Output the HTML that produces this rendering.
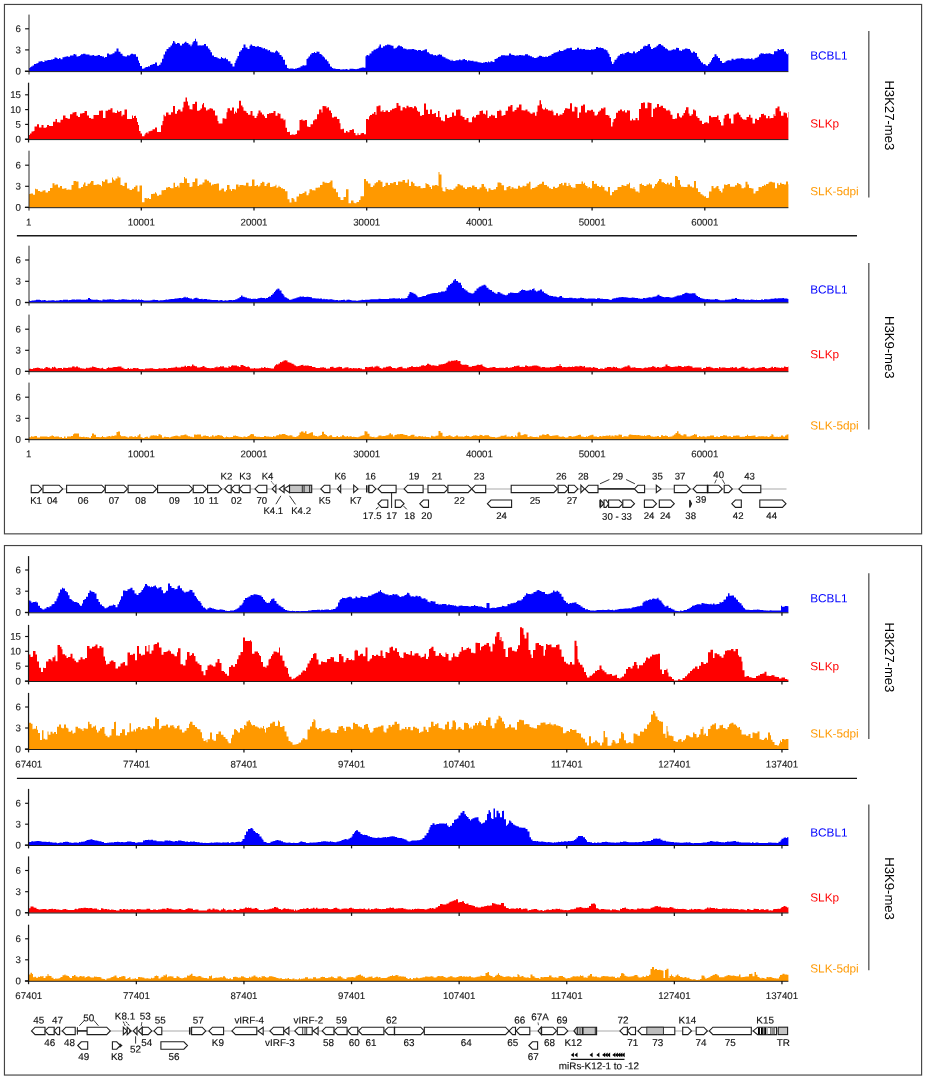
<!DOCTYPE html>
<html><head><meta charset="utf-8"><title>Figure</title>
<style>html,body{margin:0;padding:0;background:#fff}body{width:926px;height:1080px;overflow:hidden;font-family:"Liberation Sans",sans-serif}svg{display:block}</style>
</head><body>
<svg width="926" height="1080" viewBox="0 0 926 1080" style="will-change:transform">
<rect width="926" height="1080" fill="#fff"/>
<rect x="4.45" y="4.45" width="917.15" height="529.4" fill="none" stroke="#444" stroke-width="1.15"/>
<rect x="4.45" y="545.55" width="917.15" height="529.5" fill="none" stroke="#444" stroke-width="1.15"/>
<path d="M29.0,71.3V67.9H30.0V67.2H31.0V66.6H32.5V65.4H34.0V63.9H36.0V63.4H37.5V62.9H38.5V61.5H40.5V61.3H41.5V60.9H42.5V61.9H44.5V60.2H45.5V61.0H46.5V60.2H48.0V59.9H50.0V60.1H51.0V59.4H53.0V59.1H54.5V57.5H56.5V58.1H57.5V59.0H59.0V58.1H60.5V59.2H62.5V57.3H64.5V56.8H66.5V56.2H68.0V56.7H70.0V55.6H71.5V55.6H73.5V54.0H75.0V54.5H76.5V56.4H78.5V55.9H80.0V55.3H81.0V54.3H83.0V53.8H84.0V53.7H85.5V54.4H87.5V54.5H89.5V55.6H91.5V55.6H92.5V55.1H94.0V55.7H95.5V56.0H96.5V55.6H98.0V55.0H100.0V56.0H102.0V56.6H104.0V57.7H105.0V57.1H107.0V53.6H109.0V54.5H111.0V54.3H112.5V53.2H114.5V51.6H116.5V48.4H118.5V51.7H120.5V53.8H122.5V55.7H123.5V56.2H125.0V56.4H127.0V55.3H128.5V55.5H130.0V54.4H131.0V53.8H133.0V54.3H134.5V54.3H136.0V56.7H138.0V60.5H139.0V63.0H140.0V66.1H142.0V68.7H143.5V68.5H144.5V67.7H145.5V67.1H146.5V67.0H148.0V66.2H149.0V66.4H150.0V65.0H151.5V64.5H153.0V64.0H155.0V62.5H157.0V65.7H159.0V64.8H160.5V62.4H162.0V58.7H163.5V54.5H165.0V51.4H166.5V49.0H168.5V47.3H170.5V45.6H172.0V43.6H173.0V40.9H174.5V42.4H175.5V44.1H177.0V43.1H179.0V43.5H180.0V45.6H182.0V43.8H184.0V42.8H185.0V41.7H186.5V42.9H188.5V44.6H190.5V46.3H191.5V44.5H192.5V42.3H193.5V41.0H195.0V38.7H196.0V41.4H197.5V45.5H199.5V45.3H200.5V45.4H202.5V45.3H204.0V44.1H206.0V46.3H208.0V48.6H209.5V50.1H210.5V52.2H212.0V55.5H214.0V57.0H216.0V57.2H217.5V58.2H219.0V58.7H221.0V57.1H222.0V58.1H223.0V58.4H225.0V57.8H226.0V59.2H228.0V61.3H229.0V61.3H230.5V63.7H232.5V66.6H234.5V62.9H235.5V60.6H236.5V58.6H237.5V55.9H239.0V51.7H240.5V50.2H242.0V48.1H243.5V44.6H245.5V47.4H247.5V48.9H249.5V45.7H250.5V44.6H252.0V45.8H253.0V46.1H255.0V46.8H257.0V46.3H259.0V47.0H261.0V47.4H262.5V48.4H264.0V48.1H265.0V49.2H266.5V49.2H267.5V50.5H269.0V50.1H270.0V51.7H271.5V52.4H272.5V52.1H273.5V52.7H275.0V51.4H276.0V50.6H277.0V51.2H278.0V52.4H279.5V55.1H281.5V56.8H283.0V59.8H285.0V64.8H287.0V68.0H288.5V68.8H290.0V68.5H292.0V68.5H293.5V69.0H295.0V68.6H297.0V68.0H298.5V67.4H300.5V66.2H302.5V65.2H304.0V65.4H305.5V65.3H306.5V59.1H307.5V58.3H308.5V56.4H310.0V54.5H311.5V53.1H312.5V53.1H314.0V52.0H315.0V53.1H316.5V51.6H317.5V51.7H319.5V54.0H321.5V55.1H322.5V56.6H324.0V57.4H325.0V59.5H327.0V61.2H328.5V63.8H330.0V66.6H331.0V66.7H332.0V67.9H333.0V68.6H335.0V68.7H336.0V69.0H337.0V68.9H338.0V68.9H340.0V69.4H341.5V69.5H342.5V69.3H344.5V69.5H345.5V69.0H347.5V69.7H349.5V68.8H351.5V68.8H353.5V68.9H355.5V69.2H356.5V68.9H357.5V68.8H359.0V68.2H360.5V67.8H362.0V67.5H364.0V67.8H365.5V56.3H366.5V54.9H368.0V55.4H369.5V53.5H371.5V51.2H373.5V49.8H374.5V49.4H376.0V48.8H377.5V47.9H378.5V46.4H379.5V44.6H381.0V47.8H383.0V46.2H385.0V45.3H387.0V44.6H388.5V44.8H390.5V45.6H392.0V45.7H393.5V48.4H395.5V47.8H397.0V46.5H398.0V45.6H400.0V46.2H402.0V46.9H403.0V48.5H405.0V48.7H406.5V49.5H408.0V49.2H410.0V49.3H412.0V49.0H414.0V49.4H415.5V49.9H417.0V50.7H418.0V50.0H419.5V49.9H421.0V51.0H422.5V50.2H424.5V49.5H425.5V49.3H427.0V52.2H429.0V53.5H430.0V54.3H431.0V54.3H433.0V55.3H435.0V55.1H436.0V55.8H437.5V54.7H439.0V54.3H440.0V54.7H442.0V56.4H443.5V57.2H445.5V58.4H447.5V59.3H449.0V59.7H450.5V61.0H451.5V59.8H452.5V60.8H453.5V61.0H455.5V60.3H457.0V60.3H458.0V60.3H459.0V59.5H460.5V60.3H462.5V59.2H464.0V59.0H465.0V60.1H467.0V61.2H468.0V60.3H469.0V60.5H470.5V60.9H471.5V60.7H473.5V61.5H475.5V61.6H477.5V62.3H479.5V62.5H481.5V62.9H483.0V62.5H485.0V62.0H487.0V62.6H488.0V61.6H489.0V62.2H490.5V61.2H492.5V61.9H494.5V59.0H496.5V58.3H498.0V57.0H499.5V56.4H501.0V55.3H503.0V55.2H505.0V55.4H507.0V55.4H509.0V53.5H511.0V54.7H512.5V54.9H514.5V55.7H516.5V55.3H517.5V55.4H519.0V54.9H521.0V55.3H523.0V55.4H525.0V54.3H527.0V54.2H528.0V55.6H530.0V56.3H532.0V57.3H534.0V57.9H536.0V57.8H537.5V56.8H539.0V55.8H541.0V55.9H542.0V56.7H544.0V57.1H545.5V56.3H546.5V57.1H548.0V55.9H549.5V55.5H551.5V54.0H553.5V52.7H555.5V52.3H557.5V51.6H559.0V50.0H560.0V51.0H562.0V51.0H563.5V49.7H565.5V49.3H566.5V48.3H568.0V48.2H570.0V47.8H572.0V50.0H574.0V49.9H575.0V49.2H577.0V47.8H579.0V49.3H580.0V48.8H581.5V49.2H583.0V49.1H585.0V49.7H587.0V49.7H589.0V50.0H591.0V49.3H592.5V49.7H593.5V49.2H595.0V49.1H596.0V47.1H598.0V47.8H600.0V47.6H601.0V47.9H603.0V48.5H604.0V49.5H606.0V50.2H607.5V52.5H608.5V53.9H609.5V57.0H611.0V61.5H612.0V64.0H613.5V62.2H614.5V59.8H616.5V58.2H617.5V56.3H618.5V55.6H620.0V54.1H622.0V53.6H623.5V54.5H624.5V53.0H626.5V52.1H628.0V51.8H629.0V52.7H630.0V53.1H631.0V53.2H633.0V51.5H635.0V53.2H636.5V52.1H638.0V51.1H639.0V51.0H640.0V49.2H641.5V48.8H643.0V46.4H644.5V45.5H645.5V46.1H647.5V44.6H648.5V44.1H650.0V46.7H651.0V48.9H653.0V48.1H654.5V47.2H656.5V45.7H658.0V44.5H659.0V44.1H661.0V45.2H662.5V45.8H663.5V47.0H665.0V48.4H667.0V49.3H668.0V50.6H670.0V50.5H671.5V49.7H673.0V49.2H674.0V49.6H676.0V47.8H677.5V47.9H679.0V50.6H681.0V50.9H682.0V49.5H684.0V49.3H685.0V48.5H687.0V48.8H688.0V48.9H690.0V50.6H691.0V52.6H692.0V52.7H693.0V51.6H694.0V51.7H695.0V53.0H697.0V56.8H698.5V59.1H700.0V60.7H701.0V62.6H703.0V64.2H704.0V64.1H705.5V65.3H706.5V65.7H708.0V64.0H709.5V62.3H711.0V60.2H712.0V58.1H713.0V57.1H714.5V54.3H716.5V56.2H718.0V57.9H720.0V61.1H722.0V62.9H724.0V62.5H725.5V61.3H726.5V60.8H727.5V60.2H729.5V60.5H731.5V58.8H733.5V59.8H735.5V58.7H737.0V58.5H739.0V58.5H741.0V57.9H742.5V58.5H744.5V59.3H745.5V58.7H747.5V58.4H749.5V59.0H751.0V58.2H752.5V59.4H754.5V58.3H755.5V57.7H757.5V56.7H759.0V54.5H760.5V53.2H762.0V53.5H764.0V54.0H765.5V53.6H767.5V53.8H768.5V53.2H770.5V54.0H772.0V54.3H774.0V51.2H775.5V51.2H777.5V48.9H779.0V50.0H780.5V49.2H782.5V48.9H784.0V51.6H786.0V53.4H787.0V54.3H788.0V53.2H788.4V71.3Z" fill="#0000ff"/>
<line x1="29.0" y1="14.6" x2="29.0" y2="74.5" stroke="#2a2a2a" stroke-width="1.0"/>
<line x1="25.1" y1="28.8" x2="29.0" y2="28.8" stroke="#111" stroke-width="1.15"/>
<text transform="translate(21.0 32.10) rotate(0.03)" font-size="9.7" text-anchor="end" text-rendering="geometricPrecision" font-family="Liberation Sans, sans-serif" fill="#1a1a1a" stroke="#1a1a1a" stroke-width="0.12">6</text>
<line x1="25.1" y1="49.9" x2="29.0" y2="49.9" stroke="#111" stroke-width="1.15"/>
<text transform="translate(21.0 53.20) rotate(0.03)" font-size="9.7" text-anchor="end" text-rendering="geometricPrecision" font-family="Liberation Sans, sans-serif" fill="#1a1a1a" stroke="#1a1a1a" stroke-width="0.12">3</text>
<line x1="25.1" y1="71.3" x2="29.0" y2="71.3" stroke="#111" stroke-width="1.15"/>
<text transform="translate(21.0 74.60) rotate(0.03)" font-size="9.7" text-anchor="end" text-rendering="geometricPrecision" font-family="Liberation Sans, sans-serif" fill="#1a1a1a" stroke="#1a1a1a" stroke-width="0.12">0</text>
<line x1="24.9" y1="71.3" x2="28.5" y2="71.3" stroke="#111" stroke-width="1.25"/>
<line x1="28.5" y1="71.60" x2="788.4" y2="71.60" stroke="#111" stroke-width="0.95"/>
<line x1="141.3" y1="71.3" x2="141.3" y2="74.5" stroke="#111" stroke-width="1.25"/>
<line x1="254.0" y1="71.3" x2="254.0" y2="74.5" stroke="#111" stroke-width="1.25"/>
<line x1="366.70000000000005" y1="71.3" x2="366.70000000000005" y2="74.5" stroke="#111" stroke-width="1.25"/>
<line x1="479.40000000000003" y1="71.3" x2="479.40000000000003" y2="74.5" stroke="#111" stroke-width="1.25"/>
<line x1="592.1" y1="71.3" x2="592.1" y2="74.5" stroke="#111" stroke-width="1.25"/>
<line x1="704.8000000000001" y1="71.3" x2="704.8000000000001" y2="74.5" stroke="#111" stroke-width="1.25"/>
<path d="M29.0,139.3V135.1H30.0V133.6H31.5V131.5H33.5V131.1H34.5V126.5H37.0V124.3H39.0V127.4H41.5V124.9H43.5V127.7H46.0V127.2H47.0V125.1H49.0V125.9H51.0V126.0H53.0V121.8H55.5V119.1H57.0V122.3H59.0V122.5H60.5V119.8H63.0V115.4H65.5V118.0H67.5V118.7H70.0V114.3H72.5V112.5H74.5V111.9H76.5V115.8H78.0V116.9H80.0V113.6H82.5V112.9H84.5V110.9H87.0V115.5H89.0V118.0H91.0V118.7H93.5V115.0H95.5V114.9H97.5V115.0H99.0V110.8H101.0V110.4H103.0V118.0H105.5V110.8H108.0V109.7H110.5V108.3H112.5V112.6H115.0V113.0H117.0V110.4H118.0V111.8H120.0V111.0H121.5V116.3H122.5V114.8H124.5V109.4H127.0V119.1H128.0V119.1H130.5V119.1H132.0V115.6H133.0V117.9H134.0V115.9H135.0V115.8H136.0V118.1H137.0V121.9H138.0V125.0H139.0V130.9H140.5V133.5H142.0V136.3H144.5V134.6H145.5V133.1H146.5V132.3H147.5V133.6H148.5V131.3H150.5V130.7H152.5V129.2H155.0V127.6H157.0V131.9H159.0V132.0H161.0V125.3H162.5V121.0H163.5V114.8H164.5V116.2H166.0V112.6H168.5V114.8H171.0V112.3H173.0V106.1H175.0V113.7H177.0V110.9H178.0V109.4H180.5V111.5H182.5V107.5H183.5V101.7H185.5V97.5H187.0V101.4H188.0V105.6H189.5V109.2H191.5V109.4H192.5V104.1H195.0V101.8H197.0V110.8H199.5V110.1H200.5V108.6H202.0V104.5H203.0V102.9H204.0V107.2H205.0V107.6H206.0V110.4H207.5V109.6H209.5V108.3H211.5V108.7H213.0V110.5H215.0V115.5H217.5V121.1H218.5V123.4H221.0V123.4H222.5V118.3H224.5V118.8H226.5V112.3H227.5V108.3H230.0V110.4H232.0V107.6H234.0V113.7H235.0V111.5H236.0V112.8H237.0V108.6H239.0V100.7H241.0V105.5H242.5V107.2H243.5V110.7H245.5V111.2H246.5V112.9H248.0V114.8H250.5V111.1H252.5V115.8H254.5V118.0H256.5V116.0H257.5V113.4H258.5V110.4H260.5V112.4H262.0V114.6H264.0V116.3H265.0V118.0H267.0V114.1H269.0V113.3H271.0V113.1H273.5V111.1H275.5V115.8H277.5V113.3H279.0V113.7H280.5V118.5H282.5V118.5H283.5V120.2H284.5V119.4H285.5V127.8H287.0V132.0H289.0V131.7H290.0V135.1H291.5V134.4H293.5V134.8H295.5V133.9H297.0V130.4H299.5V120.1H301.5V119.2H302.5V120.6H305.0V120.1H307.0V126.6H308.5V127.0H310.5V124.3H313.0V120.5H314.5V119.3H317.0V114.3H319.0V109.4H321.5V112.6H322.5V106.1H324.5V106.2H326.5V108.3H327.5V107.2H329.0V110.4H331.0V112.9H332.0V117.6H334.0V116.7H335.5V116.7H337.0V119.0H339.5V123.3H340.5V129.2H342.5V128.8H344.0V132.7H346.0V131.1H347.5V132.3H349.5V130.0H352.0V129.2H354.0V132.9H355.5V135.3H357.5V133.2H358.5V134.9H360.5V133.4H361.5V133.1H364.0V134.2H366.0V119.1H368.0V119.6H369.0V116.2H370.0V114.9H372.0V113.7H374.0V112.1H375.5V114.8H376.5V106.2H378.5V105.6H380.5V111.5H382.5V110.1H383.5V112.1H385.5V110.4H388.0V111.9H390.0V110.2H392.0V108.7H394.5V107.9H396.5V102.9H398.5V105.7H400.5V110.4H402.5V107.2H405.0V108.3H406.5V105.8H408.5V107.2H410.0V106.9H412.5V108.3H414.0V106.3H416.0V107.6H417.0V110.7H418.0V111.7H420.0V115.8H422.0V115.0H424.0V103.5H426.0V109.7H428.0V113.9H430.0V109.6H432.0V114.0H433.5V113.7H434.5V113.0H436.0V116.9H438.0V111.1H439.5V117.3H441.0V120.4H443.0V121.2H445.0V114.8H447.0V118.1H449.5V116.9H452.0V112.6H454.0V115.8H456.0V109.7H458.0V109.4H460.5V115.7H462.5V116.9H464.5V119.7H466.5V118.0H468.5V122.2H470.0V122.3H472.0V117.3H473.0V116.3H474.0V117.5H476.0V114.9H477.0V114.8H479.5V111.1H481.5V110.4H483.0V113.7H485.0V114.6H486.0V110.4H487.5V118.0H489.0V116.2H491.0V114.8H492.5V115.6H494.0V115.4H495.0V118.0H497.0V111.0H499.5V109.8H500.5V110.7H501.5V115.8H503.5V114.9H505.5V110.8H508.0V106.4H510.5V105.0H512.5V111.5H514.5V109.9H516.5V107.6H519.0V104.6H521.5V110.3H523.5V110.5H525.5V109.4H527.5V111.5H529.5V112.7H530.5V113.7H532.5V112.6H535.0V115.8H536.5V111.7H537.5V105.5H539.5V100.3H541.0V104.2H542.0V108.6H543.0V109.6H545.0V107.8H546.0V109.2H548.0V110.4H550.5V111.1H551.5V109.8H552.5V111.5H553.5V115.3H556.0V113.3H558.0V115.8H559.5V114.5H561.5V114.8H562.5V112.9H564.0V110.3H565.0V108.3H567.5V108.8H570.0V103.3H572.0V111.5H574.5V106.8H576.0V107.2H577.5V118.0H579.0V112.4H581.0V105.8H583.0V104.6H585.0V112.6H587.0V110.2H589.0V110.5H591.0V109.8H593.0V111.8H594.5V115.4H597.0V114.6H598.0V111.7H599.5V110.5H601.0V108.3H602.5V108.7H603.5V107.4H605.5V114.9H608.0V115.6H609.5V117.9H611.0V126.6H612.5V122.3H613.5V118.9H615.0V118.2H616.0V112.7H618.0V110.8H620.0V109.6H622.0V111.3H624.0V110.3H625.0V112.6H627.0V110.2H628.0V110.4H630.0V120.4H632.0V118.7H633.0V120.2H635.5V117.9H637.5V120.2H639.0V109.1H641.0V103.0H643.0V102.4H645.0V108.3H647.5V102.4H649.5V102.9H651.5V116.9H653.0V108.8H655.0V107.4H657.0V104.0H659.0V106.9H660.5V105.8H663.0V108.0H664.5V108.4H666.0V110.4H668.5V109.8H669.5V111.2H670.5V114.8H672.5V119.1H675.0V118.5H677.0V113.2H679.0V116.6H680.0V117.6H682.0V115.4H683.5V113.0H685.0V110.3H686.0V107.2H688.5V113.6H689.5V115.8H691.5V114.3H693.0V109.5H694.5V110.4H696.0V116.2H697.5V118.1H699.5V120.7H702.0V124.0H704.0V122.8H705.5V122.2H707.5V123.3H709.0V115.8H711.0V117.3H713.0V116.9H715.0V117.1H717.0V115.4H718.5V120.0H720.0V121.9H721.0V125.6H723.5V118.6H724.5V115.1H726.5V113.7H729.0V118.6H731.0V123.4H733.5V114.6H735.5V113.5H737.0V112.6H739.0V114.8H740.5V117.2H742.0V118.8H743.0V119.6H745.5V120.0H746.5V117.0H749.0V114.8H750.5V117.8H752.5V123.4H755.0V118.7H757.0V120.1H759.0V117.3H761.0V114.1H763.0V113.8H764.0V115.2H766.0V118.2H768.0V115.9H769.5V118.5H770.5V117.9H771.5V118.0H773.5V114.3H774.5V116.1H775.5V108.3H777.5V106.4H779.5V111.3H781.0V115.8H783.5V112.6H785.5V113.3H787.0V117.6H788.0V111.9H788.4V139.3Z" fill="#ff0000"/>
<line x1="28.55" y1="82.7" x2="28.55" y2="142.5" stroke="#1a1a1a" stroke-width="1.25"/>
<line x1="25.1" y1="94.8" x2="28.55" y2="94.8" stroke="#111" stroke-width="1.15"/>
<text transform="translate(21.0 98.10) rotate(0.03)" font-size="9.7" text-anchor="end" text-rendering="geometricPrecision" font-family="Liberation Sans, sans-serif" fill="#1a1a1a" stroke="#1a1a1a" stroke-width="0.12">15</text>
<line x1="25.1" y1="109.6" x2="28.55" y2="109.6" stroke="#111" stroke-width="1.15"/>
<text transform="translate(21.0 112.90) rotate(0.03)" font-size="9.7" text-anchor="end" text-rendering="geometricPrecision" font-family="Liberation Sans, sans-serif" fill="#1a1a1a" stroke="#1a1a1a" stroke-width="0.12">10</text>
<line x1="25.1" y1="124.4" x2="28.55" y2="124.4" stroke="#111" stroke-width="1.15"/>
<text transform="translate(21.0 127.70) rotate(0.03)" font-size="9.7" text-anchor="end" text-rendering="geometricPrecision" font-family="Liberation Sans, sans-serif" fill="#1a1a1a" stroke="#1a1a1a" stroke-width="0.12">5</text>
<line x1="25.1" y1="139.3" x2="28.55" y2="139.3" stroke="#111" stroke-width="1.15"/>
<text transform="translate(21.0 142.60) rotate(0.03)" font-size="9.7" text-anchor="end" text-rendering="geometricPrecision" font-family="Liberation Sans, sans-serif" fill="#1a1a1a" stroke="#1a1a1a" stroke-width="0.12">0</text>
<line x1="24.9" y1="139.3" x2="28.5" y2="139.3" stroke="#111" stroke-width="1.25"/>
<line x1="28.5" y1="139.60" x2="788.4" y2="139.60" stroke="#111" stroke-width="0.95"/>
<line x1="141.3" y1="139.3" x2="141.3" y2="142.5" stroke="#111" stroke-width="1.25"/>
<line x1="254.0" y1="139.3" x2="254.0" y2="142.5" stroke="#111" stroke-width="1.25"/>
<line x1="366.70000000000005" y1="139.3" x2="366.70000000000005" y2="142.5" stroke="#111" stroke-width="1.25"/>
<line x1="479.40000000000003" y1="139.3" x2="479.40000000000003" y2="142.5" stroke="#111" stroke-width="1.25"/>
<line x1="592.1" y1="139.3" x2="592.1" y2="142.5" stroke="#111" stroke-width="1.25"/>
<line x1="704.8000000000001" y1="139.3" x2="704.8000000000001" y2="142.5" stroke="#111" stroke-width="1.25"/>
<path d="M29.0,207.4V193.9H30.5V193.6H33.0V194.7H35.0V188.8H36.0V189.3H38.0V191.1H40.0V191.7H42.5V190.4H44.0V190.3H45.5V192.5H48.0V191.1H50.0V188.1H51.0V187.9H52.5V183.3H54.5V185.2H55.5V184.5H58.0V187.6H60.0V186.1H62.0V188.8H64.5V188.2H66.5V190.1H67.5V189.6H69.5V189.7H71.5V185.1H73.5V181.1H76.0V181.4H78.5V188.2H81.0V186.9H83.0V184.5H84.0V182.4H85.5V186.0H87.5V183.7H90.0V182.5H91.0V181.1H93.5V184.9H95.5V184.7H97.5V183.9H98.5V184.7H100.0V184.9H101.0V186.2H102.0V181.1H103.0V181.7H105.0V179.5H107.5V183.2H109.5V182.8H112.0V177.4H113.0V179.5H114.0V180.6H115.5V178.4H117.5V176.3H118.5V177.6H120.5V185.0H122.5V186.0H124.5V182.8H127.0V188.6H129.5V189.9H132.0V188.8H134.0V187.0H135.5V185.4H137.5V191.4H139.5V185.4H142.0V202.2H144.5V197.9H146.5V198.4H148.0V198.0H149.0V199.0H151.0V194.0H153.0V193.8H155.0V192.3H156.0V193.6H157.0V195.7H159.0V194.8H161.5V190.3H164.0V190.1H166.0V187.5H168.0V187.1H170.0V188.1H171.0V188.2H173.5V182.8H175.0V187.1H177.0V185.7H178.5V187.5H179.5V183.0H180.5V182.7H182.0V182.9H184.0V177.0H185.0V178.5H187.0V183.1H189.5V187.1H191.5V186.5H192.5V181.9H195.0V178.5H197.5V186.0H199.0V184.8H200.0V184.6H202.5V182.6H204.5V179.5H207.0V180.7H209.0V182.6H211.0V185.5H212.0V184.5H214.0V183.9H216.5V183.4H219.0V190.5H220.5V189.8H221.5V188.5H224.0V191.4H226.0V189.9H227.0V184.9H229.5V189.3H231.0V191.1H232.0V189.1H234.5V189.5H236.0V184.5H238.5V186.7H239.5V185.0H241.0V184.9H243.5V185.5H246.0V182.8H248.5V186.2H251.0V186.0H252.0V179.5H254.5V186.0H256.5V185.0H258.0V186.6H259.5V185.6H260.5V183.0H262.0V181.7H263.5V182.3H264.5V186.0H266.5V184.1H267.5V182.8H270.0V187.1H272.5V186.4H274.5V186.0H275.5V184.7H276.5V187.9H277.5V187.3H278.5V185.7H279.5V187.0H281.0V188.2H283.0V188.9H285.0V191.2H287.5V199.2H289.5V202.5H291.5V197.9H293.5V199.2H294.5V201.8H296.5V196.4H299.0V193.8H300.0V193.9H302.5V192.9H304.5V191.5H306.5V195.3H308.5V193.3H309.5V189.3H312.0V190.2H313.0V190.3H314.5V190.5H315.5V187.8H318.0V187.4H320.0V185.1H322.5V181.7H324.5V182.8H327.0V183.0H329.5V182.0H330.5V180.6H332.5V187.4H333.5V188.7H336.0V192.3H338.0V196.9H339.5V197.3H340.5V199.9H341.5V200.1H343.5V197.0H346.0V189.3H348.5V203.3H351.0V200.5H353.5V202.8H354.5V203.3H356.5V202.0H359.0V200.0H360.5V196.2H362.0V196.2H364.0V178.9H366.0V181.3H368.0V183.4H370.5V187.1H373.0V185.5H374.5V183.3H376.0V182.2H378.0V180.3H380.5V181.7H382.5V187.1H384.0V186.1H385.5V182.8H388.0V184.9H390.0V183.0H391.5V183.3H393.5V182.1H396.0V184.9H398.0V181.5H400.5V181.7H402.5V180.1H405.0V182.8H407.5V179.5H409.0V186.0H411.0V181.7H413.0V183.3H414.5V186.1H416.5V186.4H418.5V186.0H420.5V188.2H423.0V188.1H425.5V183.0H426.5V183.9H428.5V185.0H429.5V187.1H431.0V188.9H432.0V185.5H433.5V185.4H435.0V185.1H437.5V186.0H438.5V172.0H439.5V174.6H441.5V187.5H442.5V190.9H443.5V191.4H445.5V187.1H446.5V189.1H448.5V189.9H449.5V189.3H451.5V190.1H453.5V188.5H455.5V186.4H457.5V183.9H459.5V184.7H460.5V185.6H463.0V187.5H465.0V189.1H467.0V187.3H469.0V187.1H471.0V187.8H472.0V185.6H474.5V187.0H477.0V189.3H479.5V187.5H481.5V183.9H484.0V186.7H485.5V188.7H487.0V191.4H488.5V188.2H490.5V189.7H491.5V189.9H493.5V189.3H496.0V187.0H497.5V182.5H499.5V182.4H500.5V183.1H501.5V185.2H504.0V190.3H506.5V187.0H508.5V186.0H510.5V188.9H511.5V187.3H513.5V188.5H516.0V188.8H518.0V185.8H520.0V187.2H522.5V185.7H524.5V186.4H525.5V186.1H526.5V183.6H529.0V181.7H530.5V189.3H532.0V188.1H534.0V187.7H535.5V186.7H537.5V185.0H539.0V184.3H540.5V183.8H542.0V181.7H544.0V185.0H545.0V185.1H547.0V186.4H549.0V188.2H551.0V189.0H553.0V186.7H555.0V188.0H557.0V187.5H558.0V186.8H559.0V183.9H561.0V183.1H562.5V185.2H564.0V182.8H566.5V186.1H568.5V182.9H569.5V185.3H571.0V187.0H572.5V188.2H573.5V187.2H574.5V188.1H575.5V184.1H577.5V184.0H579.5V184.1H581.5V181.4H583.0V183.8H584.0V182.7H585.0V185.3H586.0V185.9H587.5V188.3H588.5V186.9H590.0V188.2H592.0V181.1H594.0V184.0H595.0V183.7H597.0V186.1H599.0V187.1H601.0V185.4H602.5V187.0H604.5V190.6H606.5V191.4H608.0V187.1H610.0V195.3H612.0V192.1H614.0V190.3H616.0V190.0H617.5V186.9H619.5V187.0H621.5V184.9H623.0V185.6H624.5V186.0H626.5V184.3H629.0V182.8H630.0V188.2H632.5V188.8H633.5V187.1H634.5V189.2H635.5V191.4H636.5V191.4H638.5V192.7H639.5V183.9H641.0V183.5H642.0V184.9H644.0V185.9H646.5V184.6H649.0V183.3H650.0V184.5H652.0V188.2H654.0V186.4H655.0V184.1H657.0V182.5H658.0V181.0H659.0V179.1H661.5V182.3H664.0V183.1H665.0V184.0H666.0V184.3H667.0V182.8H668.5V184.5H670.0V182.8H672.0V186.2H674.0V187.1H675.0V175.9H677.0V176.8H678.0V180.1H680.0V184.7H681.0V186.7H683.5V186.9H685.5V187.0H687.5V184.5H690.0V186.6H692.0V187.5H694.0V181.0H696.0V188.2H698.0V192.0H700.5V194.2H702.5V195.5H704.0V196.5H705.0V196.3H706.0V197.9H708.0V197.8H709.0V191.4H711.5V186.0H713.5V188.2H715.5V187.2H716.5V186.0H718.5V188.9H719.5V190.9H721.0V192.5H722.5V188.4H724.0V184.4H725.5V185.0H727.5V183.9H730.0V186.7H732.5V186.8H735.0V185.3H737.0V182.9H738.5V183.9H740.5V185.2H741.5V188.3H744.0V187.5H745.5V181.7H747.5V184.6H749.0V187.9H751.5V188.6H753.5V193.6H755.5V191.2H756.5V191.1H758.5V187.1H760.5V187.2H762.0V186.1H764.0V184.8H765.0V185.6H766.0V184.0H768.5V182.5H769.5V181.8H772.0V182.3H773.0V182.4H775.0V188.2H777.0V183.2H778.5V185.0H780.0V182.8H781.5V183.9H784.0V184.4H786.0V181.5H788.0V184.2H788.4V207.4Z" fill="#ff9900"/>
<line x1="29.0" y1="150.7" x2="29.0" y2="210.6" stroke="#2a2a2a" stroke-width="1.0"/>
<line x1="25.1" y1="165.2" x2="29.0" y2="165.2" stroke="#111" stroke-width="1.15"/>
<text transform="translate(21.0 168.50) rotate(0.03)" font-size="9.7" text-anchor="end" text-rendering="geometricPrecision" font-family="Liberation Sans, sans-serif" fill="#1a1a1a" stroke="#1a1a1a" stroke-width="0.12">6</text>
<line x1="25.1" y1="186.3" x2="29.0" y2="186.3" stroke="#111" stroke-width="1.15"/>
<text transform="translate(21.0 189.60) rotate(0.03)" font-size="9.7" text-anchor="end" text-rendering="geometricPrecision" font-family="Liberation Sans, sans-serif" fill="#1a1a1a" stroke="#1a1a1a" stroke-width="0.12">3</text>
<line x1="25.1" y1="207.4" x2="29.0" y2="207.4" stroke="#111" stroke-width="1.15"/>
<text transform="translate(21.0 210.70) rotate(0.03)" font-size="9.7" text-anchor="end" text-rendering="geometricPrecision" font-family="Liberation Sans, sans-serif" fill="#1a1a1a" stroke="#1a1a1a" stroke-width="0.12">0</text>
<line x1="24.9" y1="207.4" x2="28.5" y2="207.4" stroke="#111" stroke-width="1.25"/>
<line x1="28.5" y1="207.70" x2="788.4" y2="207.70" stroke="#111" stroke-width="0.95"/>
<line x1="141.3" y1="207.4" x2="141.3" y2="210.6" stroke="#111" stroke-width="1.25"/>
<line x1="254.0" y1="207.4" x2="254.0" y2="210.6" stroke="#111" stroke-width="1.25"/>
<line x1="366.70000000000005" y1="207.4" x2="366.70000000000005" y2="210.6" stroke="#111" stroke-width="1.25"/>
<line x1="479.40000000000003" y1="207.4" x2="479.40000000000003" y2="210.6" stroke="#111" stroke-width="1.25"/>
<line x1="592.1" y1="207.4" x2="592.1" y2="210.6" stroke="#111" stroke-width="1.25"/>
<line x1="704.8000000000001" y1="207.4" x2="704.8000000000001" y2="210.6" stroke="#111" stroke-width="1.25"/>
<path d="M29.0,302.5V300.6H30.0V300.9H31.5V300.5H32.5V300.4H34.5V300.3H36.0V299.8H37.0V299.8H39.0V299.8H40.0V299.9H41.0V300.4H42.0V300.2H44.0V299.9H45.0V300.2H46.0V300.7H48.0V300.5H49.5V300.6H51.5V300.2H53.0V300.3H54.5V300.7H56.0V300.5H58.0V300.4H59.5V300.1H61.5V300.2H63.0V299.8H64.5V299.8H66.0V299.8H67.0V299.8H68.0V300.2H69.0V300.1H70.0V299.9H71.5V299.5H73.5V299.6H75.0V299.8H76.0V299.6H77.5V299.5H78.5V299.5H79.5V299.4H81.0V299.7H83.0V299.7H85.0V299.8H86.0V299.6H88.0V298.1H90.0V298.9H91.0V299.4H92.5V299.8H94.0V299.8H95.0V299.8H96.5V299.6H97.5V300.0H99.0V300.3H101.0V300.4H102.5V299.6H104.5V299.7H105.5V299.8H107.0V299.6H108.5V299.6H109.5V299.3H111.0V299.4H112.5V299.2H113.5V299.8H115.0V300.0H117.0V299.9H118.5V299.6H119.5V299.7H121.5V299.2H122.5V299.3H124.5V299.4H125.5V299.6H127.0V299.8H128.0V299.8H129.5V299.9H131.5V299.6H132.5V299.6H134.0V299.7H135.5V299.6H137.0V300.1H138.0V299.6H139.5V299.9H141.0V299.6H142.0V300.1H143.5V300.4H145.0V300.5H146.5V300.5H148.5V300.4H150.5V300.2H152.5V299.7H153.5V299.8H155.0V300.1H157.0V299.9H158.0V300.4H160.0V300.3H161.5V300.3H163.5V299.9H165.5V299.4H167.0V299.7H168.5V299.2H170.5V298.9H172.5V298.9H174.5V298.6H175.5V298.4H176.5V298.4H177.5V298.2H179.0V298.1H181.0V298.3H182.0V297.9H183.0V297.4H184.5V296.8H185.5V297.4H187.0V297.3H188.0V298.0H189.0V298.3H190.0V298.6H192.0V299.2H193.5V298.5H194.5V298.1H195.5V297.7H197.5V298.5H199.0V298.9H200.5V299.1H201.5V298.8H202.5V299.3H204.0V298.9H205.0V299.1H207.0V299.4H208.5V299.4H210.0V299.7H211.5V300.0H212.5V299.9H214.0V300.0H216.0V299.9H218.0V300.4H219.5V300.3H220.5V300.1H222.5V300.7H224.0V300.4H225.0V300.3H226.0V300.4H227.0V300.5H228.5V299.9H230.0V300.1H232.0V300.3H233.0V300.0H235.0V299.6H236.0V299.3H237.5V298.3H239.5V296.9H241.0V295.5H242.5V296.7H244.5V297.2H245.5V297.4H247.0V298.3H249.0V298.4H251.0V298.9H252.5V298.7H254.0V298.7H256.0V299.0H257.5V298.2H259.5V298.1H260.5V297.7H262.0V297.9H264.0V297.9H265.0V298.5H266.0V298.1H268.0V296.9H269.0V296.4H270.0V296.6H271.0V295.1H272.5V293.6H274.0V292.1H275.0V290.8H276.0V289.5H277.5V288.6H278.5V288.8H279.5V290.5H281.5V293.2H282.5V294.1H283.5V295.6H284.5V297.3H286.5V298.1H287.5V298.8H289.0V299.8H291.0V299.4H292.5V298.7H294.5V298.3H296.5V297.4H298.0V297.2H299.5V296.5H301.0V296.8H302.5V296.6H304.0V296.9H305.5V297.0H306.5V296.7H308.5V297.0H310.5V297.2H312.0V298.2H314.0V298.3H315.5V298.6H317.5V298.4H319.0V298.7H320.0V298.6H322.0V299.3H323.5V298.8H324.5V299.2H325.5V299.2H326.5V299.0H327.5V299.4H329.5V299.3H331.5V299.3H332.5V299.7H334.5V300.2H335.5V300.0H336.5V300.0H338.0V300.4H339.0V300.3H341.0V300.1H343.0V299.7H345.0V300.4H346.5V299.8H348.5V299.6H349.5V300.0H351.5V300.4H353.5V300.6H354.5V300.5H356.0V300.7H357.0V300.8H358.0V300.4H359.5V300.2H361.5V299.8H363.0V299.9H364.0V300.1H365.0V299.8H366.5V299.7H367.5V299.8H368.5V299.8H369.5V299.4H370.5V299.3H372.5V299.2H374.5V299.3H376.5V299.2H378.5V298.8H380.5V298.9H382.0V299.1H384.0V299.0H386.0V299.0H387.5V299.1H389.0V298.5H390.5V298.5H392.5V298.2H393.5V298.2H395.0V298.4H397.0V298.6H398.5V298.3H400.0V298.9H401.0V298.3H402.0V298.6H404.0V298.5H405.5V298.1H407.5V296.1H408.5V294.3H409.5V292.1H411.5V292.8H413.5V293.8H415.5V294.7H416.5V295.8H417.5V297.3H419.5V297.1H421.5V296.6H422.5V296.1H424.0V295.9H426.0V294.9H427.0V294.6H428.0V294.3H429.5V294.1H430.5V293.4H432.0V293.3H433.5V293.1H434.5V293.1H436.0V292.9H438.0V292.3H440.0V292.3H441.0V291.6H443.0V291.5H444.0V291.4H445.0V290.8H446.5V287.5H448.0V285.3H450.0V283.9H451.5V282.8H453.0V280.6H454.5V279.1H456.0V280.9H458.0V282.6H459.0V282.8H461.0V285.2H462.0V288.1H464.0V289.2H465.5V290.5H467.5V292.0H468.5V292.7H470.5V293.2H471.5V293.4H472.5V293.4H473.5V292.7H474.5V290.7H476.5V288.6H478.5V287.2H479.5V286.5H481.5V285.5H483.5V284.7H485.5V285.7H486.5V287.7H488.5V289.4H490.0V289.9H492.0V291.7H494.0V292.8H495.5V293.8H496.5V293.8H497.5V292.1H499.5V292.4H500.5V293.4H502.5V294.6H504.5V295.1H505.5V295.5H506.5V294.7H508.0V293.2H510.0V292.5H511.5V292.7H512.5V292.7H513.5V292.9H515.0V292.9H517.0V292.9H518.0V292.4H519.5V291.0H521.0V289.9H522.0V289.5H523.0V289.9H525.0V290.4H526.0V290.8H527.5V290.5H529.5V289.8H531.0V290.3H532.0V289.0H533.5V288.2H534.5V290.5H536.0V291.6H537.5V290.8H538.5V290.4H540.0V289.5H542.0V291.5H544.0V292.9H545.5V293.7H547.5V295.0H549.0V295.7H550.0V295.7H551.0V296.1H553.0V296.6H554.0V296.6H556.0V296.8H557.0V297.3H559.0V296.6H560.0V296.0H562.0V297.4H563.5V298.1H565.5V297.9H567.0V298.0H569.0V297.7H571.0V297.8H572.5V298.2H574.5V298.1H575.5V298.3H576.5V298.5H578.0V298.2H580.0V297.7H582.0V298.0H584.0V298.4H586.0V298.7H588.0V298.6H589.5V298.5H590.5V298.6H592.5V298.6H594.5V298.4H595.5V298.9H597.0V298.3H598.0V298.3H600.0V298.7H602.0V298.7H603.0V298.9H604.5V299.0H606.0V298.9H608.0V299.3H609.5V299.9H610.5V299.8H612.0V298.7H613.0V298.6H614.0V298.2H615.0V298.3H616.0V297.8H617.0V297.7H618.5V297.2H620.5V297.3H621.5V297.1H623.5V297.2H625.5V297.3H626.5V297.6H628.5V297.9H629.5V297.8H630.5V297.9H631.5V297.6H633.5V297.8H635.0V298.0H637.0V298.0H638.0V298.5H640.0V298.7H641.0V298.7H643.0V298.1H645.0V298.2H646.5V297.8H647.5V297.8H648.5V297.2H650.5V297.6H652.5V296.8H654.5V296.4H656.5V295.7H657.5V294.7H659.5V295.9H661.5V296.7H663.0V296.9H664.0V297.2H665.5V297.1H667.0V297.0H669.0V297.2H670.5V297.7H671.5V297.4H673.0V297.3H674.5V296.6H676.5V295.7H677.5V295.5H679.0V295.5H680.0V295.3H682.0V294.3H683.0V293.9H684.5V292.9H685.5V292.7H687.5V293.2H689.0V293.5H691.0V293.4H692.0V293.3H693.0V293.3H694.0V293.3H695.5V294.8H696.5V296.0H698.0V297.1H700.0V297.9H701.0V298.3H702.5V298.7H704.5V299.2H706.5V299.1H708.0V299.3H709.0V299.2H710.0V299.5H711.0V299.4H712.0V299.5H713.5V299.4H715.0V299.1H716.5V299.3H718.0V299.7H719.5V300.2H721.5V300.3H723.0V300.3H725.0V299.8H726.5V299.7H728.5V299.6H730.5V299.4H731.5V298.8H733.0V298.8H735.0V298.1H737.0V299.0H739.0V299.2H740.5V299.6H741.5V299.4H743.0V299.3H744.5V299.9H745.5V299.8H747.0V299.8H749.0V299.9H750.5V299.6H752.5V299.8H754.5V300.0H756.0V299.8H757.0V300.1H759.0V299.9H761.0V299.5H763.0V299.9H764.0V299.3H766.0V299.2H767.5V299.4H768.5V299.2H770.5V298.8H772.5V298.7H774.5V298.3H776.5V298.7H777.5V298.3H779.5V298.3H781.5V298.3H782.5V298.1H784.0V298.6H785.5V298.4H787.5V298.9H788.4V302.5Z" fill="#0000ff"/>
<line x1="29.0" y1="245.7" x2="29.0" y2="305.7" stroke="#2a2a2a" stroke-width="1.0"/>
<line x1="25.1" y1="260" x2="29.0" y2="260" stroke="#111" stroke-width="1.15"/>
<text transform="translate(21.0 263.30) rotate(0.03)" font-size="9.7" text-anchor="end" text-rendering="geometricPrecision" font-family="Liberation Sans, sans-serif" fill="#1a1a1a" stroke="#1a1a1a" stroke-width="0.12">6</text>
<line x1="25.1" y1="281.3" x2="29.0" y2="281.3" stroke="#111" stroke-width="1.15"/>
<text transform="translate(21.0 284.60) rotate(0.03)" font-size="9.7" text-anchor="end" text-rendering="geometricPrecision" font-family="Liberation Sans, sans-serif" fill="#1a1a1a" stroke="#1a1a1a" stroke-width="0.12">3</text>
<line x1="25.1" y1="302.5" x2="29.0" y2="302.5" stroke="#111" stroke-width="1.15"/>
<text transform="translate(21.0 305.80) rotate(0.03)" font-size="9.7" text-anchor="end" text-rendering="geometricPrecision" font-family="Liberation Sans, sans-serif" fill="#1a1a1a" stroke="#1a1a1a" stroke-width="0.12">0</text>
<line x1="24.9" y1="302.5" x2="28.5" y2="302.5" stroke="#111" stroke-width="1.25"/>
<line x1="28.5" y1="302.80" x2="788.4" y2="302.80" stroke="#111" stroke-width="0.95"/>
<line x1="141.3" y1="302.5" x2="141.3" y2="305.7" stroke="#111" stroke-width="1.25"/>
<line x1="254.0" y1="302.5" x2="254.0" y2="305.7" stroke="#111" stroke-width="1.25"/>
<line x1="366.70000000000005" y1="302.5" x2="366.70000000000005" y2="305.7" stroke="#111" stroke-width="1.25"/>
<line x1="479.40000000000003" y1="302.5" x2="479.40000000000003" y2="305.7" stroke="#111" stroke-width="1.25"/>
<line x1="592.1" y1="302.5" x2="592.1" y2="305.7" stroke="#111" stroke-width="1.25"/>
<line x1="704.8000000000001" y1="302.5" x2="704.8000000000001" y2="305.7" stroke="#111" stroke-width="1.25"/>
<path d="M29.0,371.4V368.8H31.0V369.0H33.0V368.2H35.0V367.9H36.5V367.7H37.5V367.4H38.5V368.0H40.0V368.4H42.0V368.5H43.0V368.9H44.0V368.2H45.5V367.1H47.0V367.3H48.0V367.8H50.0V368.4H52.0V367.1H53.0V367.5H54.0V366.8H55.0V367.6H56.0V368.4H58.0V368.1H60.0V368.0H62.0V368.9H63.0V367.8H64.5V367.7H65.5V368.0H66.5V368.0H68.0V367.6H70.0V367.6H72.0V366.5H73.5V366.2H74.5V367.3H76.0V366.5H78.0V367.4H80.0V368.3H81.0V368.2H82.0V368.6H84.0V368.7H86.0V367.7H87.5V368.2H88.5V367.8H90.0V367.5H91.0V367.4H92.0V366.4H93.5V367.1H95.0V367.2H96.5V368.0H98.0V368.0H99.5V368.6H101.0V368.2H102.0V367.8H103.0V368.8H104.0V368.9H105.5V369.2H106.5V367.9H108.0V367.3H109.0V367.8H111.0V367.8H112.5V367.2H113.5V367.0H115.5V367.0H117.5V366.6H119.5V366.5H121.5V367.8H123.5V368.7H125.0V369.0H127.0V368.4H128.0V368.0H129.0V368.9H130.0V368.4H131.0V368.7H133.0V368.0H134.0V368.1H135.5V368.2H137.0V368.0H138.5V369.1H140.5V369.2H141.5V369.0H143.0V369.3H145.0V368.4H146.5V368.4H148.0V368.5H149.5V368.2H151.5V368.2H153.0V368.7H154.5V369.0H156.5V368.9H158.5V368.3H160.0V368.4H162.0V368.4H163.5V367.9H165.0V368.3H166.5V368.7H168.0V368.0H169.5V368.1H171.0V367.8H172.0V367.7H173.5V367.6H175.5V366.8H177.0V367.6H179.0V367.4H181.0V366.8H183.0V366.7H184.5V365.7H186.0V367.0H187.0V366.1H188.5V366.1H190.0V366.6H191.0V366.3H192.0V364.5H193.5V365.8H195.0V366.3H197.0V367.5H198.5V367.6H200.5V366.9H202.5V366.0H204.5V367.2H206.5V368.0H208.5V368.0H209.5V368.3H211.5V368.0H213.5V368.2H214.5V367.3H216.5V366.6H217.5V367.5H218.5V367.1H220.0V366.3H221.0V366.6H222.5V366.3H224.0V367.4H225.0V367.6H227.0V367.7H228.5V366.1H229.5V367.1H231.0V365.7H232.0V365.3H233.0V365.5H235.0V365.4H237.0V366.2H239.0V367.1H240.5V365.1H241.5V365.0H243.5V366.0H245.5V367.1H247.5V366.5H249.0V367.2H250.0V368.6H252.0V368.6H254.0V368.0H255.0V368.4H257.0V368.5H259.0V368.3H261.0V367.6H262.5V368.1H264.0V367.1H265.5V367.9H267.0V367.7H268.0V367.9H269.5V368.2H271.0V368.4H272.5V368.4H274.0V366.6H275.0V365.2H276.0V364.2H277.0V364.5H278.5V363.4H280.0V362.1H281.0V362.2H282.0V361.6H283.5V360.6H285.0V360.2H286.0V360.5H287.5V362.2H289.5V362.7H291.5V363.8H293.5V364.6H294.5V365.4H296.0V366.3H298.0V365.9H299.5V365.6H301.0V365.1H302.5V364.7H303.5V365.9H304.5V365.4H306.5V365.8H307.5V365.3H308.5V366.1H310.0V366.1H312.0V367.0H314.0V367.1H315.5V368.0H317.0V367.9H319.0V368.1H320.0V367.4H321.0V367.6H322.5V367.2H324.0V367.8H326.0V368.8H327.5V368.6H328.5V368.4H330.0V367.0H331.5V366.7H333.5V367.8H334.5V368.0H335.5V367.7H336.5V367.2H338.5V366.7H340.0V366.9H342.0V368.4H343.5V368.2H344.5V367.4H346.5V367.2H348.5V368.6H349.5V368.0H351.0V368.2H352.0V368.4H353.0V368.1H354.0V368.2H355.0V368.3H357.0V368.6H358.0V368.1H360.0V368.6H362.0V369.2H363.0V369.3H365.0V367.1H367.0V367.2H369.0V367.1H370.5V366.7H372.0V366.6H373.0V367.6H374.5V366.6H376.5V365.8H377.5V366.6H379.5V368.0H381.0V368.6H383.0V367.6H384.5V367.5H386.0V366.8H388.0V366.6H389.0V366.3H391.0V367.1H392.0V368.0H394.0V367.9H395.5V368.5H397.0V367.8H398.5V367.1H400.5V366.8H402.5V368.3H404.0V368.3H406.0V368.4H407.0V367.5H409.0V367.0H411.0V366.3H413.0V367.0H414.5V367.1H416.0V366.7H417.5V366.9H419.0V366.5H421.0V365.4H422.5V365.2H424.0V365.8H426.0V365.0H427.0V363.7H429.0V364.4H430.0V364.7H431.0V365.4H432.5V365.3H434.0V365.4H435.5V365.8H437.0V366.1H438.5V364.6H440.0V364.5H441.0V364.3H443.0V364.1H444.5V363.4H446.0V362.7H447.5V361.8H448.5V360.8H449.5V361.5H451.0V360.7H452.5V360.7H454.0V360.6H456.0V360.0H457.5V361.2H458.5V361.0H460.5V364.0H461.5V364.7H463.5V364.8H465.5V364.4H466.5V365.0H468.5V366.7H470.0V366.7H472.0V366.1H473.5V365.9H474.5V365.8H476.5V365.1H477.5V364.6H478.5V365.0H480.5V364.4H482.5V365.9H483.5V366.7H485.0V367.2H486.5V368.0H487.5V368.0H489.5V367.4H491.5V367.4H492.5V367.1H493.5V367.1H495.0V367.4H496.0V368.0H497.5V367.9H499.0V367.7H500.5V367.7H502.0V367.8H503.0V367.8H504.0V367.9H505.5V367.2H506.5V367.3H508.0V368.1H509.0V367.8H510.0V367.6H512.0V366.9H514.0V366.0H515.0V366.3H516.5V365.8H518.5V365.6H519.5V367.1H521.5V366.7H523.5V366.9H525.0V365.4H527.0V366.0H528.0V366.4H529.5V366.3H531.0V366.2H532.0V365.8H533.5V365.4H535.0V365.5H537.0V365.8H538.5V366.5H540.5V367.4H542.0V367.1H543.5V367.1H545.0V367.4H546.5V367.6H548.0V367.5H550.0V367.0H551.0V367.3H552.5V367.2H553.5V367.0H555.5V366.6H556.5V366.1H558.0V366.1H559.5V364.1H560.5V366.0H562.0V367.2H563.5V367.0H565.5V367.2H567.5V367.1H568.5V366.7H570.0V366.9H572.0V366.6H573.0V366.9H574.5V366.2H575.5V366.3H577.5V366.6H579.5V365.7H580.5V366.0H582.0V366.5H584.0V366.0H585.0V367.4H586.5V367.2H587.5V367.6H588.5V367.3H590.0V367.2H591.0V367.7H593.0V367.1H594.5V367.8H596.5V368.0H598.0V369.0H600.0V368.6H601.0V368.4H603.0V368.9H604.5V367.7H606.0V367.8H607.0V367.1H608.5V367.1H609.5V366.9H611.0V367.4H613.0V366.8H614.0V366.9H615.0V367.5H616.0V367.1H617.0V367.9H618.0V368.3H620.0V368.4H621.5V367.8H623.0V367.3H624.5V366.4H626.5V366.4H627.5V365.4H628.5V365.2H629.5V366.4H630.5V367.8H632.0V367.5H634.0V367.2H635.5V368.0H637.5V368.0H639.5V367.9H641.5V368.4H643.5V367.9H644.5V367.4H646.0V367.8H648.0V367.2H650.0V367.3H651.0V367.0H652.0V366.3H654.0V366.7H655.5V367.8H657.0V367.1H659.0V367.4H660.0V367.6H662.0V366.9H663.5V366.6H665.5V364.5H667.5V365.9H669.5V366.6H670.5V367.0H671.5V367.1H673.5V366.8H675.0V366.5H676.5V366.4H678.0V365.8H679.0V366.0H681.0V366.5H682.0V367.1H684.0V366.3H685.5V366.6H686.5V365.9H688.0V365.8H689.5V366.2H690.5V366.2H691.5V366.4H692.5V367.7H694.5V367.6H696.5V367.5H698.5V367.5H700.0V367.5H701.5V368.9H703.0V368.0H704.5V367.9H706.0V366.7H707.0V367.0H708.5V366.8H710.5V367.4H712.0V367.8H713.0V368.2H715.0V368.0H716.5V367.9H718.0V368.5H719.0V367.1H720.5V368.3H721.5V367.5H722.5V367.5H724.5V367.5H725.5V368.1H726.5V368.1H727.5V368.0H729.0V368.0H730.0V367.4H732.0V367.1H733.0V367.7H735.0V367.3H737.0V368.4H739.0V368.0H740.5V367.5H741.5V366.8H743.0V366.7H744.5V367.9H746.5V367.5H747.5V368.5H749.0V368.8H750.5V368.0H752.0V367.8H753.0V367.6H754.5V368.6H756.5V368.1H758.5V367.5H760.5V367.5H762.0V367.1H763.5V367.1H765.0V368.1H766.5V368.4H768.5V368.0H770.5V367.6H771.5V366.8H773.0V368.0H774.0V367.1H776.0V367.4H777.0V367.5H778.5V367.7H780.0V368.0H781.0V367.6H782.0V367.8H784.0V366.5H785.0V366.8H786.0V366.9H787.0V366.9H788.0V366.5H788.4V371.4Z" fill="#ff0000"/>
<line x1="29.0" y1="314.6" x2="29.0" y2="374.59999999999997" stroke="#2a2a2a" stroke-width="1.0"/>
<line x1="25.1" y1="329.2" x2="29.0" y2="329.2" stroke="#111" stroke-width="1.15"/>
<text transform="translate(21.0 332.50) rotate(0.03)" font-size="9.7" text-anchor="end" text-rendering="geometricPrecision" font-family="Liberation Sans, sans-serif" fill="#1a1a1a" stroke="#1a1a1a" stroke-width="0.12">6</text>
<line x1="25.1" y1="350.3" x2="29.0" y2="350.3" stroke="#111" stroke-width="1.15"/>
<text transform="translate(21.0 353.60) rotate(0.03)" font-size="9.7" text-anchor="end" text-rendering="geometricPrecision" font-family="Liberation Sans, sans-serif" fill="#1a1a1a" stroke="#1a1a1a" stroke-width="0.12">3</text>
<line x1="25.1" y1="371.4" x2="29.0" y2="371.4" stroke="#111" stroke-width="1.15"/>
<text transform="translate(21.0 374.70) rotate(0.03)" font-size="9.7" text-anchor="end" text-rendering="geometricPrecision" font-family="Liberation Sans, sans-serif" fill="#1a1a1a" stroke="#1a1a1a" stroke-width="0.12">0</text>
<line x1="24.9" y1="371.4" x2="28.5" y2="371.4" stroke="#111" stroke-width="1.25"/>
<line x1="28.5" y1="371.70" x2="788.4" y2="371.70" stroke="#111" stroke-width="0.95"/>
<line x1="141.3" y1="371.4" x2="141.3" y2="374.59999999999997" stroke="#111" stroke-width="1.25"/>
<line x1="254.0" y1="371.4" x2="254.0" y2="374.59999999999997" stroke="#111" stroke-width="1.25"/>
<line x1="366.70000000000005" y1="371.4" x2="366.70000000000005" y2="374.59999999999997" stroke="#111" stroke-width="1.25"/>
<line x1="479.40000000000003" y1="371.4" x2="479.40000000000003" y2="374.59999999999997" stroke="#111" stroke-width="1.25"/>
<line x1="592.1" y1="371.4" x2="592.1" y2="374.59999999999997" stroke="#111" stroke-width="1.25"/>
<line x1="704.8000000000001" y1="371.4" x2="704.8000000000001" y2="374.59999999999997" stroke="#111" stroke-width="1.25"/>
<path d="M29.0,439.4V437.2H31.0V436.2H32.5V437.1H33.5V436.2H35.0V436.0H37.0V437.6H38.5V437.6H40.0V436.4H41.5V436.5H43.5V436.5H45.5V436.5H47.5V436.9H49.5V436.2H51.5V435.4H53.0V436.0H54.0V436.8H55.5V436.6H57.0V436.6H59.0V437.3H61.0V437.0H62.0V437.9H64.0V436.6H65.5V438.0H67.0V436.6H69.0V436.5H71.0V436.1H73.0V434.3H74.0V433.5H75.5V433.5H77.0V433.5H79.0V436.8H81.0V437.0H83.0V436.8H84.5V437.2H86.0V437.1H87.0V437.2H89.0V437.7H91.0V435.9H92.0V433.4H94.0V434.8H96.0V436.9H98.0V437.0H99.5V437.3H101.0V437.1H102.0V436.0H103.0V436.9H104.5V437.3H105.5V437.3H106.5V436.6H108.5V435.9H110.0V436.6H111.5V435.7H113.0V435.9H114.5V435.3H115.5V435.6H116.5V432.0H118.0V431.4H120.0V435.3H121.0V436.2H123.0V436.3H124.5V436.0H125.5V436.7H127.5V437.4H129.0V436.4H130.5V436.2H132.5V437.0H134.5V436.2H136.0V436.9H137.5V435.6H139.0V434.3H140.5V437.3H142.5V438.1H144.5V437.0H146.0V436.7H148.0V437.7H149.5V436.6H150.5V435.6H152.0V435.5H153.0V435.2H154.0V435.5H155.0V435.6H157.0V436.0H158.5V434.3H160.5V435.3H162.0V437.4H164.0V436.7H166.0V437.0H167.5V436.9H169.0V437.5H170.5V436.9H171.5V436.5H173.5V436.0H175.5V435.6H176.5V435.8H178.0V436.2H179.5V436.5H180.5V435.3H182.5V435.2H183.5V435.0H184.5V434.6H186.5V435.6H188.0V436.2H190.0V436.8H191.0V436.8H192.5V437.3H194.0V434.4H195.5V434.8H197.0V434.5H198.5V434.4H200.0V434.5H201.0V436.5H203.0V435.7H204.5V435.6H206.0V436.0H208.0V436.2H209.0V437.0H210.0V436.5H212.0V435.2H213.5V436.6H215.0V435.7H217.0V435.2H218.0V434.9H219.0V435.2H220.0V435.6H222.0V436.1H223.0V437.0H224.0V437.4H225.0V437.2H226.0V436.6H227.0V436.9H228.5V437.3H230.5V437.0H232.0V437.0H233.0V435.7H235.0V435.6H236.0V436.0H237.5V436.2H238.5V436.7H240.5V437.1H242.0V437.3H243.5V436.5H245.5V437.1H247.5V436.1H249.5V435.0H250.5V434.0H252.5V434.3H254.0V436.3H256.0V436.8H258.0V436.8H260.0V437.0H261.0V436.9H262.0V436.9H264.0V436.0H266.0V436.4H268.0V436.5H269.0V436.7H270.5V436.8H271.5V436.9H273.0V435.9H274.0V436.5H275.0V436.4H276.0V435.4H277.0V435.2H279.0V434.2H280.0V434.4H282.0V433.9H284.0V433.9H285.5V435.0H287.5V435.7H289.5V435.3H291.5V435.6H292.5V436.7H294.5V436.9H296.5V436.3H298.5V434.9H299.5V432.4H301.0V431.6H302.5V431.4H303.5V432.7H305.0V431.2H306.5V433.9H308.5V433.4H309.5V433.1H310.5V432.4H311.5V432.2H313.0V435.5H315.0V436.0H317.0V436.5H318.5V435.8H320.5V434.9H322.0V431.7H324.0V433.9H325.5V435.1H327.0V436.2H328.0V436.5H329.0V435.8H330.0V435.2H332.0V436.7H333.0V437.0H335.0V437.1H336.5V436.0H338.0V437.0H340.0V436.4H342.0V435.2H344.0V436.3H345.5V436.9H346.5V435.9H348.0V436.8H349.5V436.3H351.0V436.6H352.0V437.1H353.0V436.8H354.5V437.0H356.5V437.3H358.5V436.7H359.5V436.5H360.5V435.7H362.5V435.3H364.5V431.3H366.0V431.6H367.5V433.7H369.5V436.4H371.5V437.0H373.5V436.7H374.5V437.4H375.5V437.3H377.5V436.6H378.5V435.4H380.5V435.6H381.5V436.3H382.5V436.0H383.5V435.9H385.5V435.5H386.5V435.2H388.5V434.5H389.5V433.3H391.0V434.4H393.0V436.5H394.5V435.1H395.5V434.8H397.0V434.3H399.0V434.3H400.0V434.1H401.0V433.9H403.0V434.4H404.5V435.1H406.5V435.0H407.5V436.3H408.5V436.0H410.5V434.9H411.5V434.7H413.0V434.7H414.5V436.8H415.5V436.0H416.5V436.9H417.5V436.4H418.5V436.1H420.5V436.4H422.0V436.3H423.0V436.8H425.0V436.4H426.0V437.0H428.0V436.9H429.5V437.5H431.0V435.7H432.5V436.2H433.5V436.5H435.5V435.8H437.5V435.6H438.5V431.1H440.5V432.7H442.5V436.3H444.0V436.4H445.0V436.5H446.0V436.0H447.0V435.9H448.5V435.2H450.5V436.3H452.5V436.9H454.5V436.2H456.0V435.6H458.0V436.4H460.0V436.5H461.0V436.5H463.0V436.7H464.5V436.0H466.0V435.6H467.0V436.0H469.0V436.5H470.5V437.0H471.5V435.9H473.0V435.6H475.0V435.3H476.5V435.7H478.0V435.9H479.5V434.8H480.5V435.0H482.5V436.0H484.0V435.4H485.0V435.2H487.0V435.2H489.0V436.2H490.0V436.7H491.5V437.1H493.5V437.0H495.0V437.4H497.0V437.3H498.5V436.8H500.5V435.8H502.5V435.7H504.0V435.5H505.5V434.7H506.5V436.8H507.5V436.5H509.5V436.7H511.0V436.0H513.0V436.9H515.0V435.6H516.0V436.5H517.5V432.8H518.5V431.7H519.5V432.5H520.5V435.2H522.5V435.1H523.5V434.5H524.5V433.9H525.5V434.6H527.5V436.9H529.5V436.2H531.0V436.4H532.5V436.9H534.5V437.0H536.5V436.8H537.5V437.3H539.0V435.6H540.0V435.4H542.0V434.6H543.5V434.4H544.5V435.0H546.5V433.9H548.0V434.2H549.0V435.6H550.0V436.0H552.0V435.8H553.5V435.4H555.5V435.2H557.0V435.2H558.5V436.5H560.0V436.7H562.0V436.4H564.0V436.9H565.0V437.4H566.5V437.5H567.5V437.3H568.5V435.9H570.0V436.1H571.5V436.8H573.0V436.4H574.5V436.3H575.5V435.9H576.5V435.4H578.0V435.1H579.0V434.7H581.0V436.4H582.5V436.8H584.0V436.9H586.0V436.2H587.0V436.7H588.0V436.1H589.5V435.2H591.5V434.7H593.5V436.4H595.5V436.5H597.0V436.9H599.0V436.2H600.0V436.1H601.0V436.5H602.5V435.7H603.5V436.0H605.5V435.8H606.5V435.6H607.5V435.7H609.0V435.2H610.5V436.5H611.5V435.4H612.5V435.8H613.5V436.5H614.5V435.2H616.0V435.5H617.5V435.7H618.5V434.6H620.0V434.7H622.0V436.9H623.5V436.2H625.5V436.3H626.5V436.5H628.5V435.0H629.5V434.3H630.5V434.8H632.5V435.1H634.5V435.1H636.5V435.2H637.5V435.1H639.5V435.4H641.0V435.7H643.0V435.9H644.0V435.3H645.0V436.0H646.5V435.2H647.5V435.2H648.5V435.1H650.0V435.8H651.0V436.5H653.0V436.7H655.0V436.4H657.0V436.0H659.0V436.9H661.0V435.2H663.0V435.9H665.0V435.6H666.5V436.1H668.0V436.9H669.0V436.7H670.5V436.5H672.5V435.4H674.0V434.5H675.5V433.0H677.0V431.3H678.5V433.8H680.5V435.1H681.5V435.6H683.5V434.3H685.5V434.5H686.5V436.5H688.5V436.4H690.5V435.8H692.5V435.0H694.0V433.9H695.0V434.5H697.0V436.9H699.0V436.1H700.0V436.5H701.5V436.9H702.5V436.0H703.5V436.4H705.5V437.3H706.5V436.3H708.0V436.3H710.0V435.5H712.0V435.6H714.0V436.9H716.0V436.6H718.0V437.0H719.0V436.9H720.0V436.1H722.0V436.1H723.0V435.2H725.0V435.6H727.0V436.6H729.0V436.3H731.0V436.9H733.0V435.7H735.0V435.8H736.0V435.6H738.0V435.6H739.5V436.7H740.5V437.0H741.5V436.7H743.5V436.7H745.0V436.0H747.0V434.7H748.0V435.9H749.5V436.1H751.5V435.7H753.5V435.5H755.5V436.9H757.0V436.7H758.5V435.9H759.5V436.6H760.5V436.3H762.0V436.3H764.0V436.5H766.0V436.2H767.5V437.0H769.5V436.2H770.5V435.7H771.5V434.0H772.5V434.7H773.5V436.8H775.5V436.9H776.5V436.5H777.5V436.9H779.0V436.7H781.0V435.5H783.0V436.6H784.0V436.7H785.0V435.6H786.5V434.6H788.0V434.3H788.4V439.4Z" fill="#ff9900"/>
<line x1="29.0" y1="382.6" x2="29.0" y2="442.59999999999997" stroke="#2a2a2a" stroke-width="1.0"/>
<line x1="25.1" y1="397.2" x2="29.0" y2="397.2" stroke="#111" stroke-width="1.15"/>
<text transform="translate(21.0 400.50) rotate(0.03)" font-size="9.7" text-anchor="end" text-rendering="geometricPrecision" font-family="Liberation Sans, sans-serif" fill="#1a1a1a" stroke="#1a1a1a" stroke-width="0.12">6</text>
<line x1="25.1" y1="418.3" x2="29.0" y2="418.3" stroke="#111" stroke-width="1.15"/>
<text transform="translate(21.0 421.60) rotate(0.03)" font-size="9.7" text-anchor="end" text-rendering="geometricPrecision" font-family="Liberation Sans, sans-serif" fill="#1a1a1a" stroke="#1a1a1a" stroke-width="0.12">3</text>
<line x1="25.1" y1="439.4" x2="29.0" y2="439.4" stroke="#111" stroke-width="1.15"/>
<text transform="translate(21.0 442.70) rotate(0.03)" font-size="9.7" text-anchor="end" text-rendering="geometricPrecision" font-family="Liberation Sans, sans-serif" fill="#1a1a1a" stroke="#1a1a1a" stroke-width="0.12">0</text>
<line x1="24.9" y1="439.4" x2="28.5" y2="439.4" stroke="#111" stroke-width="1.25"/>
<line x1="28.5" y1="439.70" x2="788.4" y2="439.70" stroke="#111" stroke-width="0.95"/>
<line x1="141.3" y1="439.4" x2="141.3" y2="442.59999999999997" stroke="#111" stroke-width="1.25"/>
<line x1="254.0" y1="439.4" x2="254.0" y2="442.59999999999997" stroke="#111" stroke-width="1.25"/>
<line x1="366.70000000000005" y1="439.4" x2="366.70000000000005" y2="442.59999999999997" stroke="#111" stroke-width="1.25"/>
<line x1="479.40000000000003" y1="439.4" x2="479.40000000000003" y2="442.59999999999997" stroke="#111" stroke-width="1.25"/>
<line x1="592.1" y1="439.4" x2="592.1" y2="442.59999999999997" stroke="#111" stroke-width="1.25"/>
<line x1="704.8000000000001" y1="439.4" x2="704.8000000000001" y2="442.59999999999997" stroke="#111" stroke-width="1.25"/>
<text transform="translate(28.60 225.4) rotate(0.03)" font-size="9.7" text-anchor="middle" text-rendering="geometricPrecision" font-family="Liberation Sans, sans-serif" fill="#1a1a1a" stroke="#1a1a1a" stroke-width="0.12">1</text>
<text transform="translate(141.30 225.4) rotate(0.03)" font-size="9.7" text-anchor="middle" text-rendering="geometricPrecision" font-family="Liberation Sans, sans-serif" fill="#1a1a1a" stroke="#1a1a1a" stroke-width="0.12">10001</text>
<text transform="translate(254.00 225.4) rotate(0.03)" font-size="9.7" text-anchor="middle" text-rendering="geometricPrecision" font-family="Liberation Sans, sans-serif" fill="#1a1a1a" stroke="#1a1a1a" stroke-width="0.12">20001</text>
<text transform="translate(366.70 225.4) rotate(0.03)" font-size="9.7" text-anchor="middle" text-rendering="geometricPrecision" font-family="Liberation Sans, sans-serif" fill="#1a1a1a" stroke="#1a1a1a" stroke-width="0.12">30001</text>
<text transform="translate(479.40 225.4) rotate(0.03)" font-size="9.7" text-anchor="middle" text-rendering="geometricPrecision" font-family="Liberation Sans, sans-serif" fill="#1a1a1a" stroke="#1a1a1a" stroke-width="0.12">40001</text>
<text transform="translate(592.10 225.4) rotate(0.03)" font-size="9.7" text-anchor="middle" text-rendering="geometricPrecision" font-family="Liberation Sans, sans-serif" fill="#1a1a1a" stroke="#1a1a1a" stroke-width="0.12">50001</text>
<text transform="translate(704.80 225.4) rotate(0.03)" font-size="9.7" text-anchor="middle" text-rendering="geometricPrecision" font-family="Liberation Sans, sans-serif" fill="#1a1a1a" stroke="#1a1a1a" stroke-width="0.12">60001</text>
<text transform="translate(28.60 457.3) rotate(0.03)" font-size="9.7" text-anchor="middle" text-rendering="geometricPrecision" font-family="Liberation Sans, sans-serif" fill="#1a1a1a" stroke="#1a1a1a" stroke-width="0.12">1</text>
<text transform="translate(141.30 457.3) rotate(0.03)" font-size="9.7" text-anchor="middle" text-rendering="geometricPrecision" font-family="Liberation Sans, sans-serif" fill="#1a1a1a" stroke="#1a1a1a" stroke-width="0.12">10001</text>
<text transform="translate(254.00 457.3) rotate(0.03)" font-size="9.7" text-anchor="middle" text-rendering="geometricPrecision" font-family="Liberation Sans, sans-serif" fill="#1a1a1a" stroke="#1a1a1a" stroke-width="0.12">20001</text>
<text transform="translate(366.70 457.3) rotate(0.03)" font-size="9.7" text-anchor="middle" text-rendering="geometricPrecision" font-family="Liberation Sans, sans-serif" fill="#1a1a1a" stroke="#1a1a1a" stroke-width="0.12">30001</text>
<text transform="translate(479.40 457.3) rotate(0.03)" font-size="9.7" text-anchor="middle" text-rendering="geometricPrecision" font-family="Liberation Sans, sans-serif" fill="#1a1a1a" stroke="#1a1a1a" stroke-width="0.12">40001</text>
<text transform="translate(592.10 457.3) rotate(0.03)" font-size="9.7" text-anchor="middle" text-rendering="geometricPrecision" font-family="Liberation Sans, sans-serif" fill="#1a1a1a" stroke="#1a1a1a" stroke-width="0.12">50001</text>
<text transform="translate(704.80 457.3) rotate(0.03)" font-size="9.7" text-anchor="middle" text-rendering="geometricPrecision" font-family="Liberation Sans, sans-serif" fill="#1a1a1a" stroke="#1a1a1a" stroke-width="0.12">60001</text>
<line x1="16.9" y1="235.8" x2="857" y2="235.8" stroke="#1a1a1a" stroke-width="1.4"/>
<path d="M29.0,612.5V600.6H30.5V601.6H31.5V602.9H32.5V602.1H34.5V602.1H35.5V601.4H36.5V602.6H38.0V605.7H40.0V607.9H41.5V608.8H42.5V609.4H44.5V608.4H46.5V607.1H48.5V607.5H49.5V606.2H51.5V604.6H52.5V604.0H54.5V601.3H56.5V598.6H57.5V596.2H58.5V592.8H60.0V589.6H62.0V587.8H63.0V588.6H65.0V590.9H66.5V592.3H68.0V595.2H69.5V598.9H71.5V600.0H72.5V601.2H74.0V602.0H75.5V601.9H76.5V602.3H77.5V602.9H79.0V604.4H80.0V605.7H82.0V603.6H83.0V600.0H84.5V599.0H86.0V596.7H88.0V592.9H89.5V590.6H91.0V591.4H92.5V592.0H94.5V593.6H96.5V598.9H98.5V602.1H100.0V604.4H102.0V606.1H103.5V606.7H104.5V608.3H106.5V607.6H108.0V606.8H109.0V605.7H110.5V605.8H111.5V605.4H113.0V604.6H114.0V605.0H115.5V607.2H117.5V604.3H119.0V601.7H120.0V599.7H121.0V596.3H123.0V590.6H125.0V590.8H126.0V591.0H127.5V589.2H129.5V588.8H130.5V587.8H132.5V590.2H134.5V593.5H136.5V594.9H138.5V593.0H140.5V592.0H141.5V589.9H143.0V588.2H144.0V586.6H145.0V584.1H147.0V585.4H148.0V586.3H150.0V587.2H151.0V586.6H152.0V587.1H153.0V586.3H154.5V585.6H156.0V587.2H157.0V588.4H158.5V587.6H160.0V587.1H161.5V590.2H163.0V593.2H165.0V592.6H166.0V590.7H168.0V583.5H170.0V585.9H171.5V587.9H172.5V588.0H174.5V589.4H175.5V588.9H177.5V586.3H178.5V585.6H180.0V588.2H182.0V590.6H183.5V591.7H184.5V592.8H185.5V591.7H186.5V591.7H187.5V591.7H188.5V591.2H189.5V589.8H190.5V590.0H192.5V592.5H194.5V596.0H196.0V597.4H197.0V599.2H198.0V600.8H199.0V601.3H200.5V603.1H201.5V605.8H203.0V607.4H205.0V608.6H206.0V609.4H207.5V608.3H209.5V607.2H210.5V607.9H212.0V608.5H214.0V609.0H215.5V609.5H216.5V609.8H218.5V609.9H219.5V609.2H220.5V609.6H222.5V609.8H223.5V610.1H225.0V610.8H227.0V610.9H229.0V611.0H230.0V610.5H232.0V610.4H234.0V610.0H235.0V609.4H236.5V608.7H237.5V608.3H238.5V607.6H239.5V605.4H241.5V604.4H242.5V602.7H243.5V599.9H245.0V597.9H247.0V597.4H248.5V596.6H250.5V595.1H252.5V595.3H253.5V594.3H255.5V594.5H256.5V594.4H257.5V594.9H259.0V595.3H260.0V595.5H261.5V597.0H263.0V599.2H264.0V600.1H265.0V601.7H266.5V602.9H268.0V602.8H270.0V600.9H271.0V599.3H272.5V598.6H274.5V601.1H276.5V603.8H278.5V605.6H280.5V606.4H281.5V607.3H283.5V609.1H285.0V610.0H287.0V610.4H288.5V610.7H289.5V611.0H291.0V610.9H292.0V610.8H293.0V611.0H295.0V611.2H296.0V611.0H298.0V610.9H299.5V611.2H300.5V611.0H301.5V611.1H303.0V610.9H305.0V611.0H306.0V610.9H308.0V610.5H309.5V610.5H311.0V610.3H312.0V610.1H314.0V610.0H315.5V610.0H317.0V609.7H319.0V609.7H320.0V610.3H321.0V609.8H322.0V609.8H323.0V609.9H324.0V609.8H325.5V609.4H327.5V609.6H329.0V610.0H331.0V609.4H333.0V609.1H334.5V608.9H335.5V607.5H336.5V606.5H338.0V602.4H339.5V600.1H340.5V599.1H342.0V597.8H343.0V598.1H345.0V598.3H346.5V597.8H347.5V597.2H348.5V597.0H349.5V596.4H350.5V597.3H352.0V598.6H354.0V598.3H355.5V596.4H357.0V597.4H358.5V597.9H359.5V597.7H360.5V596.3H362.5V597.0H364.5V596.9H366.0V597.2H368.0V595.8H370.0V595.7H371.5V594.4H373.5V594.0H374.5V593.2H376.0V592.8H378.0V591.6H380.0V590.0H381.0V592.1H382.0V592.8H383.5V593.6H385.0V594.3H386.5V594.6H388.5V595.4H389.5V594.9H391.5V595.2H392.5V594.0H394.0V594.4H395.5V594.2H397.5V595.6H399.0V596.6H400.0V597.1H401.5V596.1H402.5V596.6H403.5V595.9H404.5V595.0H406.0V594.5H407.0V592.8H408.5V593.3H409.5V595.3H410.5V596.4H412.5V596.0H413.5V596.8H415.5V595.8H417.5V596.5H419.0V596.0H420.5V597.2H421.5V598.5H422.5V598.7H423.5V598.3H425.5V599.5H427.5V601.8H429.5V602.5H430.5V601.1H432.5V601.4H433.5V601.4H435.5V603.9H437.5V603.8H438.5V604.7H439.5V604.3H440.5V604.6H442.0V603.9H444.0V604.0H445.0V604.0H446.5V605.2H448.0V604.4H450.0V604.9H452.0V605.2H454.0V605.7H455.0V605.6H456.0V606.2H457.5V606.7H458.5V605.7H460.5V605.5H462.0V605.7H463.0V605.9H464.0V605.9H466.0V606.1H468.0V606.3H469.0V606.6H471.0V606.1H472.5V605.9H474.0V605.1H475.0V605.7H476.0V606.0H478.0V606.6H480.0V606.4H482.0V607.1H483.0V607.5H485.0V607.9H486.5V602.9H487.5V603.1H489.5V608.2H491.0V607.9H492.0V607.7H493.0V607.8H495.0V607.9H496.5V607.3H498.5V607.0H500.5V606.8H502.0V605.7H503.0V606.1H504.5V606.4H505.5V606.2H507.5V603.9H509.0V604.2H510.5V603.2H512.0V603.3H513.5V602.8H514.5V602.8H516.0V601.9H517.0V600.8H518.0V600.4H520.0V600.6H521.5V599.3H523.0V596.9H524.5V595.4H526.0V593.2H527.5V594.1H528.5V594.1H530.5V594.3H531.5V593.5H533.5V592.1H535.0V591.7H536.5V590.6H537.5V590.1H539.5V591.0H541.5V591.9H543.5V592.1H545.0V593.9H547.0V594.3H548.5V593.7H550.5V593.1H551.5V592.5H553.0V590.6H554.5V591.7H556.5V590.8H558.0V591.7H559.5V593.8H561.5V596.7H563.5V600.0H564.5V601.1H566.0V602.7H568.0V604.0H569.5V603.1H571.0V603.2H572.0V602.7H573.0V602.8H574.0V602.4H575.5V602.3H576.5V603.9H578.5V604.9H580.5V606.6H582.5V607.7H583.5V608.1H585.0V609.4H586.0V609.3H588.0V610.1H589.0V610.1H590.0V610.4H591.5V610.5H593.5V610.6H594.5V610.7H595.5V610.3H597.0V610.0H599.0V610.0H601.0V610.1H602.5V609.8H603.5V609.9H604.5V609.9H606.5V610.0H607.5V609.5H609.5V610.0H611.0V609.9H612.0V609.8H613.0V610.3H615.0V609.8H617.0V609.6H618.5V609.0H620.5V608.7H621.5V609.1H622.5V608.8H624.5V608.4H625.5V608.6H627.5V608.6H628.5V608.3H630.0V608.4H631.5V607.7H632.5V607.2H634.0V607.3H635.0V607.1H636.5V606.6H637.5V606.2H638.5V606.3H640.0V605.7H641.0V605.7H642.5V602.7H643.5V601.4H645.5V600.5H647.0V600.8H648.0V599.9H649.5V599.0H650.5V599.7H652.0V598.8H653.0V598.4H654.0V598.8H655.5V599.2H656.5V598.4H657.5V597.8H658.5V599.4H659.5V600.4H661.5V602.6H662.5V603.8H663.5V604.9H664.5V606.6H666.5V605.7H668.5V607.9H670.0V607.8H671.0V608.7H672.5V609.4H674.5V610.7H676.5V610.9H678.5V611.2H680.0V610.5H681.5V611.0H682.5V610.9H683.5V610.0H685.0V610.0H687.0V608.9H688.0V608.7H689.5V607.8H691.0V606.9H692.0V605.8H693.5V605.5H695.0V605.1H696.5V604.2H698.5V604.2H700.0V604.5H701.5V603.1H702.5V603.1H703.5V603.4H705.0V603.8H707.0V604.0H708.5V604.2H710.5V603.7H711.5V604.4H713.0V603.6H714.5V604.5H716.5V604.1H718.5V604.0H719.5V602.0H720.5V602.4H722.0V602.0H723.5V599.8H724.5V599.5H726.0V596.5H728.0V593.2H729.5V595.8H731.5V595.4H732.5V595.4H734.0V597.6H736.0V599.5H737.0V599.7H738.0V602.0H739.5V603.3H741.5V605.6H743.0V607.4H744.0V608.2H745.0V609.6H746.0V609.7H748.0V609.8H749.5V610.0H751.0V610.0H753.0V609.8H755.0V609.8H757.0V609.6H758.5V609.7H760.0V610.0H761.5V610.0H763.5V610.4H764.5V610.3H765.5V610.6H767.5V610.4H768.5V610.7H769.5V610.2H771.5V610.4H772.5V610.4H774.5V610.5H775.5V610.6H777.0V610.4H778.5V610.6H780.0V610.5H781.0V605.7H782.0V606.7H784.0V606.5H785.0V606.1H786.0V605.9H787.5V606.2H788.4V612.5Z" fill="#0000ff"/>
<line x1="28.55" y1="556.1" x2="28.55" y2="615.7" stroke="#1a1a1a" stroke-width="1.25"/>
<line x1="25.1" y1="570" x2="28.55" y2="570" stroke="#111" stroke-width="1.15"/>
<text transform="translate(21.0 573.30) rotate(0.03)" font-size="9.7" text-anchor="end" text-rendering="geometricPrecision" font-family="Liberation Sans, sans-serif" fill="#1a1a1a" stroke="#1a1a1a" stroke-width="0.12">6</text>
<line x1="25.1" y1="591.2" x2="28.55" y2="591.2" stroke="#111" stroke-width="1.15"/>
<text transform="translate(21.0 594.50) rotate(0.03)" font-size="9.7" text-anchor="end" text-rendering="geometricPrecision" font-family="Liberation Sans, sans-serif" fill="#1a1a1a" stroke="#1a1a1a" stroke-width="0.12">3</text>
<line x1="25.1" y1="612.5" x2="28.55" y2="612.5" stroke="#111" stroke-width="1.15"/>
<text transform="translate(21.0 615.80) rotate(0.03)" font-size="9.7" text-anchor="end" text-rendering="geometricPrecision" font-family="Liberation Sans, sans-serif" fill="#1a1a1a" stroke="#1a1a1a" stroke-width="0.12">0</text>
<line x1="24.9" y1="612.5" x2="28.5" y2="612.5" stroke="#111" stroke-width="1.25"/>
<line x1="28.5" y1="612.80" x2="788.4" y2="612.80" stroke="#111" stroke-width="0.95"/>
<line x1="136.35" y1="612.5" x2="136.35" y2="615.7" stroke="#111" stroke-width="1.25"/>
<line x1="243.95" y1="612.5" x2="243.95" y2="615.7" stroke="#111" stroke-width="1.25"/>
<line x1="351.54999999999995" y1="612.5" x2="351.54999999999995" y2="615.7" stroke="#111" stroke-width="1.25"/>
<line x1="459.15" y1="612.5" x2="459.15" y2="615.7" stroke="#111" stroke-width="1.25"/>
<line x1="566.75" y1="612.5" x2="566.75" y2="615.7" stroke="#111" stroke-width="1.25"/>
<line x1="674.3499999999999" y1="612.5" x2="674.3499999999999" y2="615.7" stroke="#111" stroke-width="1.25"/>
<line x1="781.9499999999999" y1="612.5" x2="781.9499999999999" y2="615.7" stroke="#111" stroke-width="1.25"/>
<path d="M29.0,681.2V654.6H30.5V656.9H32.0V656.7H33.0V651.1H35.5V654.4H37.0V661.4H39.0V667.8H41.0V672.0H43.0V667.8H44.0V668.0H46.0V661.6H48.5V659.1H50.5V659.7H51.5V661.2H52.5V657.3H54.5V655.4H55.5V661.2H57.5V645.0H60.0V646.8H61.5V649.2H62.5V654.3H65.0V655.4H66.5V658.1H68.0V656.9H70.5V653.7H72.5V658.4H74.5V660.7H76.0V662.3H78.5V659.8H80.5V657.3H82.5V659.3H85.0V658.1H87.0V646.1H89.5V648.4H92.0V646.8H94.5V646.0H95.5V644.6H97.5V648.3H99.5V646.1H101.5V647.6H103.5V656.6H105.0V660.8H106.0V664.5H107.5V663.8H108.5V664.0H109.5V661.5H111.0V660.6H113.5V662.1H115.5V668.4H118.0V666.5H120.5V663.4H121.5V663.4H122.5V662.4H123.5V661.9H125.0V665.6H127.5V652.6H130.0V655.1H131.0V654.8H133.0V653.7H135.0V660.2H137.0V646.1H139.0V653.8H141.0V655.6H142.5V654.8H145.0V646.1H146.5V651.5H148.5V645.0H149.5V653.7H151.5V650.6H153.5V644.7H154.5V643.9H157.0V642.4H159.0V647.6H161.5V654.8H163.5V651.9H166.0V651.7H167.5V650.9H168.5V649.8H169.5V651.2H171.0V653.7H173.5V654.6H174.5V656.3H177.0V652.3H178.0V648.3H180.5V664.3H183.0V665.6H185.5V659.7H187.0V651.9H189.5V655.8H191.0V654.9H192.0V653.2H194.0V656.0H195.5V661.6H197.5V663.6H199.5V664.9H201.5V671.3H203.5V675.3H205.5V670.0H207.5V665.4H209.5V664.5H211.5V665.5H213.0V666.6H215.5V662.5H217.5V659.1H219.5V663.0H221.5V671.1H224.0V671.9H225.0V673.8H227.0V675.7H229.0V667.0H231.0V665.3H233.0V666.7H235.0V664.1H237.0V659.3H238.5V655.2H240.5V652.1H243.0V637.5H245.0V640.9H247.5V640.9H250.0V640.3H251.0V641.5H252.0V653.7H254.5V651.5H256.5V651.6H258.0V653.0H259.0V655.2H260.0V655.9H261.0V662.1H263.0V666.8H265.5V667.7H266.5V665.4H268.5V659.5H269.5V658.8H271.0V656.0H272.0V654.3H273.5V651.5H275.5V651.8H277.0V652.6H279.0V647.6H280.0V655.6H282.5V660.7H284.5V666.4H286.5V668.0H288.0V673.8H289.0V676.8H291.5V679.2H293.0V678.5H295.0V677.8H296.0V676.8H297.0V676.3H298.5V674.7H301.0V672.4H302.5V670.5H305.0V670.9H306.0V667.5H307.5V663.6H309.5V660.6H311.0V657.9H313.0V653.9H314.0V653.2H316.5V659.5H318.5V664.5H321.0V661.6H323.0V661.9H325.0V662.3H327.0V658.9H328.5V658.9H330.5V656.9H332.0V657.3H334.0V661.6H336.5V661.9H339.0V654.1H341.5V656.2H343.5V662.3H345.5V660.2H346.5V658.0H348.5V660.0H351.0V659.2H352.0V660.2H354.5V650.8H355.5V649.8H356.5V650.4H358.0V655.8H360.0V654.2H361.0V653.7H363.0V656.3H365.5V647.6H367.5V661.2H369.5V659.5H370.5V658.6H372.0V655.1H374.0V656.1H376.0V654.8H378.0V655.8H379.0V656.0H380.5V650.4H382.5V655.9H383.5V658.0H385.5V652.1H387.5V653.1H389.5V647.6H391.0V646.8H393.0V650.4H395.0V648.3H397.0V652.0H399.0V655.7H400.0V657.6H402.0V658.0H403.5V652.6H406.0V654.0H408.5V654.8H410.5V651.1H412.0V655.4H414.5V653.6H416.0V653.2H418.5V655.8H420.5V657.4H422.0V656.9H423.5V656.4H424.5V653.7H426.0V659.1H428.0V656.7H429.0V648.9H430.5V647.9H431.5V646.8H432.5V646.8H433.5V650.9H435.5V656.1H436.5V655.8H439.0V653.2H441.0V654.9H442.0V656.3H443.5V656.9H445.5V652.6H446.5V654.1H448.5V660.4H449.5V660.6H451.5V657.3H453.0V653.2H454.5V656.5H456.5V656.9H458.5V654.2H459.5V651.7H461.5V646.9H463.0V650.3H464.5V649.8H466.5V648.0H468.0V647.4H469.0V648.7H471.0V652.8H473.5V653.2H475.5V642.7H477.5V642.9H480.0V650.3H481.0V646.8H482.5V645.9H484.0V644.8H486.5V642.9H489.0V646.5H490.5V651.5H492.5V643.6H493.5V644.2H495.0V636.5H496.5V632.6H497.5V632.1H499.5V640.0H500.5V637.0H501.5V641.3H503.5V648.9H505.5V656.9H508.0V647.7H509.5V647.2H512.0V650.7H514.5V651.5H517.0V648.9H518.0V645.2H520.0V627.3H522.0V628.2H523.5V634.7H524.5V638.6H526.5V632.6H528.5V650.0H530.5V654.5H531.5V658.0H533.0V650.0H535.5V643.2H536.5V642.9H539.0V644.9H541.0V646.1H543.5V655.8H545.0V649.8H546.0V644.0H547.5V644.9H549.5V644.5H551.5V647.2H554.0V647.2H556.0V645.0H557.5V644.4H559.5V649.5H561.5V656.7H564.0V661.8H566.0V663.4H568.0V664.5H570.0V661.9H572.0V664.5H574.5V640.7H576.5V646.0H577.5V659.2H578.5V662.6H580.0V664.7H582.5V667.6H584.0V671.9H586.0V675.3H587.0V677.4H589.5V675.7H592.0V674.6H593.0V673.3H595.0V670.8H596.0V671.0H597.0V670.1H599.5V665.6H601.5V668.9H602.5V670.4H604.5V672.3H606.5V674.3H609.0V674.3H610.0V673.9H612.0V675.7H614.0V675.4H615.5V674.8H617.0V677.9H619.0V678.6H620.5V677.6H622.0V676.5H624.0V673.7H626.0V669.0H628.0V667.1H630.5V668.4H632.5V665.8H634.0V661.9H636.5V665.1H637.5V668.4H639.0V665.2H640.5V665.3H643.0V662.8H645.0V660.7H646.0V657.5H648.0V658.5H650.0V656.5H652.0V654.6H653.0V654.7H655.5V654.3H658.0V653.7H660.0V669.5H662.0V674.0H664.0V669.9H666.5V668.8H667.5V672.5H668.5V676.6H671.0V677.0H672.0V679.1H674.0V680.5H676.0V680.5H678.0V679.3H680.0V679.7H681.0V680.1H682.5V678.0H685.0V676.3H687.0V674.6H688.0V673.2H690.0V670.9H692.0V669.4H693.0V668.5H695.0V666.6H697.5V669.0H699.0V665.7H701.0V661.9H702.5V662.3H703.5V664.1H706.0V662.8H708.0V652.2H710.5V649.8H713.0V658.1H714.5V653.2H717.0V654.2H719.5V656.3H721.5V657.8H723.5V654.6H725.0V650.8H727.0V650.2H728.5V650.3H731.0V649.0H733.5V651.2H735.5V649.0H738.0V655.3H739.0V656.8H741.5V661.6H742.5V670.3H744.5V676.8H746.5V675.9H749.0V677.2H751.5V677.7H752.5V678.0H754.0V677.9H756.0V676.1H758.0V675.5H760.0V674.0H762.5V673.5H764.5V671.8H766.5V675.7H769.0V675.9H771.5V675.1H772.5V675.2H774.5V676.8H776.5V677.0H779.0V678.5H781.5V677.4H783.0V677.5H785.0V679.0H787.0V679.5H788.4V681.2Z" fill="#ff0000"/>
<line x1="28.55" y1="624.9" x2="28.55" y2="684.4000000000001" stroke="#1a1a1a" stroke-width="1.25"/>
<line x1="25.1" y1="636.5" x2="28.55" y2="636.5" stroke="#111" stroke-width="1.15"/>
<text transform="translate(21.0 639.80) rotate(0.03)" font-size="9.7" text-anchor="end" text-rendering="geometricPrecision" font-family="Liberation Sans, sans-serif" fill="#1a1a1a" stroke="#1a1a1a" stroke-width="0.12">15</text>
<line x1="25.1" y1="651.3" x2="28.55" y2="651.3" stroke="#111" stroke-width="1.15"/>
<text transform="translate(21.0 654.60) rotate(0.03)" font-size="9.7" text-anchor="end" text-rendering="geometricPrecision" font-family="Liberation Sans, sans-serif" fill="#1a1a1a" stroke="#1a1a1a" stroke-width="0.12">10</text>
<line x1="25.1" y1="666.2" x2="28.55" y2="666.2" stroke="#111" stroke-width="1.15"/>
<text transform="translate(21.0 669.50) rotate(0.03)" font-size="9.7" text-anchor="end" text-rendering="geometricPrecision" font-family="Liberation Sans, sans-serif" fill="#1a1a1a" stroke="#1a1a1a" stroke-width="0.12">5</text>
<line x1="25.1" y1="681.2" x2="28.55" y2="681.2" stroke="#111" stroke-width="1.15"/>
<text transform="translate(21.0 684.50) rotate(0.03)" font-size="9.7" text-anchor="end" text-rendering="geometricPrecision" font-family="Liberation Sans, sans-serif" fill="#1a1a1a" stroke="#1a1a1a" stroke-width="0.12">0</text>
<line x1="24.9" y1="681.2" x2="28.5" y2="681.2" stroke="#111" stroke-width="1.25"/>
<line x1="28.5" y1="681.50" x2="788.4" y2="681.50" stroke="#111" stroke-width="0.95"/>
<line x1="136.35" y1="681.2" x2="136.35" y2="684.4000000000001" stroke="#111" stroke-width="1.25"/>
<line x1="243.95" y1="681.2" x2="243.95" y2="684.4000000000001" stroke="#111" stroke-width="1.25"/>
<line x1="351.54999999999995" y1="681.2" x2="351.54999999999995" y2="684.4000000000001" stroke="#111" stroke-width="1.25"/>
<line x1="459.15" y1="681.2" x2="459.15" y2="684.4000000000001" stroke="#111" stroke-width="1.25"/>
<line x1="566.75" y1="681.2" x2="566.75" y2="684.4000000000001" stroke="#111" stroke-width="1.25"/>
<line x1="674.3499999999999" y1="681.2" x2="674.3499999999999" y2="684.4000000000001" stroke="#111" stroke-width="1.25"/>
<line x1="781.9499999999999" y1="681.2" x2="781.9499999999999" y2="684.4000000000001" stroke="#111" stroke-width="1.25"/>
<path d="M29.0,749.2V722.8H31.0V723.8H32.5V729.3H33.5V728.8H36.0V726.0H37.0V729.8H38.0V733.1H40.0V740.1H42.0V730.3H43.5V738.7H45.0V739.6H47.5V731.4H48.5V734.7H50.5V731.8H52.5V733.6H54.0V732.1H56.0V734.0H57.0V726.8H59.0V724.5H61.0V727.7H62.0V728.2H64.0V724.5H66.0V727.8H67.5V728.6H68.5V731.7H71.0V730.4H72.5V733.6H74.0V732.8H75.5V726.7H78.0V728.2H80.5V729.2H82.5V731.0H83.5V728.2H85.5V728.8H88.0V721.7H89.5V724.3H90.5V724.0H91.5V727.7H93.0V726.4H95.0V725.5H96.0V729.8H97.0V732.5H98.5V730.8H100.0V728.4H102.0V727.1H104.5V733.8H105.5V735.7H107.5V737.2H109.5V735.5H111.5V729.1H114.0V722.1H115.0V721.7H116.0V735.4H118.0V735.7H120.0V732.9H122.0V729.2H124.0V729.3H125.0V735.3H127.0V732.2H129.5V723.2H131.0V731.4H133.5V729.5H135.0V731.5H136.0V728.4H138.0V727.1H140.5V729.7H142.0V728.2H144.0V729.2H145.5V729.3H147.5V726.0H150.0V727.5H151.5V728.8H153.0V726.3H155.0V717.4H157.0V718.9H159.0V729.3H160.5V727.9H161.5V726.1H162.5V725.8H163.5V725.8H166.0V724.5H168.0V727.5H170.0V725.4H172.5V725.1H173.5V726.8H174.5V728.4H175.5V728.2H177.0V725.9H178.0V725.4H179.5V729.5H182.0V732.5H184.5V730.7H186.5V728.0H189.0V723.8H190.0V721.7H192.5V725.1H195.0V727.1H197.0V728.8H198.0V729.3H200.5V732.3H202.0V738.2H203.5V740.9H205.5V740.0H206.5V742.2H207.5V739.3H210.0V732.5H212.0V739.6H213.5V740.7H216.0V734.0H218.5V731.4H221.0V734.7H223.5V737.0H225.5V739.1H227.5V741.5H228.5V743.3H231.0V738.3H232.0V734.7H234.0V729.3H236.0V730.0H237.0V731.2H238.0V732.5H240.0V727.9H242.5V729.3H244.0V725.1H245.5V725.9H246.5V721.6H248.5V720.2H250.0V722.3H251.0V724.6H252.0V725.5H253.0V725.1H255.0V726.6H257.5V727.5H259.0V728.6H260.5V727.2H261.5V728.3H263.0V726.0H264.0V729.0H265.0V732.5H266.0V727.8H268.0V726.9H270.0V723.4H271.5V723.2H272.5V721.8H273.5V721.7H275.0V726.0H277.0V725.8H278.0V720.6H279.0V721.7H280.0V727.1H282.5V726.0H284.5V731.5H286.5V736.6H288.5V741.0H290.5V742.2H292.5V744.8H294.5V744.5H296.5V744.0H298.5V742.8H299.5V742.5H301.0V740.3H302.5V738.3H304.0V738.6H305.0V739.5H307.5V729.4H310.0V726.4H312.0V721.9H313.5V719.1H314.5V720.2H315.5V727.7H317.0V729.3H319.0V727.9H321.5V731.4H322.5V730.7H325.0V729.8H326.5V728.9H328.5V728.2H329.5V730.0H330.5V732.6H333.0V732.5H335.0V733.0H337.0V729.9H338.5V726.6H341.0V726.0H343.0V728.3H344.5V731.0H346.0V726.7H348.5V726.7H350.0V727.6H351.0V729.3H353.0V722.8H355.0V723.9H357.0V724.3H358.0V726.4H360.0V727.2H362.0V728.8H364.0V725.0H365.5V723.9H368.0V727.5H369.0V730.3H370.0V732.5H372.5V731.2H373.5V728.0H375.5V727.6H378.0V726.7H379.5V726.5H381.0V725.4H383.5V731.4H384.5V732.5H386.5V728.6H388.5V725.1H390.5V726.8H392.0V724.8H394.5V721.7H397.0V723.9H398.0V723.7H399.5V730.3H401.5V728.8H404.0V728.9H405.0V726.9H406.5V729.2H408.0V727.1H410.5V730.3H413.0V726.7H415.0V727.8H417.0V728.7H419.0V733.0H420.0V732.2H421.5V731.4H423.5V726.7H425.5V729.8H427.0V731.9H428.5V727.3H431.0V721.7H433.5V726.0H435.0V724.2H437.0V723.2H438.5V727.9H440.0V728.2H442.5V729.5H445.0V724.6H447.0V721.7H449.0V729.3H451.5V727.0H452.5V720.6H455.0V722.2H456.0V729.7H457.5V728.5H458.5V727.1H460.5V728.8H462.0V729.7H464.0V722.8H466.0V722.9H468.0V724.5H469.0V728.2H470.5V726.7H471.5V728.7H473.0V725.4H475.0V722.9H477.0V725.3H478.0V722.9H479.0V721.3H480.5V722.8H481.5V725.2H484.0V726.0H486.0V720.1H488.0V717.4H490.5V725.8H492.0V728.2H494.5V723.3H496.5V719.5H498.5V715.8H499.5V716.3H500.5V717.7H502.0V721.4H504.0V723.9H505.0V728.2H507.0V727.4H508.0V726.9H509.0V724.5H511.0V727.5H513.0V727.5H515.0V729.7H517.0V721.9H519.0V719.8H520.5V719.8H521.5V720.2H524.0V724.5H525.5V723.9H527.5V724.2H529.5V727.1H531.0V727.4H533.5V728.2H535.5V728.5H537.0V725.1H538.5V725.2H540.5V722.8H543.0V722.6H545.5V724.5H547.5V724.0H549.5V722.4H550.5V724.6H552.5V725.4H553.5V724.3H556.0V725.5H558.5V725.9H560.5V727.2H563.0V733.2H565.5V732.5H566.5V731.0H569.0V732.1H570.0V729.1H572.0V729.9H574.5V729.8H576.5V733.0H579.0V733.4H581.0V737.5H583.0V738.7H585.0V742.6H587.0V745.5H589.0V736.2H591.0V743.3H593.0V742.3H595.0V740.6H597.0V741.7H598.0V742.8H600.0V745.5H602.0V742.4H603.5V731.0H605.0V737.2H607.5V745.7H608.5V745.7H610.5V745.5H611.5V742.7H612.5V740.1H614.5V741.6H615.5V743.6H617.5V743.1H619.0V738.5H621.0V731.9H622.5V733.4H624.0V740.2H626.0V743.3H628.0V742.8H629.0V742.2H631.0V743.3H632.5V743.3H633.5V733.6H635.5V734.2H637.5V735.7H640.0V731.5H642.0V731.8H644.0V728.6H645.5V729.0H647.0V724.5H649.0V722.6H650.0V722.1H651.0V714.5H653.0V710.9H654.5V713.2H655.5V716.6H657.5V720.1H659.0V721.2H661.0V721.8H663.0V733.8H665.5V737.9H666.5V726.0H667.5V731.6H668.5V735.5H670.0V735.8H672.0V736.2H673.5V741.0H675.5V741.8H678.0V739.8H679.5V739.0H681.5V741.8H683.0V740.2H685.0V738.7H686.0V735.3H688.5V735.7H689.5V736.8H690.5V737.3H693.0V732.4H694.5V734.0H696.5V737.5H698.0V737.1H699.0V734.5H700.5V729.1H702.5V726.7H703.5V734.7H704.5V733.6H706.0V735.9H708.0V729.1H710.5V725.7H712.0V724.5H714.5V723.2H716.0V729.3H718.0V728.5H719.5V725.2H722.0V724.7H723.0V728.0H725.5V729.3H727.5V727.0H729.0V724.2H730.0V723.6H731.5V722.8H733.5V724.6H736.0V725.8H737.0V727.5H739.0V727.0H740.0V729.7H741.5V734.6H744.0V734.5H746.0V735.7H748.5V734.0H750.5V737.9H752.5V732.5H754.5V733.3H756.0V733.2H757.5V731.4H759.5V739.3H761.5V740.1H764.0V738.8H765.0V737.8H767.0V739.7H768.0V732.5H770.0V735.2H771.0V739.8H772.5V742.0H774.5V744.9H777.0V745.5H779.0V743.4H780.0V740.6H781.0V742.1H782.0V739.0H784.0V739.4H786.0V739.0H788.4V749.2Z" fill="#ff9900"/>
<line x1="28.55" y1="692.9" x2="28.55" y2="752.4000000000001" stroke="#1a1a1a" stroke-width="1.25"/>
<line x1="25.1" y1="707" x2="28.55" y2="707" stroke="#111" stroke-width="1.15"/>
<text transform="translate(21.0 710.30) rotate(0.03)" font-size="9.7" text-anchor="end" text-rendering="geometricPrecision" font-family="Liberation Sans, sans-serif" fill="#1a1a1a" stroke="#1a1a1a" stroke-width="0.12">6</text>
<line x1="25.1" y1="728" x2="28.55" y2="728" stroke="#111" stroke-width="1.15"/>
<text transform="translate(21.0 731.30) rotate(0.03)" font-size="9.7" text-anchor="end" text-rendering="geometricPrecision" font-family="Liberation Sans, sans-serif" fill="#1a1a1a" stroke="#1a1a1a" stroke-width="0.12">3</text>
<line x1="25.1" y1="749.2" x2="28.55" y2="749.2" stroke="#111" stroke-width="1.15"/>
<text transform="translate(21.0 752.50) rotate(0.03)" font-size="9.7" text-anchor="end" text-rendering="geometricPrecision" font-family="Liberation Sans, sans-serif" fill="#1a1a1a" stroke="#1a1a1a" stroke-width="0.12">0</text>
<line x1="24.9" y1="749.2" x2="28.5" y2="749.2" stroke="#111" stroke-width="1.25"/>
<line x1="28.5" y1="749.50" x2="788.4" y2="749.50" stroke="#111" stroke-width="0.95"/>
<line x1="136.35" y1="749.2" x2="136.35" y2="752.4000000000001" stroke="#111" stroke-width="1.25"/>
<line x1="243.95" y1="749.2" x2="243.95" y2="752.4000000000001" stroke="#111" stroke-width="1.25"/>
<line x1="351.54999999999995" y1="749.2" x2="351.54999999999995" y2="752.4000000000001" stroke="#111" stroke-width="1.25"/>
<line x1="459.15" y1="749.2" x2="459.15" y2="752.4000000000001" stroke="#111" stroke-width="1.25"/>
<line x1="566.75" y1="749.2" x2="566.75" y2="752.4000000000001" stroke="#111" stroke-width="1.25"/>
<line x1="674.3499999999999" y1="749.2" x2="674.3499999999999" y2="752.4000000000001" stroke="#111" stroke-width="1.25"/>
<line x1="781.9499999999999" y1="749.2" x2="781.9499999999999" y2="752.4000000000001" stroke="#111" stroke-width="1.25"/>
<path d="M29.0,845.2V841.9H31.0V841.6H32.0V841.2H33.0V841.4H34.5V841.2H36.5V841.1H38.0V841.0H39.5V841.3H41.5V841.7H43.0V841.7H45.0V841.7H46.5V842.0H48.5V841.7H50.0V842.2H52.0V842.5H53.5V842.7H54.5V842.6H56.0V842.8H57.0V843.3H58.0V843.1H59.5V842.5H61.5V842.8H63.0V841.9H65.0V841.8H66.0V841.7H68.0V842.0H69.0V842.5H70.0V842.5H71.0V842.7H72.5V842.9H73.5V842.6H75.5V842.4H77.0V842.7H79.0V841.9H80.0V842.3H81.0V841.7H82.5V841.8H83.5V841.4H85.0V841.1H86.5V839.9H88.5V839.7H90.0V839.5H91.0V839.2H92.5V839.9H94.5V840.4H95.5V840.4H97.0V840.8H98.5V841.2H100.5V841.3H101.5V841.9H102.5V842.0H104.0V843.1H105.5V843.0H107.0V842.8H109.0V842.5H110.5V842.6H111.5V842.3H112.5V842.4H114.0V841.9H115.0V842.1H117.0V841.8H118.5V842.0H120.0V842.2H121.0V842.1H122.0V842.1H123.0V842.3H124.5V842.2H125.5V842.1H127.0V841.5H128.0V841.6H130.0V841.4H131.5V842.0H133.5V841.9H135.0V842.7H137.0V842.5H138.0V842.2H139.0V842.3H141.0V842.2H143.0V840.4H145.0V840.1H146.5V840.1H148.0V839.7H149.5V840.2H150.5V839.8H151.5V839.7H153.0V840.5H154.5V840.5H156.5V841.2H158.0V841.2H159.0V841.2H160.0V841.2H161.0V841.2H162.5V841.4H164.5V840.6H166.5V840.4H168.0V840.7H169.0V840.5H170.5V841.0H172.5V841.4H173.5V841.5H175.0V841.1H177.0V841.2H178.0V840.6H179.0V840.5H180.5V840.6H181.5V840.9H183.5V841.2H185.0V841.7H186.5V841.6H188.0V841.9H190.0V841.6H191.5V841.8H193.0V841.6H195.0V842.1H197.0V842.2H198.5V842.0H199.5V842.7H201.5V842.6H202.5V843.0H204.5V842.7H205.5V843.1H207.5V843.1H209.5V842.7H211.0V842.6H212.0V842.7H213.0V842.8H214.0V842.6H215.0V842.6H216.5V842.3H217.5V842.4H219.5V842.5H220.5V842.8H222.5V842.3H223.5V842.6H225.0V842.5H226.0V842.5H227.0V842.3H229.0V842.9H230.5V842.2H232.5V842.1H233.5V842.4H235.5V842.1H236.5V842.1H237.5V841.8H239.0V841.8H240.0V842.0H241.5V841.1H242.5V839.1H244.5V835.0H246.0V831.6H248.0V828.9H249.0V828.9H250.5V828.0H252.5V829.2H253.5V830.9H255.0V832.2H256.0V832.9H258.0V834.0H259.5V836.5H261.5V838.6H262.5V839.8H263.5V841.8H264.5V842.1H266.5V842.9H268.0V843.1H269.0V842.9H270.5V841.8H272.5V841.2H273.5V841.0H275.0V840.6H276.5V840.1H278.0V840.2H279.0V840.4H281.0V841.2H283.0V842.2H285.0V842.4H286.0V842.7H287.0V842.7H288.5V842.6H290.5V843.0H291.5V843.0H293.0V842.7H294.5V843.1H296.5V842.9H298.5V842.5H299.5V841.9H300.5V841.3H301.5V841.4H302.5V842.1H304.5V842.3H306.0V843.1H307.5V842.9H309.5V842.6H311.5V842.7H312.5V842.6H313.5V842.5H314.5V842.6H316.5V842.3H318.0V842.1H319.0V841.9H320.0V842.0H321.0V841.6H323.0V841.2H325.0V841.2H326.0V841.4H327.0V841.5H328.0V841.7H330.0V841.3H331.0V841.8H333.0V842.0H334.5V842.3H336.5V841.8H337.5V841.5H339.5V841.0H341.5V840.0H343.0V839.7H344.5V839.1H346.5V839.4H348.5V838.6H350.0V837.8H351.5V836.5H352.5V834.1H354.0V832.5H355.0V831.1H356.0V830.2H358.0V831.7H359.5V832.2H360.5V833.9H362.5V835.0H364.0V834.8H365.0V835.0H367.0V835.4H368.0V836.2H370.0V837.1H372.0V837.4H373.5V837.7H375.5V837.9H377.5V837.6H379.0V837.8H380.5V837.9H381.5V837.4H383.0V837.3H385.0V837.1H386.0V837.5H387.0V836.9H388.0V837.0H389.5V836.6H391.5V836.2H393.5V836.4H395.0V837.0H397.0V837.8H398.5V838.0H400.0V838.0H402.0V838.6H403.5V839.0H404.5V839.5H406.5V840.4H407.5V841.3H408.5V841.4H410.5V840.9H411.5V840.5H413.0V840.6H415.0V840.4H417.0V840.2H418.0V840.3H419.5V839.9H420.5V839.6H422.5V838.1H424.5V835.4H426.5V832.9H428.5V829.7H429.5V827.3H430.5V825.1H432.5V823.2H434.5V824.8H436.0V824.3H437.0V824.0H439.0V823.6H441.0V823.6H443.0V823.6H444.5V823.8H446.0V823.2H447.0V825.5H448.5V826.9H450.0V825.8H452.0V823.1H454.0V819.8H455.5V819.2H457.0V818.6H458.5V815.6H460.5V812.7H462.5V811.1H464.5V814.2H466.0V815.9H467.0V816.9H468.5V819.1H470.0V820.4H471.0V819.3H472.5V818.3H474.5V817.6H476.5V817.2H478.5V820.8H479.5V822.2H481.0V823.7H482.5V823.1H483.5V822.5H485.0V820.2H487.0V814.1H488.5V810.2H490.0V812.3H491.0V818.2H492.0V818.9H493.5V808.4H495.0V817.2H496.5V810.7H498.5V813.2H500.0V817.2H502.0V811.1H503.0V810.7H504.0V819.3H506.0V825.8H507.0V824.8H508.0V823.5H509.0V820.4H510.5V821.5H511.5V823.0H513.0V824.5H514.5V825.2H515.5V825.8H516.5V826.3H518.0V826.6H519.0V827.4H520.5V827.6H521.5V827.8H523.5V827.8H525.5V829.1H527.5V831.5H529.5V837.3H531.0V839.4H532.5V840.9H534.5V841.0H536.0V841.2H537.0V841.1H538.0V841.6H539.5V841.8H541.0V841.6H542.0V841.6H543.0V841.7H544.5V842.0H546.0V842.3H548.0V842.1H549.5V842.2H551.5V842.6H552.5V842.7H554.0V842.3H555.0V842.6H556.0V842.3H558.0V841.8H559.0V841.9H561.0V841.6H562.0V841.8H564.0V841.3H566.0V841.4H567.0V841.6H568.0V841.0H569.5V841.3H570.5V840.9H572.5V840.7H574.0V839.9H575.0V839.3H576.5V837.4H578.0V836.1H579.0V836.0H581.0V835.9H583.0V837.2H585.0V839.0H586.0V840.3H587.0V842.0H589.0V842.0H590.0V842.2H592.0V842.9H594.0V842.4H595.5V843.0H597.0V842.4H599.0V842.7H601.0V842.6H602.0V841.9H603.5V842.1H605.0V841.8H607.0V842.1H608.0V842.2H609.0V842.3H610.5V842.6H612.5V842.4H614.5V842.8H616.0V842.5H618.0V842.6H620.0V841.8H621.0V841.9H623.0V841.6H624.5V841.4H626.5V841.9H628.5V842.3H630.5V842.3H632.0V842.2H633.0V842.3H634.0V842.2H635.5V842.1H636.5V842.3H638.5V841.9H640.5V841.9H642.5V841.1H644.5V841.7H645.5V841.3H647.5V840.9H649.0V840.9H651.0V839.9H653.0V838.8H654.0V838.7H655.5V838.4H657.0V838.7H659.0V838.4H660.5V839.8H662.5V840.7H664.0V840.8H666.0V841.4H667.5V841.4H668.5V841.7H670.5V841.9H672.5V842.1H674.0V842.4H675.5V842.3H676.5V842.4H678.5V842.5H679.5V842.7H681.5V842.8H683.5V842.6H684.5V842.4H686.0V842.3H687.5V842.8H688.5V842.3H689.5V842.3H690.5V843.1H692.5V843.2H694.0V843.0H696.0V842.9H697.5V843.1H699.5V843.0H701.5V842.7H703.0V842.4H705.0V842.5H707.0V842.0H708.5V841.7H710.0V841.1H711.0V841.0H712.5V841.5H714.5V841.8H716.0V841.5H717.0V841.6H718.5V842.0H719.5V842.1H721.0V842.2H722.5V842.3H724.0V842.5H725.0V842.0H726.0V842.1H727.0V841.6H728.5V841.7H730.5V841.6H732.5V841.2H733.5V841.0H735.0V841.1H736.0V841.7H738.0V841.8H739.0V842.2H741.0V842.4H743.0V842.4H745.0V842.4H747.0V842.6H748.5V842.4H750.0V842.8H751.0V842.9H752.0V842.3H753.5V842.9H755.5V842.5H757.5V842.5H758.5V842.9H760.5V843.1H762.0V843.1H763.5V843.1H765.5V842.9H767.0V843.1H768.0V842.6H769.5V842.6H771.5V842.7H772.5V842.7H773.5V842.7H775.0V842.8H776.5V842.9H778.5V841.7H780.5V840.3H781.5V838.7H783.5V837.8H784.5V837.6H786.0V837.9H787.0V837.3H788.4V845.2Z" fill="#0000ff"/>
<line x1="28.55" y1="788.9" x2="28.55" y2="848.4000000000001" stroke="#1a1a1a" stroke-width="1.25"/>
<line x1="25.1" y1="803.3" x2="28.55" y2="803.3" stroke="#111" stroke-width="1.15"/>
<text transform="translate(21.0 806.60) rotate(0.03)" font-size="9.7" text-anchor="end" text-rendering="geometricPrecision" font-family="Liberation Sans, sans-serif" fill="#1a1a1a" stroke="#1a1a1a" stroke-width="0.12">6</text>
<line x1="25.1" y1="824.2" x2="28.55" y2="824.2" stroke="#111" stroke-width="1.15"/>
<text transform="translate(21.0 827.50) rotate(0.03)" font-size="9.7" text-anchor="end" text-rendering="geometricPrecision" font-family="Liberation Sans, sans-serif" fill="#1a1a1a" stroke="#1a1a1a" stroke-width="0.12">3</text>
<line x1="25.1" y1="845.2" x2="28.55" y2="845.2" stroke="#111" stroke-width="1.15"/>
<text transform="translate(21.0 848.50) rotate(0.03)" font-size="9.7" text-anchor="end" text-rendering="geometricPrecision" font-family="Liberation Sans, sans-serif" fill="#1a1a1a" stroke="#1a1a1a" stroke-width="0.12">0</text>
<line x1="24.9" y1="845.2" x2="28.5" y2="845.2" stroke="#111" stroke-width="1.25"/>
<line x1="28.5" y1="845.50" x2="788.4" y2="845.50" stroke="#111" stroke-width="0.95"/>
<line x1="136.35" y1="845.2" x2="136.35" y2="848.4000000000001" stroke="#111" stroke-width="1.25"/>
<line x1="243.95" y1="845.2" x2="243.95" y2="848.4000000000001" stroke="#111" stroke-width="1.25"/>
<line x1="351.54999999999995" y1="845.2" x2="351.54999999999995" y2="848.4000000000001" stroke="#111" stroke-width="1.25"/>
<line x1="459.15" y1="845.2" x2="459.15" y2="848.4000000000001" stroke="#111" stroke-width="1.25"/>
<line x1="566.75" y1="845.2" x2="566.75" y2="848.4000000000001" stroke="#111" stroke-width="1.25"/>
<line x1="674.3499999999999" y1="845.2" x2="674.3499999999999" y2="848.4000000000001" stroke="#111" stroke-width="1.25"/>
<line x1="781.9499999999999" y1="845.2" x2="781.9499999999999" y2="848.4000000000001" stroke="#111" stroke-width="1.25"/>
<path d="M29.0,912.7V908.2H30.5V906.5H32.0V906.4H33.5V907.6H34.5V907.8H36.5V908.9H37.5V908.9H38.5V909.6H40.5V909.2H42.5V909.1H44.0V909.1H45.5V908.9H46.5V909.7H48.5V909.1H49.5V909.0H50.5V909.1H51.5V908.7H53.0V909.3H54.0V909.1H56.0V909.6H57.0V909.5H59.0V909.8H60.5V910.1H62.5V909.2H64.5V909.1H66.0V909.6H67.5V910.1H68.5V909.9H70.0V910.0H71.0V910.0H72.0V910.0H74.0V909.4H75.0V908.7H76.5V909.3H78.0V908.4H79.0V908.3H81.0V908.0H82.5V908.3H83.5V907.8H85.0V907.7H86.0V908.1H88.0V908.2H89.5V908.0H90.5V908.0H92.5V909.1H93.5V908.5H95.0V908.5H97.0V909.5H98.0V909.5H99.0V909.9H101.0V908.2H102.5V908.4H103.5V909.2H105.0V909.0H107.0V909.4H108.0V909.3H109.5V909.9H111.0V909.5H112.5V909.8H114.0V910.0H116.0V910.4H118.0V910.6H119.5V908.9H121.5V909.7H123.0V909.1H125.0V909.6H127.0V909.3H128.0V909.7H130.0V909.5H131.0V909.2H133.0V909.6H135.0V910.0H136.5V909.1H138.5V909.3H139.5V909.0H140.5V909.4H142.5V909.5H144.5V909.4H146.5V908.8H148.0V908.7H150.0V909.8H151.0V910.0H153.0V909.6H155.0V909.5H156.0V909.9H158.0V909.5H159.5V909.5H160.5V909.2H162.0V908.7H164.0V908.7H165.5V909.6H166.5V908.1H168.5V908.8H170.5V908.6H171.5V909.3H173.5V909.4H175.0V909.5H177.0V909.4H179.0V909.1H181.0V909.6H182.5V909.9H184.0V910.0H185.5V908.9H187.5V908.2H189.5V908.6H191.5V908.7H193.0V909.9H194.5V909.8H195.5V909.6H197.0V909.6H198.5V910.6H200.5V910.4H202.0V910.6H204.0V910.4H205.0V910.5H207.0V909.5H208.5V908.7H210.5V909.7H212.5V908.6H214.5V909.5H216.5V909.2H217.5V909.8H219.0V910.4H221.0V909.4H223.0V908.2H224.0V909.3H225.5V910.4H227.0V910.1H228.0V909.8H230.0V909.7H231.5V910.2H233.5V909.1H234.5V909.1H236.0V909.9H238.0V910.0H239.5V908.8H240.5V908.7H241.5V909.1H243.0V908.7H244.0V908.4H245.0V907.4H247.0V908.0H248.0V907.4H249.0V908.0H250.0V907.8H251.5V908.7H253.5V908.4H255.0V908.0H257.0V908.8H258.5V910.1H260.0V910.0H262.0V910.0H264.0V909.3H265.5V910.1H266.5V909.5H268.5V909.3H269.5V908.7H271.0V908.7H272.0V908.2H274.0V906.9H276.0V907.6H278.0V908.4H279.0V909.1H281.0V909.7H282.5V909.1H283.5V908.3H285.5V909.1H287.5V908.7H289.0V909.2H291.0V909.5H293.0V909.5H294.0V910.7H295.0V909.6H296.0V910.4H297.5V909.8H298.5V910.0H299.5V909.1H301.0V909.1H303.0V908.5H304.5V909.1H305.5V908.8H306.5V908.1H308.5V908.9H310.5V908.5H312.0V908.5H313.0V907.8H314.5V908.7H316.0V907.8H317.5V908.8H319.5V908.7H321.5V908.6H323.0V908.0H324.0V908.4H325.0V908.2H326.0V908.2H327.0V908.3H328.0V908.9H329.5V909.3H331.5V909.1H333.5V907.9H335.0V907.8H337.0V908.4H338.0V908.8H339.5V909.5H341.5V908.8H343.5V908.5H345.5V908.5H347.0V908.7H349.0V908.1H350.0V907.8H352.0V908.4H354.0V909.1H355.5V909.0H357.5V908.9H359.0V908.7H360.0V908.7H361.5V909.0H363.5V908.6H365.0V909.2H366.0V909.5H368.0V908.5H369.5V909.7H371.0V909.0H372.5V909.3H374.0V908.7H375.5V908.3H377.0V908.8H379.0V909.1H381.0V909.2H382.0V908.9H383.0V909.0H384.0V909.0H386.0V908.3H387.5V908.3H389.5V907.4H391.0V908.1H392.0V907.7H394.0V908.7H396.0V908.6H398.0V908.3H400.0V908.2H401.5V908.1H403.5V909.1H404.5V908.5H405.5V909.2H407.5V909.6H409.5V909.2H410.5V909.8H412.0V909.0H413.0V909.4H414.0V909.1H415.0V908.7H416.0V909.0H417.0V908.7H418.0V908.7H419.5V909.1H421.0V909.1H423.0V909.0H424.5V909.5H426.5V909.3H427.5V908.8H429.5V908.1H431.0V908.6H432.0V908.0H433.5V908.8H435.5V907.5H436.5V907.2H438.0V906.1H440.0V903.9H442.0V904.3H443.0V904.5H444.0V904.6H445.0V904.4H446.5V903.6H447.5V903.7H448.5V902.7H449.5V901.8H451.0V901.6H452.5V900.8H454.0V900.3H456.0V899.2H458.0V902.6H459.5V901.9H461.0V902.0H462.0V901.3H464.0V903.0H465.0V904.0H466.5V903.5H468.5V905.0H470.5V904.9H471.5V905.4H473.5V906.1H475.0V907.3H476.5V906.8H477.5V907.4H479.0V907.4H481.0V906.7H483.0V906.8H484.0V906.2H485.5V905.9H487.0V905.6H488.5V905.7H490.0V905.4H492.0V903.1H493.5V903.4H495.5V904.2H497.0V904.5H499.0V904.8H501.0V903.1H502.5V902.9H504.0V906.3H506.0V908.1H508.0V908.3H509.0V909.0H510.0V908.7H511.0V908.5H512.5V908.4H514.0V908.7H516.0V908.2H518.0V908.7H519.0V908.1H521.0V909.2H523.0V908.7H525.0V908.6H526.5V908.8H527.5V910.5H529.0V910.0H531.0V909.5H532.5V909.3H534.0V909.1H535.5V909.0H537.0V909.7H538.5V910.4H540.5V910.1H542.5V910.9H544.0V910.2H546.0V909.7H547.0V909.6H549.0V910.1H550.5V909.8H552.0V909.0H553.0V909.2H554.5V909.4H555.5V908.8H557.5V908.9H559.0V908.7H560.0V909.5H562.0V909.7H563.5V910.2H564.5V910.0H566.5V910.2H568.5V910.0H570.0V909.4H571.0V909.3H573.0V909.2H574.0V908.8H576.0V907.6H577.5V907.5H579.5V906.9H581.5V907.7H583.5V908.3H584.5V907.8H585.5V908.1H587.0V907.7H589.0V905.9H591.0V903.8H593.0V903.5H595.0V904.5H596.0V908.3H598.0V908.8H599.0V909.6H601.0V908.9H603.0V909.1H604.0V909.2H605.5V909.4H607.0V909.4H608.0V909.4H610.0V910.3H612.0V909.2H613.0V909.6H614.5V909.6H616.0V910.1H617.5V910.3H619.0V910.4H620.0V908.8H621.0V909.1H622.0V907.9H623.5V908.0H624.5V907.4H626.0V908.7H628.0V908.9H629.5V909.8H630.5V909.0H632.0V908.9H633.5V909.6H635.0V909.5H637.0V908.4H639.0V908.7H640.5V908.7H641.5V908.2H643.5V908.7H645.5V908.7H647.5V908.7H649.5V909.0H650.5V907.8H652.0V907.4H653.0V907.2H654.5V906.2H656.5V906.1H658.0V906.7H659.5V906.6H661.0V907.5H663.0V907.5H665.0V907.8H666.5V907.5H667.5V907.9H669.0V907.5H670.0V907.1H671.5V907.4H673.5V908.4H674.5V908.6H675.5V908.9H677.0V908.8H678.0V909.0H679.0V908.9H681.0V909.1H682.5V908.8H683.5V909.0H685.5V909.2H686.5V909.7H687.5V910.0H689.0V909.5H690.0V909.4H691.0V908.8H692.0V909.4H694.0V909.1H696.0V909.2H697.5V908.9H699.0V909.1H700.5V909.5H702.5V909.8H704.5V909.1H705.5V908.6H707.0V907.4H708.5V908.5H709.5V907.5H711.0V907.9H713.0V908.0H715.0V908.7H716.0V908.3H717.5V908.9H718.5V909.1H720.5V908.9H722.0V908.6H723.5V908.5H725.0V908.7H726.0V908.6H727.5V908.9H729.5V908.7H730.5V908.4H731.5V909.1H733.0V908.8H734.0V909.0H735.5V909.1H736.5V909.1H738.5V909.8H740.5V909.3H742.5V909.6H744.0V909.8H745.5V910.2H747.0V909.0H749.0V909.6H750.5V910.0H752.0V909.9H753.5V908.8H755.5V909.1H757.0V909.0H758.0V909.1H759.0V909.9H760.5V909.2H762.0V909.2H763.0V909.2H764.0V909.9H765.5V909.4H766.5V909.2H768.5V910.5H770.0V910.3H771.0V910.4H773.0V909.2H774.0V908.9H775.5V909.1H777.5V908.8H778.5V908.8H779.5V909.1H780.5V908.0H781.5V907.1H783.5V906.1H785.5V906.7H787.0V907.6H788.0V907.2H788.4V912.7Z" fill="#ff0000"/>
<line x1="28.55" y1="856.4" x2="28.55" y2="915.9000000000001" stroke="#1a1a1a" stroke-width="1.25"/>
<line x1="25.1" y1="870.5" x2="28.55" y2="870.5" stroke="#111" stroke-width="1.15"/>
<text transform="translate(21.0 873.80) rotate(0.03)" font-size="9.7" text-anchor="end" text-rendering="geometricPrecision" font-family="Liberation Sans, sans-serif" fill="#1a1a1a" stroke="#1a1a1a" stroke-width="0.12">6</text>
<line x1="25.1" y1="891.7" x2="28.55" y2="891.7" stroke="#111" stroke-width="1.15"/>
<text transform="translate(21.0 895.00) rotate(0.03)" font-size="9.7" text-anchor="end" text-rendering="geometricPrecision" font-family="Liberation Sans, sans-serif" fill="#1a1a1a" stroke="#1a1a1a" stroke-width="0.12">3</text>
<line x1="25.1" y1="912.7" x2="28.55" y2="912.7" stroke="#111" stroke-width="1.15"/>
<text transform="translate(21.0 916.00) rotate(0.03)" font-size="9.7" text-anchor="end" text-rendering="geometricPrecision" font-family="Liberation Sans, sans-serif" fill="#1a1a1a" stroke="#1a1a1a" stroke-width="0.12">0</text>
<line x1="24.9" y1="912.7" x2="28.5" y2="912.7" stroke="#111" stroke-width="1.25"/>
<line x1="28.5" y1="913.00" x2="788.4" y2="913.00" stroke="#111" stroke-width="0.95"/>
<line x1="136.35" y1="912.7" x2="136.35" y2="915.9000000000001" stroke="#111" stroke-width="1.25"/>
<line x1="243.95" y1="912.7" x2="243.95" y2="915.9000000000001" stroke="#111" stroke-width="1.25"/>
<line x1="351.54999999999995" y1="912.7" x2="351.54999999999995" y2="915.9000000000001" stroke="#111" stroke-width="1.25"/>
<line x1="459.15" y1="912.7" x2="459.15" y2="915.9000000000001" stroke="#111" stroke-width="1.25"/>
<line x1="566.75" y1="912.7" x2="566.75" y2="915.9000000000001" stroke="#111" stroke-width="1.25"/>
<line x1="674.3499999999999" y1="912.7" x2="674.3499999999999" y2="915.9000000000001" stroke="#111" stroke-width="1.25"/>
<line x1="781.9499999999999" y1="912.7" x2="781.9499999999999" y2="915.9000000000001" stroke="#111" stroke-width="1.25"/>
<path d="M29.0,981.0V974.4H30.5V972.8H32.0V973.9H33.0V977.2H34.5V976.8H36.0V977.8H38.0V976.7H39.0V976.9H40.0V976.3H41.5V976.5H42.5V975.9H43.5V978.0H45.5V976.3H47.5V974.1H48.5V975.8H49.5V976.0H51.5V977.7H53.5V979.1H55.0V978.6H56.5V978.7H57.5V978.5H59.5V978.0H60.5V977.1H62.5V975.2H64.5V974.6H65.5V975.6H67.5V976.0H69.0V977.2H70.0V978.0H72.0V975.9H74.0V975.0H75.5V976.4H77.5V977.2H79.0V976.4H80.0V975.9H81.5V976.5H83.5V975.9H84.5V977.6H86.0V976.9H87.0V976.5H88.5V975.9H89.5V976.9H90.5V977.6H92.5V977.5H94.0V976.5H95.0V976.7H97.0V977.1H99.0V977.0H100.5V977.6H101.5V978.8H103.5V978.9H105.0V979.7H106.5V978.4H108.5V978.3H110.5V977.5H111.5V976.9H113.0V976.5H114.5V975.4H116.5V977.4H117.5V978.0H119.0V977.1H121.0V976.6H122.5V975.9H124.5V976.5H125.5V978.9H127.5V978.0H129.0V977.2H130.5V979.3H132.5V978.5H133.5V979.1H134.5V978.2H136.0V979.0H138.0V976.9H140.0V977.2H142.0V977.4H143.5V977.8H144.5V978.6H146.5V978.3H148.0V978.6H149.5V978.7H151.0V977.8H152.0V978.2H153.5V977.8H154.5V975.9H156.0V975.6H157.0V976.0H158.5V978.5H160.5V977.4H161.5V976.8H163.5V975.0H164.5V975.7H165.5V974.6H167.0V977.2H168.0V976.6H169.5V976.3H171.5V976.5H173.5V978.0H174.5V978.1H176.5V976.3H178.0V976.8H179.5V978.0H181.0V978.2H183.0V977.9H184.0V977.6H185.0V977.4H187.0V975.6H188.5V975.9H189.5V974.7H191.0V973.7H192.5V975.9H194.0V976.1H195.5V976.8H196.5V976.7H197.5V976.4H198.5V975.9H200.5V976.4H201.5V977.6H203.5V977.9H205.5V977.9H207.0V978.5H209.0V975.9H210.0V976.2H211.0V975.6H212.0V978.5H213.5V978.0H215.5V977.6H216.5V977.7H218.5V977.6H220.5V977.0H221.5V977.4H223.0V976.3H225.0V977.5H226.0V978.6H228.0V978.9H229.5V978.2H231.0V979.3H233.0V976.9H234.5V976.7H236.5V977.3H238.0V977.7H239.0V977.6H241.0V976.3H242.5V976.5H244.0V977.3H245.5V978.0H247.0V977.9H248.0V978.0H249.0V976.8H250.0V977.5H251.5V976.6H253.5V975.4H255.5V976.7H257.5V977.8H259.0V977.0H260.5V978.0H261.5V976.2H263.5V976.3H265.0V977.1H266.0V977.6H267.0V977.6H268.0V977.3H269.0V976.3H270.0V976.3H272.0V976.4H273.5V977.1H275.5V977.6H276.5V978.0H278.5V978.4H280.0V978.2H282.0V979.0H283.5V978.9H285.0V978.6H286.5V978.9H287.5V978.0H289.0V979.0H291.0V979.2H292.5V978.4H294.5V979.4H295.5V978.9H296.5V979.5H298.0V979.3H299.0V978.2H300.0V979.3H301.0V978.8H303.0V978.6H305.0V977.3H306.0V977.2H308.0V978.8H309.5V978.5H311.5V978.7H313.0V977.2H315.0V977.3H316.0V978.5H317.5V978.5H318.5V978.3H320.5V977.0H322.0V976.7H323.0V976.9H325.0V978.1H326.5V978.0H328.0V977.5H329.5V977.2H331.0V976.6H332.5V977.2H334.0V978.0H335.5V978.2H337.5V976.5H339.5V976.3H341.0V977.2H342.5V978.5H344.5V978.9H346.5V977.6H348.0V977.3H349.5V977.2H351.5V977.1H353.5V977.6H355.5V976.2H356.5V975.5H358.0V974.9H359.5V974.6H361.0V975.7H363.0V976.7H365.0V978.1H366.5V977.6H368.5V976.7H370.0V976.7H371.0V976.4H372.5V978.0H374.5V977.3H376.0V976.7H378.0V977.4H379.0V976.9H380.5V978.3H381.5V978.0H383.5V978.1H385.0V978.1H386.5V977.8H387.5V977.1H388.5V976.6H390.0V976.1H392.0V975.3H393.0V976.0H394.5V975.8H395.5V975.0H397.0V975.2H398.5V976.8H399.5V976.0H400.5V976.4H402.0V976.6H404.0V976.8H406.0V977.9H407.5V978.9H408.5V978.9H409.5V978.1H411.0V979.3H413.0V977.9H414.0V978.3H416.0V977.6H417.5V978.0H418.5V978.5H419.5V978.1H420.5V977.7H422.0V977.5H423.0V977.3H425.0V976.4H426.5V976.6H427.5V976.8H428.5V976.7H430.5V976.3H432.0V976.6H433.5V977.6H434.5V977.6H436.5V976.7H437.5V975.9H439.5V976.2H441.5V976.1H443.5V976.9H445.5V977.8H447.5V977.2H448.5V976.8H450.0V976.2H451.5V976.3H452.5V977.3H454.5V977.6H456.5V977.1H458.5V976.3H460.5V976.1H462.0V976.7H463.5V976.0H464.5V976.7H466.0V976.4H467.0V976.8H469.0V976.3H471.0V977.3H473.0V977.6H475.0V977.2H476.5V976.7H478.5V976.4H479.5V976.5H480.5V975.4H481.5V976.1H483.5V975.9H485.5V973.1H487.5V972.0H489.0V975.2H490.0V975.8H491.0V976.1H492.5V977.2H494.0V977.1H495.0V975.7H496.5V974.7H498.0V973.3H499.0V975.1H500.0V975.8H501.5V975.9H502.5V976.7H504.0V977.0H505.5V976.5H507.5V976.3H509.5V976.7H511.0V977.2H513.0V976.6H514.0V976.7H515.5V976.9H517.5V974.1H518.5V975.1H519.5V976.7H521.5V975.9H523.5V977.3H525.0V977.6H526.5V977.8H527.5V977.0H528.5V977.9H530.5V974.6H532.5V976.2H534.5V977.4H535.5V977.9H537.5V978.0H539.0V978.8H540.5V977.1H542.5V977.4H543.5V977.0H545.0V977.0H547.0V977.0H549.0V975.6H550.0V975.4H551.5V977.3H553.5V977.7H554.5V977.3H556.5V977.7H558.5V976.2H559.5V975.9H561.5V975.9H563.0V976.9H564.5V977.8H565.5V978.4H567.5V978.0H569.5V978.3H570.5V977.2H572.5V976.3H574.5V976.5H576.5V976.2H578.0V976.6H580.0V975.3H581.0V975.9H582.0V975.8H583.5V977.4H585.5V977.2H586.5V978.0H587.5V976.3H588.5V975.5H590.0V974.1H592.0V976.4H594.0V976.8H595.0V976.6H597.0V977.2H599.0V977.5H601.0V976.5H602.5V975.9H604.5V976.2H606.0V976.2H608.0V976.4H609.0V976.7H610.0V976.8H611.5V976.4H613.0V976.7H615.0V978.0H617.0V977.3H618.0V977.4H620.0V976.1H621.0V973.3H622.5V972.9H623.5V974.1H624.5V975.7H626.0V976.2H627.5V976.7H629.5V976.5H631.5V976.3H633.5V975.8H634.5V974.9H636.0V975.0H637.5V976.5H638.5V977.6H639.5V977.6H641.0V977.2H642.5V976.3H644.0V977.0H645.0V976.7H646.0V975.6H647.0V976.0H649.0V974.8H650.5V969.1H652.0V967.0H654.0V969.8H655.0V969.1H657.0V970.1H659.0V969.7H660.5V970.2H662.5V970.7H663.5V978.0H665.0V969.9H666.5V968.8H668.5V978.0H669.5V975.9H671.0V974.6H672.0V975.9H673.5V977.2H674.5V976.9H675.5V975.5H677.0V974.6H678.5V976.0H680.0V977.1H681.5V977.1H682.5V977.8H684.5V977.1H685.5V977.0H686.5V978.3H687.5V977.8H689.5V978.9H691.5V979.6H693.5V979.1H694.5V979.5H696.0V980.0H698.0V979.8H700.0V979.1H701.5V975.4H703.5V975.8H704.5V977.4H705.5V978.9H706.5V977.9H707.5V978.1H708.5V977.3H710.5V975.9H712.5V975.1H713.5V974.7H715.0V974.1H716.5V974.5H717.5V975.6H719.0V977.2H721.0V977.3H722.5V977.2H724.5V976.3H726.5V975.5H728.0V975.0H729.5V975.5H731.5V976.0H732.5V975.6H734.5V976.0H736.0V976.3H737.5V976.2H739.0V974.6H740.5V977.2H741.5V977.2H742.5V976.9H744.5V976.7H745.5V976.5H747.5V976.4H749.0V973.9H751.0V973.7H752.5V976.3H754.5V972.0H756.0V974.7H757.5V977.1H759.5V978.1H760.5V978.6H761.5V977.8H762.5V978.0H764.5V978.7H766.5V976.9H768.0V977.2H769.5V977.1H771.0V977.2H772.0V977.7H773.0V977.9H774.0V978.3H776.0V978.5H777.0V978.5H779.0V976.8H780.0V975.1H781.5V974.8H782.5V973.7H784.5V974.4H786.0V974.4H787.0V974.7H788.4V981.0Z" fill="#ff9900"/>
<line x1="28.55" y1="924.7" x2="28.55" y2="984.2" stroke="#1a1a1a" stroke-width="1.25"/>
<line x1="25.1" y1="938.8" x2="28.55" y2="938.8" stroke="#111" stroke-width="1.15"/>
<text transform="translate(21.0 942.10) rotate(0.03)" font-size="9.7" text-anchor="end" text-rendering="geometricPrecision" font-family="Liberation Sans, sans-serif" fill="#1a1a1a" stroke="#1a1a1a" stroke-width="0.12">6</text>
<line x1="25.1" y1="959.8" x2="28.55" y2="959.8" stroke="#111" stroke-width="1.15"/>
<text transform="translate(21.0 963.10) rotate(0.03)" font-size="9.7" text-anchor="end" text-rendering="geometricPrecision" font-family="Liberation Sans, sans-serif" fill="#1a1a1a" stroke="#1a1a1a" stroke-width="0.12">3</text>
<line x1="25.1" y1="981" x2="28.55" y2="981" stroke="#111" stroke-width="1.15"/>
<text transform="translate(21.0 984.30) rotate(0.03)" font-size="9.7" text-anchor="end" text-rendering="geometricPrecision" font-family="Liberation Sans, sans-serif" fill="#1a1a1a" stroke="#1a1a1a" stroke-width="0.12">0</text>
<line x1="24.9" y1="981" x2="28.5" y2="981" stroke="#111" stroke-width="1.25"/>
<line x1="28.5" y1="981.30" x2="788.4" y2="981.30" stroke="#111" stroke-width="0.95"/>
<line x1="136.35" y1="981" x2="136.35" y2="984.2" stroke="#111" stroke-width="1.25"/>
<line x1="243.95" y1="981" x2="243.95" y2="984.2" stroke="#111" stroke-width="1.25"/>
<line x1="351.54999999999995" y1="981" x2="351.54999999999995" y2="984.2" stroke="#111" stroke-width="1.25"/>
<line x1="459.15" y1="981" x2="459.15" y2="984.2" stroke="#111" stroke-width="1.25"/>
<line x1="566.75" y1="981" x2="566.75" y2="984.2" stroke="#111" stroke-width="1.25"/>
<line x1="674.3499999999999" y1="981" x2="674.3499999999999" y2="984.2" stroke="#111" stroke-width="1.25"/>
<line x1="781.9499999999999" y1="981" x2="781.9499999999999" y2="984.2" stroke="#111" stroke-width="1.25"/>
<text transform="translate(28.75 767.4) rotate(0.03)" font-size="9.7" text-anchor="middle" text-rendering="geometricPrecision" font-family="Liberation Sans, sans-serif" fill="#1a1a1a" stroke="#1a1a1a" stroke-width="0.12">67401</text>
<text transform="translate(136.35 767.4) rotate(0.03)" font-size="9.7" text-anchor="middle" text-rendering="geometricPrecision" font-family="Liberation Sans, sans-serif" fill="#1a1a1a" stroke="#1a1a1a" stroke-width="0.12">77401</text>
<text transform="translate(243.95 767.4) rotate(0.03)" font-size="9.7" text-anchor="middle" text-rendering="geometricPrecision" font-family="Liberation Sans, sans-serif" fill="#1a1a1a" stroke="#1a1a1a" stroke-width="0.12">87401</text>
<text transform="translate(351.55 767.4) rotate(0.03)" font-size="9.7" text-anchor="middle" text-rendering="geometricPrecision" font-family="Liberation Sans, sans-serif" fill="#1a1a1a" stroke="#1a1a1a" stroke-width="0.12">97401</text>
<text transform="translate(459.15 767.4) rotate(0.03)" font-size="9.7" text-anchor="middle" text-rendering="geometricPrecision" font-family="Liberation Sans, sans-serif" fill="#1a1a1a" stroke="#1a1a1a" stroke-width="0.12">107401</text>
<text transform="translate(566.75 767.4) rotate(0.03)" font-size="9.7" text-anchor="middle" text-rendering="geometricPrecision" font-family="Liberation Sans, sans-serif" fill="#1a1a1a" stroke="#1a1a1a" stroke-width="0.12">117401</text>
<text transform="translate(674.35 767.4) rotate(0.03)" font-size="9.7" text-anchor="middle" text-rendering="geometricPrecision" font-family="Liberation Sans, sans-serif" fill="#1a1a1a" stroke="#1a1a1a" stroke-width="0.12">127401</text>
<text transform="translate(781.95 767.4) rotate(0.03)" font-size="9.7" text-anchor="middle" text-rendering="geometricPrecision" font-family="Liberation Sans, sans-serif" fill="#1a1a1a" stroke="#1a1a1a" stroke-width="0.12">137401</text>
<text transform="translate(28.75 999) rotate(0.03)" font-size="9.7" text-anchor="middle" text-rendering="geometricPrecision" font-family="Liberation Sans, sans-serif" fill="#1a1a1a" stroke="#1a1a1a" stroke-width="0.12">67401</text>
<text transform="translate(136.35 999) rotate(0.03)" font-size="9.7" text-anchor="middle" text-rendering="geometricPrecision" font-family="Liberation Sans, sans-serif" fill="#1a1a1a" stroke="#1a1a1a" stroke-width="0.12">77401</text>
<text transform="translate(243.95 999) rotate(0.03)" font-size="9.7" text-anchor="middle" text-rendering="geometricPrecision" font-family="Liberation Sans, sans-serif" fill="#1a1a1a" stroke="#1a1a1a" stroke-width="0.12">87401</text>
<text transform="translate(351.55 999) rotate(0.03)" font-size="9.7" text-anchor="middle" text-rendering="geometricPrecision" font-family="Liberation Sans, sans-serif" fill="#1a1a1a" stroke="#1a1a1a" stroke-width="0.12">97401</text>
<text transform="translate(459.15 999) rotate(0.03)" font-size="9.7" text-anchor="middle" text-rendering="geometricPrecision" font-family="Liberation Sans, sans-serif" fill="#1a1a1a" stroke="#1a1a1a" stroke-width="0.12">107401</text>
<text transform="translate(566.75 999) rotate(0.03)" font-size="9.7" text-anchor="middle" text-rendering="geometricPrecision" font-family="Liberation Sans, sans-serif" fill="#1a1a1a" stroke="#1a1a1a" stroke-width="0.12">117401</text>
<text transform="translate(674.35 999) rotate(0.03)" font-size="9.7" text-anchor="middle" text-rendering="geometricPrecision" font-family="Liberation Sans, sans-serif" fill="#1a1a1a" stroke="#1a1a1a" stroke-width="0.12">127401</text>
<text transform="translate(781.95 999) rotate(0.03)" font-size="9.7" text-anchor="middle" text-rendering="geometricPrecision" font-family="Liberation Sans, sans-serif" fill="#1a1a1a" stroke="#1a1a1a" stroke-width="0.12">137401</text>
<line x1="16.9" y1="778.45" x2="857" y2="778.45" stroke="#111" stroke-width="1.3"/>
<text transform="translate(810.2 59.6) rotate(0.03)" font-size="11.8" text-rendering="geometricPrecision" font-family="Liberation Sans, sans-serif" fill="#0000ff">BCBL1</text>
<text transform="translate(810.2 127.4) rotate(0.03)" font-size="11.8" text-rendering="geometricPrecision" font-family="Liberation Sans, sans-serif" fill="#ff0000">SLKp</text>
<text transform="translate(810.2 195.3) rotate(0.03)" font-size="11.8" text-rendering="geometricPrecision" font-family="Liberation Sans, sans-serif" fill="#ff9900">SLK-5dpi</text>
<text transform="translate(810.2 293.4) rotate(0.03)" font-size="11.8" text-rendering="geometricPrecision" font-family="Liberation Sans, sans-serif" fill="#0000ff">BCBL1</text>
<text transform="translate(810.2 358.3) rotate(0.03)" font-size="11.8" text-rendering="geometricPrecision" font-family="Liberation Sans, sans-serif" fill="#ff0000">SLKp</text>
<text transform="translate(810.2 429.6) rotate(0.03)" font-size="11.8" text-rendering="geometricPrecision" font-family="Liberation Sans, sans-serif" fill="#ff9900">SLK-5dpi</text>
<text transform="translate(810.2 602.2) rotate(0.03)" font-size="11.8" text-rendering="geometricPrecision" font-family="Liberation Sans, sans-serif" fill="#0000ff">BCBL1</text>
<text transform="translate(810.2 670.3) rotate(0.03)" font-size="11.8" text-rendering="geometricPrecision" font-family="Liberation Sans, sans-serif" fill="#ff0000">SLKp</text>
<text transform="translate(810.2 737.5) rotate(0.03)" font-size="11.8" text-rendering="geometricPrecision" font-family="Liberation Sans, sans-serif" fill="#ff9900">SLK-5dpi</text>
<text transform="translate(810.2 836.6) rotate(0.03)" font-size="11.8" text-rendering="geometricPrecision" font-family="Liberation Sans, sans-serif" fill="#0000ff">BCBL1</text>
<text transform="translate(810.2 901.5) rotate(0.03)" font-size="11.8" text-rendering="geometricPrecision" font-family="Liberation Sans, sans-serif" fill="#ff0000">SLKp</text>
<text transform="translate(810.2 972.4) rotate(0.03)" font-size="11.8" text-rendering="geometricPrecision" font-family="Liberation Sans, sans-serif" fill="#ff9900">SLK-5dpi</text>
<line x1="868.85" y1="31" x2="868.85" y2="197.6" stroke="#2a2a2a" stroke-width="1.05"/>
<line x1="868.85" y1="263" x2="868.85" y2="429.4" stroke="#2a2a2a" stroke-width="1.05"/>
<line x1="868.85" y1="573.3" x2="868.85" y2="739" stroke="#2a2a2a" stroke-width="1.05"/>
<line x1="868.85" y1="804.4" x2="868.85" y2="970.3" stroke="#2a2a2a" stroke-width="1.05"/>
<text transform="translate(885.2,80.4) rotate(90)" font-size="13.1" text-rendering="geometricPrecision" font-family="Liberation Sans, sans-serif" fill="#000">H3K27-me3</text>
<text transform="translate(885.2,316.0) rotate(90)" font-size="13.1" text-rendering="geometricPrecision" font-family="Liberation Sans, sans-serif" fill="#000">H3K9-me3</text>
<text transform="translate(885.2,622.5) rotate(90)" font-size="13.1" text-rendering="geometricPrecision" font-family="Liberation Sans, sans-serif" fill="#000">H3K27-me3</text>
<text transform="translate(885.2,857.3) rotate(90)" font-size="13.1" text-rendering="geometricPrecision" font-family="Liberation Sans, sans-serif" fill="#000">H3K9-me3</text>
<line x1="31.0" y1="488.9" x2="786.5" y2="488.9" stroke="#d4d4d4" stroke-width="2.0"/>
<polygon points="31.2,485.2 38.3,485.2 41.9,488.9 38.3,492.6 31.2,492.6" fill="#fff" stroke="#1e1e1e" stroke-width="1.1" stroke-linejoin="miter"/>
<polygon points="43.0,485.2 59.1,485.2 62.7,488.9 59.1,492.6 43.0,492.6" fill="#fff" stroke="#1e1e1e" stroke-width="1.1" stroke-linejoin="miter"/>
<polygon points="66.6,485.2 101.7,485.2 105.3,488.9 101.7,492.6 66.6,492.6" fill="#fff" stroke="#1e1e1e" stroke-width="1.1" stroke-linejoin="miter"/>
<polygon points="105.3,485.2 123.9,485.2 127.5,488.9 123.9,492.6 105.3,492.6" fill="#fff" stroke="#1e1e1e" stroke-width="1.1" stroke-linejoin="miter"/>
<polygon points="128.1,485.2 153.1,485.2 156.7,488.9 153.1,492.6 128.1,492.6" fill="#fff" stroke="#1e1e1e" stroke-width="1.1" stroke-linejoin="miter"/>
<polygon points="157.6,485.2 189.1,485.2 192.7,488.9 189.1,492.6 157.6,492.6" fill="#fff" stroke="#1e1e1e" stroke-width="1.1" stroke-linejoin="miter"/>
<polygon points="193.2,485.2 203.1,485.2 206.7,488.9 203.1,492.6 193.2,492.6" fill="#fff" stroke="#1e1e1e" stroke-width="1.1" stroke-linejoin="miter"/>
<polygon points="207.6,485.2 218.0,485.2 221.6,488.9 218.0,492.6 207.6,492.6" fill="#fff" stroke="#1e1e1e" stroke-width="1.1" stroke-linejoin="miter"/>
<polygon points="231.2,485.2 228.3,485.2 224.7,488.9 228.3,492.6 231.2,492.6" fill="#fff" stroke="#1e1e1e" stroke-width="1.1" stroke-linejoin="miter"/>
<polygon points="239.3,485.2 234.8,485.2 231.2,488.9 234.8,492.6 239.3,492.6" fill="#fff" stroke="#1e1e1e" stroke-width="1.1" stroke-linejoin="miter"/>
<polygon points="250.1,485.2 242.9,485.2 239.3,488.9 242.9,492.6 250.1,492.6" fill="#fff" stroke="#1e1e1e" stroke-width="1.1" stroke-linejoin="miter"/>
<polygon points="266.8,485.2 258.6,485.2 255.0,488.9 258.6,492.6 266.8,492.6" fill="#fff" stroke="#1e1e1e" stroke-width="1.1" stroke-linejoin="miter"/>
<polygon points="275.9,485.2 272.2,488.9 275.9,492.6" fill="#fff" stroke="#1e1e1e" stroke-width="1.1"/>
<polygon points="284.1,485.2 279.3,488.9 284.1,492.6" fill="#fff" stroke="#1e1e1e" stroke-width="1.1"/>
<rect x="289.5" y="485.2" width="22.2" height="7.4" fill="#c4c4c4" stroke="#1e1e1e" stroke-width="1.1"/>
<polygon points="289.5,485.2 284.1,488.9 289.5,492.6" fill="#fff" stroke="#1e1e1e" stroke-width="1.1"/>
<line x1="302.3" y1="485.2" x2="302.3" y2="492.6" stroke="#1e1e1e" stroke-width="0.9"/>
<line x1="304.1" y1="485.2" x2="304.1" y2="492.6" stroke="#1e1e1e" stroke-width="0.9"/>
<line x1="309.6" y1="485.2" x2="309.6" y2="492.6" stroke="#1e1e1e" stroke-width="0.9"/>
<polygon points="329.9,485.2 324.4,485.2 320.8,488.9 324.4,492.6 329.9,492.6" fill="#fff" stroke="#1e1e1e" stroke-width="1.1" stroke-linejoin="miter"/>
<polygon points="340.7,485.2 337.5,488.9 340.7,492.6" fill="#fff" stroke="#1e1e1e" stroke-width="1.1"/>
<polygon points="353.7,485.2 358.0,488.9 353.7,492.6" fill="#fff" stroke="#1e1e1e" stroke-width="1.1"/>
<line x1="366.6" y1="485.2" x2="366.6" y2="492.6" stroke="#1e1e1e" stroke-width="1.2"/>
<line x1="368.3" y1="485.2" x2="368.3" y2="492.6" stroke="#1e1e1e" stroke-width="1.2"/>
<polygon points="369.0,485.2 372.3,485.2 375.9,488.9 372.3,492.6 369.0,492.6" fill="#fff" stroke="#1e1e1e" stroke-width="1.1" stroke-linejoin="miter"/>
<polygon points="396.1,485.2 381.6,485.2 378.0,488.9 381.6,492.6 396.1,492.6" fill="#fff" stroke="#1e1e1e" stroke-width="1.1" stroke-linejoin="miter"/>
<polygon points="423.1,485.2 407.7,485.2 404.1,488.9 407.7,492.6 423.1,492.6" fill="#fff" stroke="#1e1e1e" stroke-width="1.1" stroke-linejoin="miter"/>
<polygon points="428.0,485.2 444.3,485.2 447.9,488.9 444.3,492.6 428.0,492.6" fill="#fff" stroke="#1e1e1e" stroke-width="1.1" stroke-linejoin="miter"/>
<polygon points="447.9,485.2 468.1,485.2 471.7,488.9 468.1,492.6 447.9,492.6" fill="#fff" stroke="#1e1e1e" stroke-width="1.1" stroke-linejoin="miter"/>
<polygon points="485.7,485.2 475.3,485.2 471.7,488.9 475.3,492.6 485.7,492.6" fill="#fff" stroke="#1e1e1e" stroke-width="1.1" stroke-linejoin="miter"/>
<polygon points="511.2,485.2 553.8,485.2 557.4,488.9 553.8,492.6 511.2,492.6" fill="#fff" stroke="#1e1e1e" stroke-width="1.1" stroke-linejoin="miter"/>
<polygon points="558.1,485.2 564.8,485.2 568.4,488.9 564.8,492.6 558.1,492.6" fill="#fff" stroke="#1e1e1e" stroke-width="1.1" stroke-linejoin="miter"/>
<polygon points="568.4,485.2 574.3,485.2 577.9,488.9 574.3,492.6 568.4,492.6" fill="#fff" stroke="#1e1e1e" stroke-width="1.1" stroke-linejoin="miter"/>
<polygon points="580.9,485.2 584.5,488.9 580.9,492.6" fill="#fff" stroke="#1e1e1e" stroke-width="1.1"/>
<polygon points="598.0,485.2 588.6,485.2 585.0,488.9 588.6,492.6 598.0,492.6" fill="#fff" stroke="#1e1e1e" stroke-width="1.1" stroke-linejoin="miter"/>
<line x1="598.0" y1="488.9" x2="634.4" y2="488.9" stroke="#333" stroke-width="1.7"/>
<polygon points="644.6,485.2 638.0,485.2 634.4,488.9 638.0,492.6 644.6,492.6" fill="#fff" stroke="#1e1e1e" stroke-width="1.1" stroke-linejoin="miter"/>
<polygon points="656.3,485.2 661.0,488.9 656.3,492.6" fill="#fff" stroke="#1e1e1e" stroke-width="1.1"/>
<polygon points="674.3,485.2 686.6,485.2 690.2,488.9 686.6,492.6 674.3,492.6" fill="#fff" stroke="#1e1e1e" stroke-width="1.1" stroke-linejoin="miter"/>
<polygon points="707.6,485.2 696.7,485.2 693.1,488.9 696.7,492.6 707.6,492.6" fill="#fff" stroke="#1e1e1e" stroke-width="1.1" stroke-linejoin="miter"/>
<polygon points="707.6,485.2 718.7,485.2 722.3,488.9 718.7,492.6 707.6,492.6" fill="#fff" stroke="#1e1e1e" stroke-width="1.1" stroke-linejoin="miter"/>
<line x1="707.6" y1="485.2" x2="707.6" y2="492.6" stroke="#111" stroke-width="1.6"/>
<polygon points="724.2,485.2 728.7,485.2 732.3,488.9 728.7,492.6 724.2,492.6" fill="#fff" stroke="#1e1e1e" stroke-width="1.1" stroke-linejoin="miter"/>
<polygon points="760.8,485.2 742.5,485.2 738.9,488.9 742.5,492.6 760.8,492.6" fill="#fff" stroke="#1e1e1e" stroke-width="1.1" stroke-linejoin="miter"/>
<polygon points="387.8,500.0 381.6,500.0 378.0,503.7 381.6,507.4 387.8,507.4" fill="#fff" stroke="#1e1e1e" stroke-width="1.1" stroke-linejoin="miter"/>
<polygon points="395.3,500.0 400.5,500.0 404.1,503.7 400.5,507.4 395.3,507.4" fill="#fff" stroke="#1e1e1e" stroke-width="1.1" stroke-linejoin="miter"/>
<polygon points="428.5,500.0 423.4,500.0 419.8,503.7 423.4,507.4 428.5,507.4" fill="#fff" stroke="#1e1e1e" stroke-width="1.1" stroke-linejoin="miter"/>
<polygon points="511.6,500.0 491.0,500.0 487.4,503.7 491.0,507.4 511.6,507.4" fill="#fff" stroke="#1e1e1e" stroke-width="1.1" stroke-linejoin="miter"/>
<line x1="599.9" y1="500.0" x2="599.9" y2="507.4" stroke="#1e1e1e" stroke-width="1.0"/>
<polygon points="600.4,500.0 604.0,503.7 600.4,507.4" fill="#bbb" stroke="#1e1e1e" stroke-width="1.1"/>
<polygon points="604.0,500.0 606.1,500.0 608.6,503.7 606.1,507.4 604.0,507.4" fill="#fff" stroke="#1e1e1e" stroke-width="1.1" stroke-linejoin="miter"/>
<polygon points="608.6,500.0 619.2,500.0 622.8,503.7 619.2,507.4 608.6,507.4" fill="#fff" stroke="#1e1e1e" stroke-width="1.1" stroke-linejoin="miter"/>
<polygon points="622.8,500.0 630.9,500.0 634.5,503.7 630.9,507.4 622.8,507.4" fill="#fff" stroke="#1e1e1e" stroke-width="1.1" stroke-linejoin="miter"/>
<polygon points="644.4,500.0 652.9,500.0 656.5,503.7 652.9,507.4 644.4,507.4" fill="#fff" stroke="#1e1e1e" stroke-width="1.1" stroke-linejoin="miter"/>
<polygon points="659.3,500.0 670.7,500.0 674.3,503.7 670.7,507.4 659.3,507.4" fill="#fff" stroke="#1e1e1e" stroke-width="1.1" stroke-linejoin="miter"/>
<polygon points="689.7,500.0 691.5,503.7 689.7,507.4" fill="#444" stroke="#1e1e1e" stroke-width="1.1"/>
<polygon points="741.3,500.0 735.4,500.0 731.8,503.7 735.4,507.4 741.3,507.4" fill="#fff" stroke="#1e1e1e" stroke-width="1.1" stroke-linejoin="miter"/>
<polygon points="759.8,500.0 782.4,500.0 786.0,503.7 782.4,507.4 759.8,507.4" fill="#fff" stroke="#1e1e1e" stroke-width="1.1" stroke-linejoin="miter"/>
<text transform="translate(226.40 479.40) rotate(0.03)" font-size="9.6" text-anchor="middle" text-rendering="geometricPrecision" font-family="Liberation Sans, sans-serif" fill="#111" stroke="#111" stroke-width="0.15">K2</text>
<text transform="translate(245.20 479.40) rotate(0.03)" font-size="9.6" text-anchor="middle" text-rendering="geometricPrecision" font-family="Liberation Sans, sans-serif" fill="#111" stroke="#111" stroke-width="0.15">K3</text>
<text transform="translate(267.50 479.40) rotate(0.03)" font-size="9.6" text-anchor="middle" text-rendering="geometricPrecision" font-family="Liberation Sans, sans-serif" fill="#111" stroke="#111" stroke-width="0.15">K4</text>
<text transform="translate(340.30 479.40) rotate(0.03)" font-size="9.6" text-anchor="middle" text-rendering="geometricPrecision" font-family="Liberation Sans, sans-serif" fill="#111" stroke="#111" stroke-width="0.15">K6</text>
<text transform="translate(370.50 479.40) rotate(0.03)" font-size="9.6" text-anchor="middle" text-rendering="geometricPrecision" font-family="Liberation Sans, sans-serif" fill="#111" stroke="#111" stroke-width="0.15">16</text>
<text transform="translate(414.00 479.40) rotate(0.03)" font-size="9.6" text-anchor="middle" text-rendering="geometricPrecision" font-family="Liberation Sans, sans-serif" fill="#111" stroke="#111" stroke-width="0.15">19</text>
<text transform="translate(437.10 479.40) rotate(0.03)" font-size="9.6" text-anchor="middle" text-rendering="geometricPrecision" font-family="Liberation Sans, sans-serif" fill="#111" stroke="#111" stroke-width="0.15">21</text>
<text transform="translate(479.20 479.40) rotate(0.03)" font-size="9.6" text-anchor="middle" text-rendering="geometricPrecision" font-family="Liberation Sans, sans-serif" fill="#111" stroke="#111" stroke-width="0.15">23</text>
<text transform="translate(561.30 479.40) rotate(0.03)" font-size="9.6" text-anchor="middle" text-rendering="geometricPrecision" font-family="Liberation Sans, sans-serif" fill="#111" stroke="#111" stroke-width="0.15">26</text>
<text transform="translate(583.30 479.40) rotate(0.03)" font-size="9.6" text-anchor="middle" text-rendering="geometricPrecision" font-family="Liberation Sans, sans-serif" fill="#111" stroke="#111" stroke-width="0.15">28</text>
<text transform="translate(617.80 479.40) rotate(0.03)" font-size="9.6" text-anchor="middle" text-rendering="geometricPrecision" font-family="Liberation Sans, sans-serif" fill="#111" stroke="#111" stroke-width="0.15">29</text>
<text transform="translate(657.40 479.40) rotate(0.03)" font-size="9.6" text-anchor="middle" text-rendering="geometricPrecision" font-family="Liberation Sans, sans-serif" fill="#111" stroke="#111" stroke-width="0.15">35</text>
<text transform="translate(680.00 479.40) rotate(0.03)" font-size="9.6" text-anchor="middle" text-rendering="geometricPrecision" font-family="Liberation Sans, sans-serif" fill="#111" stroke="#111" stroke-width="0.15">37</text>
<text transform="translate(749.60 479.40) rotate(0.03)" font-size="9.6" text-anchor="middle" text-rendering="geometricPrecision" font-family="Liberation Sans, sans-serif" fill="#111" stroke="#111" stroke-width="0.15">43</text>
<text transform="translate(718.70 477.90) rotate(0.03)" font-size="9.6" text-anchor="middle" text-rendering="geometricPrecision" font-family="Liberation Sans, sans-serif" fill="#111" stroke="#111" stroke-width="0.15">40</text>
<text transform="translate(36.00 503.70) rotate(0.03)" font-size="9.6" text-anchor="middle" text-rendering="geometricPrecision" font-family="Liberation Sans, sans-serif" fill="#111" stroke="#111" stroke-width="0.15">K1</text>
<text transform="translate(52.30 503.70) rotate(0.03)" font-size="9.6" text-anchor="middle" text-rendering="geometricPrecision" font-family="Liberation Sans, sans-serif" fill="#111" stroke="#111" stroke-width="0.15">04</text>
<text transform="translate(83.20 503.70) rotate(0.03)" font-size="9.6" text-anchor="middle" text-rendering="geometricPrecision" font-family="Liberation Sans, sans-serif" fill="#111" stroke="#111" stroke-width="0.15">06</text>
<text transform="translate(114.00 503.70) rotate(0.03)" font-size="9.6" text-anchor="middle" text-rendering="geometricPrecision" font-family="Liberation Sans, sans-serif" fill="#111" stroke="#111" stroke-width="0.15">07</text>
<text transform="translate(140.70 503.70) rotate(0.03)" font-size="9.6" text-anchor="middle" text-rendering="geometricPrecision" font-family="Liberation Sans, sans-serif" fill="#111" stroke="#111" stroke-width="0.15">08</text>
<text transform="translate(174.40 503.70) rotate(0.03)" font-size="9.6" text-anchor="middle" text-rendering="geometricPrecision" font-family="Liberation Sans, sans-serif" fill="#111" stroke="#111" stroke-width="0.15">09</text>
<text transform="translate(199.00 503.70) rotate(0.03)" font-size="9.6" text-anchor="middle" text-rendering="geometricPrecision" font-family="Liberation Sans, sans-serif" fill="#111" stroke="#111" stroke-width="0.15">10</text>
<text transform="translate(213.70 503.70) rotate(0.03)" font-size="9.6" text-anchor="middle" text-rendering="geometricPrecision" font-family="Liberation Sans, sans-serif" fill="#111" stroke="#111" stroke-width="0.15">11</text>
<text transform="translate(236.40 503.70) rotate(0.03)" font-size="9.6" text-anchor="middle" text-rendering="geometricPrecision" font-family="Liberation Sans, sans-serif" fill="#111" stroke="#111" stroke-width="0.15">02</text>
<text transform="translate(261.80 503.70) rotate(0.03)" font-size="9.6" text-anchor="middle" text-rendering="geometricPrecision" font-family="Liberation Sans, sans-serif" fill="#111" stroke="#111" stroke-width="0.15">70</text>
<text transform="translate(324.70 503.70) rotate(0.03)" font-size="9.6" text-anchor="middle" text-rendering="geometricPrecision" font-family="Liberation Sans, sans-serif" fill="#111" stroke="#111" stroke-width="0.15">K5</text>
<text transform="translate(355.80 503.70) rotate(0.03)" font-size="9.6" text-anchor="middle" text-rendering="geometricPrecision" font-family="Liberation Sans, sans-serif" fill="#111" stroke="#111" stroke-width="0.15">K7</text>
<text transform="translate(459.40 503.70) rotate(0.03)" font-size="9.6" text-anchor="middle" text-rendering="geometricPrecision" font-family="Liberation Sans, sans-serif" fill="#111" stroke="#111" stroke-width="0.15">22</text>
<text transform="translate(535.00 503.70) rotate(0.03)" font-size="9.6" text-anchor="middle" text-rendering="geometricPrecision" font-family="Liberation Sans, sans-serif" fill="#111" stroke="#111" stroke-width="0.15">25</text>
<text transform="translate(572.10 503.70) rotate(0.03)" font-size="9.6" text-anchor="middle" text-rendering="geometricPrecision" font-family="Liberation Sans, sans-serif" fill="#111" stroke="#111" stroke-width="0.15">27</text>
<text transform="translate(700.90 502.80) rotate(0.03)" font-size="9.6" text-anchor="middle" text-rendering="geometricPrecision" font-family="Liberation Sans, sans-serif" fill="#111" stroke="#111" stroke-width="0.15">39</text>
<text transform="translate(617.00 519.80) rotate(0.03)" font-size="9.6" text-anchor="middle" text-rendering="geometricPrecision" font-family="Liberation Sans, sans-serif" fill="#111" stroke="#111" stroke-width="0.15">30 - 33</text>
<text transform="translate(273.30 513.90) rotate(0.03)" font-size="9.6" text-anchor="middle" text-rendering="geometricPrecision" font-family="Liberation Sans, sans-serif" fill="#111" stroke="#111" stroke-width="0.15">K4.1</text>
<text transform="translate(301.10 513.90) rotate(0.03)" font-size="9.6" text-anchor="middle" text-rendering="geometricPrecision" font-family="Liberation Sans, sans-serif" fill="#111" stroke="#111" stroke-width="0.15">K4.2</text>
<text transform="translate(372.20 519.00) rotate(0.03)" font-size="9.6" text-anchor="middle" text-rendering="geometricPrecision" font-family="Liberation Sans, sans-serif" fill="#111" stroke="#111" stroke-width="0.15">17.5</text>
<text transform="translate(391.70 519.00) rotate(0.03)" font-size="9.6" text-anchor="middle" text-rendering="geometricPrecision" font-family="Liberation Sans, sans-serif" fill="#111" stroke="#111" stroke-width="0.15">17</text>
<text transform="translate(409.70 519.00) rotate(0.03)" font-size="9.6" text-anchor="middle" text-rendering="geometricPrecision" font-family="Liberation Sans, sans-serif" fill="#111" stroke="#111" stroke-width="0.15">18</text>
<text transform="translate(426.70 519.00) rotate(0.03)" font-size="9.6" text-anchor="middle" text-rendering="geometricPrecision" font-family="Liberation Sans, sans-serif" fill="#111" stroke="#111" stroke-width="0.15">20</text>
<text transform="translate(501.50 519.00) rotate(0.03)" font-size="9.6" text-anchor="middle" text-rendering="geometricPrecision" font-family="Liberation Sans, sans-serif" fill="#111" stroke="#111" stroke-width="0.15">24</text>
<text transform="translate(649.10 519.00) rotate(0.03)" font-size="9.6" text-anchor="middle" text-rendering="geometricPrecision" font-family="Liberation Sans, sans-serif" fill="#111" stroke="#111" stroke-width="0.15">24</text>
<text transform="translate(665.30 519.00) rotate(0.03)" font-size="9.6" text-anchor="middle" text-rendering="geometricPrecision" font-family="Liberation Sans, sans-serif" fill="#111" stroke="#111" stroke-width="0.15">24</text>
<text transform="translate(690.70 519.00) rotate(0.03)" font-size="9.6" text-anchor="middle" text-rendering="geometricPrecision" font-family="Liberation Sans, sans-serif" fill="#111" stroke="#111" stroke-width="0.15">38</text>
<text transform="translate(738.20 519.00) rotate(0.03)" font-size="9.6" text-anchor="middle" text-rendering="geometricPrecision" font-family="Liberation Sans, sans-serif" fill="#111" stroke="#111" stroke-width="0.15">42</text>
<text transform="translate(771.70 519.00) rotate(0.03)" font-size="9.6" text-anchor="middle" text-rendering="geometricPrecision" font-family="Liberation Sans, sans-serif" fill="#111" stroke="#111" stroke-width="0.15">44</text>
<line x1="271.2" y1="481.2" x2="274.2" y2="485.0" stroke="#1e1e1e" stroke-width="0.8" stroke-dasharray="1.8,0.8"/>
<line x1="280.9" y1="495.8" x2="275.9" y2="504.2" stroke="#1e1e1e" stroke-width="0.9"/>
<line x1="289.5" y1="495.8" x2="295.5" y2="504.4" stroke="#1e1e1e" stroke-width="0.9"/>
<line x1="375.8" y1="509.2" x2="378.5" y2="507.1" stroke="#1e1e1e" stroke-width="1.0"/>
<line x1="391.6" y1="492.7" x2="391.6" y2="508.0" stroke="#1e1e1e" stroke-width="1.0"/>
<line x1="403.7" y1="506.2" x2="406.8" y2="509.3" stroke="#1e1e1e" stroke-width="1.0"/>
<line x1="600.0" y1="483.8" x2="609.4" y2="479.5" stroke="#1e1e1e" stroke-width="0.9"/>
<line x1="626.1" y1="479.5" x2="634.9" y2="483.8" stroke="#1e1e1e" stroke-width="0.9"/>
<line x1="716.4" y1="479.5" x2="714.7" y2="483.3" stroke="#1e1e1e" stroke-width="0.8"/>
<line x1="722.3" y1="479.5" x2="724.7" y2="483.8" stroke="#1e1e1e" stroke-width="0.8"/>
<line x1="32.0" y1="1030.9" x2="788.0" y2="1030.9" stroke="#d4d4d4" stroke-width="2.0"/>
<polygon points="45.0,1027.2 35.1,1027.2 31.5,1030.9 35.1,1034.6 45.0,1034.6" fill="#fff" stroke="#1e1e1e" stroke-width="1.1" stroke-linejoin="miter"/>
<polygon points="54.2,1027.2 48.6,1027.2 45.0,1030.9 48.6,1034.6 54.2,1034.6" fill="#fff" stroke="#1e1e1e" stroke-width="1.1" stroke-linejoin="miter"/>
<polygon points="59.6,1027.2 57.5,1027.2 54.2,1030.9 57.5,1034.6 59.6,1034.6" fill="#fff" stroke="#1e1e1e" stroke-width="1.1" stroke-linejoin="miter"/>
<polygon points="75.2,1027.2 65.9,1027.2 62.3,1030.9 65.9,1034.6 75.2,1034.6" fill="#fff" stroke="#1e1e1e" stroke-width="1.1" stroke-linejoin="miter"/>
<line x1="77.4" y1="1027.2" x2="77.4" y2="1034.6" stroke="#1e1e1e" stroke-width="1.0"/>
<line x1="77.4" y1="1030.9" x2="87.1" y2="1030.9" stroke="#333" stroke-width="1.7"/>
<polygon points="87.1,1027.2 106.7,1027.2 110.3,1030.9 106.7,1034.6 87.1,1034.6" fill="#fff" stroke="#1e1e1e" stroke-width="1.1" stroke-linejoin="miter"/>
<polygon points="123.3,1027.2 127.2,1030.9 123.3,1034.6" fill="#fff" stroke="#1e1e1e" stroke-width="1.1"/>
<polygon points="127.2,1027.2 131.1,1030.9 127.2,1034.6" fill="#fff" stroke="#1e1e1e" stroke-width="1.1"/>
<polygon points="129.2,1028.7 131.4,1030.9 129.2,1033.1" fill="#222"/>
<polygon points="137.0,1027.2 133.3,1030.9 137.0,1034.6" fill="#fff" stroke="#1e1e1e" stroke-width="1.1"/>
<polygon points="142.3,1027.2 138.4,1030.9 142.3,1034.6" fill="#fff" stroke="#1e1e1e" stroke-width="1.1"/>
<polygon points="142.3,1027.2 148.2,1027.2 151.8,1030.9 148.2,1034.6 142.3,1034.6" fill="#fff" stroke="#1e1e1e" stroke-width="1.1" stroke-linejoin="miter"/>
<polygon points="161.8,1027.2 157.6,1027.2 154.0,1030.9 157.6,1034.6 161.8,1034.6" fill="#fff" stroke="#1e1e1e" stroke-width="1.1" stroke-linejoin="miter"/>
<line x1="189.6" y1="1027.2" x2="189.6" y2="1034.6" stroke="#1e1e1e" stroke-width="1.3"/>
<line x1="191.2" y1="1027.2" x2="191.2" y2="1034.6" stroke="#1e1e1e" stroke-width="0.9"/>
<polygon points="191.6,1027.2 202.2,1027.2 205.8,1030.9 202.2,1034.6 191.6,1034.6" fill="#fff" stroke="#1e1e1e" stroke-width="1.1" stroke-linejoin="miter"/>
<polygon points="223.6,1027.2 212.5,1027.2 208.9,1030.9 212.5,1034.6 223.6,1034.6" fill="#fff" stroke="#1e1e1e" stroke-width="1.1" stroke-linejoin="miter"/>
<polygon points="256.8,1027.2 235.5,1027.2 231.9,1030.9 235.5,1034.6 256.8,1034.6" fill="#fff" stroke="#1e1e1e" stroke-width="1.1" stroke-linejoin="miter"/>
<polygon points="263.2,1027.2 258.0,1030.9 263.2,1034.6" fill="#fff" stroke="#1e1e1e" stroke-width="1.1"/>
<polygon points="283.7,1027.2 273.5,1027.2 269.9,1030.9 273.5,1034.6 283.7,1034.6" fill="#fff" stroke="#1e1e1e" stroke-width="1.1" stroke-linejoin="miter"/>
<polygon points="288.9,1027.2 284.1,1030.9 288.9,1034.6" fill="#fff" stroke="#1e1e1e" stroke-width="1.1"/>
<polygon points="312.2,1027.2 298.4,1027.2 294.8,1030.9 298.4,1034.6 312.2,1034.6" fill="#fff" stroke="#1e1e1e" stroke-width="1.1" stroke-linejoin="miter"/>
<line x1="302.7" y1="1027.2" x2="302.7" y2="1034.6" stroke="#1e1e1e" stroke-width="0.9"/>
<line x1="305.0" y1="1027.2" x2="305.0" y2="1034.6" stroke="#1e1e1e" stroke-width="0.9"/>
<line x1="306.7" y1="1027.2" x2="306.7" y2="1034.6" stroke="#1e1e1e" stroke-width="0.9"/>
<polygon points="318.1,1027.2 313.1,1030.9 318.1,1034.6" fill="#fff" stroke="#1e1e1e" stroke-width="1.1"/>
<polygon points="334.0,1027.2 325.8,1027.2 322.2,1030.9 325.8,1034.6 334.0,1034.6" fill="#fff" stroke="#1e1e1e" stroke-width="1.1" stroke-linejoin="miter"/>
<polygon points="347.1,1027.2 337.6,1027.2 334.0,1030.9 337.6,1034.6 347.1,1034.6" fill="#fff" stroke="#1e1e1e" stroke-width="1.1" stroke-linejoin="miter"/>
<polygon points="357.8,1027.2 351.4,1027.2 347.8,1030.9 351.4,1034.6 357.8,1034.6" fill="#fff" stroke="#1e1e1e" stroke-width="1.1" stroke-linejoin="miter"/>
<polygon points="383.9,1027.2 362.1,1027.2 358.5,1030.9 362.1,1034.6 383.9,1034.6" fill="#fff" stroke="#1e1e1e" stroke-width="1.1" stroke-linejoin="miter"/>
<polygon points="394.6,1027.2 388.2,1027.2 384.6,1030.9 388.2,1034.6 394.6,1034.6" fill="#fff" stroke="#1e1e1e" stroke-width="1.1" stroke-linejoin="miter"/>
<line x1="394.6" y1="1027.2" x2="394.6" y2="1034.6" stroke="#111" stroke-width="1.6"/>
<polygon points="394.6,1027.2 420.7,1027.2 424.3,1030.9 420.7,1034.6 394.6,1034.6" fill="#fff" stroke="#1e1e1e" stroke-width="1.1" stroke-linejoin="miter"/>
<polygon points="424.3,1027.2 505.5,1027.2 509.1,1030.9 505.5,1034.6 424.3,1034.6" fill="#fff" stroke="#1e1e1e" stroke-width="1.1" stroke-linejoin="miter"/>
<polygon points="515.5,1027.2 512.6,1027.2 509.1,1030.9 512.6,1034.6 515.5,1034.6" fill="#fff" stroke="#1e1e1e" stroke-width="1.1" stroke-linejoin="miter"/>
<polygon points="529.8,1027.2 519.8,1027.2 516.2,1030.9 519.8,1034.6 529.8,1034.6" fill="#fff" stroke="#1e1e1e" stroke-width="1.1" stroke-linejoin="miter"/>
<polygon points="541.2,1027.2 538.1,1030.9 541.2,1034.6" fill="#fff" stroke="#1e1e1e" stroke-width="1.1"/>
<polygon points="541.6,1027.2 553.0,1027.2 556.6,1030.9 553.0,1034.6 541.6,1034.6" fill="#fff" stroke="#1e1e1e" stroke-width="1.1" stroke-linejoin="miter"/>
<polygon points="557.3,1027.2 564.2,1027.2 567.8,1030.9 564.2,1034.6 557.3,1034.6" fill="#fff" stroke="#1e1e1e" stroke-width="1.1" stroke-linejoin="miter"/>
<polygon points="596.6,1027.2 576.8,1027.2 573.9,1030.9 576.8,1034.6 596.6,1034.6" fill="#c4c4c4" stroke="#1e1e1e" stroke-width="1.1" stroke-linejoin="miter"/>
<rect x="578.8" y="1027.7" width="2.4" height="6.4" fill="#8a8a8a"/>
<line x1="577.4" y1="1027.2" x2="577.4" y2="1034.6" stroke="#1e1e1e" stroke-width="0.9"/>
<line x1="582.8" y1="1027.2" x2="582.8" y2="1034.6" stroke="#111" stroke-width="1.4"/>
<line x1="595.3" y1="1027.2" x2="595.3" y2="1034.6" stroke="#1e1e1e" stroke-width="0.9"/>
<polygon points="627.4,1027.2 623.5,1027.2 619.9,1030.9 623.5,1034.6 627.4,1034.6" fill="#fff" stroke="#1e1e1e" stroke-width="1.1" stroke-linejoin="miter"/>
<polygon points="635.5,1027.2 631.0,1027.2 627.4,1030.9 631.0,1034.6 635.5,1034.6" fill="#fff" stroke="#1e1e1e" stroke-width="1.1" stroke-linejoin="miter"/>
<polygon points="674.8,1027.2 641.6,1027.2 638.0,1030.9 641.6,1034.6 674.8,1034.6" fill="#fff" stroke="#1e1e1e" stroke-width="1.1" stroke-linejoin="miter"/>
<rect x="646.8" y="1027.2" width="16.6" height="7.4" fill="#bdbdbd" stroke="#1e1e1e" stroke-width="0.9"/>
<polygon points="682.7,1027.2 687.9,1027.2 691.5,1030.9 687.9,1034.6 682.7,1034.6" fill="#fff" stroke="#1e1e1e" stroke-width="1.1" stroke-linejoin="miter"/>
<polygon points="696.2,1027.2 703.8,1027.2 707.4,1030.9 703.8,1034.6 696.2,1034.6" fill="#fff" stroke="#1e1e1e" stroke-width="1.1" stroke-linejoin="miter"/>
<polygon points="751.3,1027.2 712.9,1027.2 709.3,1030.9 712.9,1034.6 751.3,1034.6" fill="#fff" stroke="#1e1e1e" stroke-width="1.1" stroke-linejoin="miter"/>
<polygon points="776.5,1027.2 757.6,1027.2 753.2,1030.9 757.6,1034.6 776.5,1034.6" fill="#fff" stroke="#1e1e1e" stroke-width="1.1" stroke-linejoin="miter"/>
<rect x="758.0" y="1027.6" width="1.9" height="6.6" fill="#000"/>
<rect x="761.0" y="1027.6" width="1.9" height="6.6" fill="#000"/>
<rect x="762.9" y="1027.6" width="1.4" height="6.6" fill="#8c8c8c"/>
<rect x="764.3" y="1027.6" width="1.8" height="6.6" fill="#000"/>
<rect x="766.0" y="1027.6" width="2.0" height="6.6" fill="#b0b0b0"/>
<rect x="770.4" y="1027.6" width="0.9" height="6.6" fill="#222"/>
<rect x="771.5" y="1027.6" width="2.5" height="6.6" fill="#8c8c8c"/>
<rect x="774.3" y="1027.6" width="0.7" height="6.6" fill="#555"/>
<rect x="778.2" y="1027.2" width="9.4" height="7.4" fill="#c4c4c4" stroke="#1e1e1e" stroke-width="1.1"/>
<polygon points="87.7,1041.8 81.3,1041.8 77.7,1045.5 81.3,1049.2 87.7,1049.2" fill="#fff" stroke="#1e1e1e" stroke-width="1.1" stroke-linejoin="miter"/>
<polygon points="112.4,1041.8 116.7,1041.8 120.3,1045.5 116.7,1049.2 112.4,1049.2" fill="#fff" stroke="#1e1e1e" stroke-width="1.1" stroke-linejoin="miter"/>
<polygon points="119.6,1042.9 122.6,1045.5 119.6,1048.1" fill="#222"/>
<polygon points="160.9,1041.8 183.9,1041.8 187.5,1045.5 183.9,1049.2 160.9,1049.2" fill="#fff" stroke="#1e1e1e" stroke-width="1.1" stroke-linejoin="miter"/>
<polygon points="537.6,1041.8 532.4,1041.8 528.8,1045.5 532.4,1049.2 537.6,1049.2" fill="#fff" stroke="#1e1e1e" stroke-width="1.1" stroke-linejoin="miter"/>
<text transform="translate(38.80 1023.50) rotate(0.03)" font-size="9.9" text-anchor="middle" text-rendering="geometricPrecision" font-family="Liberation Sans, sans-serif" fill="#111" stroke="#111" stroke-width="0.15">45</text>
<text transform="translate(57.40 1023.50) rotate(0.03)" font-size="9.9" text-anchor="middle" text-rendering="geometricPrecision" font-family="Liberation Sans, sans-serif" fill="#111" stroke="#111" stroke-width="0.15">47</text>
<text transform="translate(160.20 1023.50) rotate(0.03)" font-size="9.9" text-anchor="middle" text-rendering="geometricPrecision" font-family="Liberation Sans, sans-serif" fill="#111" stroke="#111" stroke-width="0.15">55</text>
<text transform="translate(198.20 1023.50) rotate(0.03)" font-size="9.9" text-anchor="middle" text-rendering="geometricPrecision" font-family="Liberation Sans, sans-serif" fill="#111" stroke="#111" stroke-width="0.15">57</text>
<text transform="translate(249.20 1023.50) rotate(0.03)" font-size="9.9" text-anchor="middle" text-rendering="geometricPrecision" font-family="Liberation Sans, sans-serif" fill="#111" stroke="#111" stroke-width="0.15">vIRF-4</text>
<text transform="translate(308.40 1023.50) rotate(0.03)" font-size="9.9" text-anchor="middle" text-rendering="geometricPrecision" font-family="Liberation Sans, sans-serif" fill="#111" stroke="#111" stroke-width="0.15">vIRF-2</text>
<text transform="translate(341.60 1023.50) rotate(0.03)" font-size="9.9" text-anchor="middle" text-rendering="geometricPrecision" font-family="Liberation Sans, sans-serif" fill="#111" stroke="#111" stroke-width="0.15">59</text>
<text transform="translate(391.50 1023.50) rotate(0.03)" font-size="9.9" text-anchor="middle" text-rendering="geometricPrecision" font-family="Liberation Sans, sans-serif" fill="#111" stroke="#111" stroke-width="0.15">62</text>
<text transform="translate(519.80 1023.50) rotate(0.03)" font-size="9.9" text-anchor="middle" text-rendering="geometricPrecision" font-family="Liberation Sans, sans-serif" fill="#111" stroke="#111" stroke-width="0.15">66</text>
<text transform="translate(562.10 1023.50) rotate(0.03)" font-size="9.9" text-anchor="middle" text-rendering="geometricPrecision" font-family="Liberation Sans, sans-serif" fill="#111" stroke="#111" stroke-width="0.15">69</text>
<text transform="translate(622.90 1023.50) rotate(0.03)" font-size="9.9" text-anchor="middle" text-rendering="geometricPrecision" font-family="Liberation Sans, sans-serif" fill="#111" stroke="#111" stroke-width="0.15">72</text>
<text transform="translate(687.40 1023.50) rotate(0.03)" font-size="9.9" text-anchor="middle" text-rendering="geometricPrecision" font-family="Liberation Sans, sans-serif" fill="#111" stroke="#111" stroke-width="0.15">K14</text>
<text transform="translate(765.10 1023.50) rotate(0.03)" font-size="9.9" text-anchor="middle" text-rendering="geometricPrecision" font-family="Liberation Sans, sans-serif" fill="#111" stroke="#111" stroke-width="0.15">K15</text>
<text transform="translate(88.70 1021.20) rotate(0.03)" font-size="9.9" text-anchor="middle" text-rendering="geometricPrecision" font-family="Liberation Sans, sans-serif" fill="#111" stroke="#111" stroke-width="0.15">50</text>
<text transform="translate(125.00 1019.50) rotate(0.03)" font-size="9.9" text-anchor="middle" text-rendering="geometricPrecision" font-family="Liberation Sans, sans-serif" fill="#111" stroke="#111" stroke-width="0.15">K8.1</text>
<text transform="translate(145.20 1019.50) rotate(0.03)" font-size="9.9" text-anchor="middle" text-rendering="geometricPrecision" font-family="Liberation Sans, sans-serif" fill="#111" stroke="#111" stroke-width="0.15">53</text>
<text transform="translate(540.00 1020.20) rotate(0.03)" font-size="9.9" text-anchor="middle" text-rendering="geometricPrecision" font-family="Liberation Sans, sans-serif" fill="#111" stroke="#111" stroke-width="0.15">67A</text>
<text transform="translate(49.70 1046.00) rotate(0.03)" font-size="9.9" text-anchor="middle" text-rendering="geometricPrecision" font-family="Liberation Sans, sans-serif" fill="#111" stroke="#111" stroke-width="0.15">46</text>
<text transform="translate(69.40 1046.00) rotate(0.03)" font-size="9.9" text-anchor="middle" text-rendering="geometricPrecision" font-family="Liberation Sans, sans-serif" fill="#111" stroke="#111" stroke-width="0.15">48</text>
<text transform="translate(217.90 1046.00) rotate(0.03)" font-size="9.9" text-anchor="middle" text-rendering="geometricPrecision" font-family="Liberation Sans, sans-serif" fill="#111" stroke="#111" stroke-width="0.15">K9</text>
<text transform="translate(279.90 1046.00) rotate(0.03)" font-size="9.9" text-anchor="middle" text-rendering="geometricPrecision" font-family="Liberation Sans, sans-serif" fill="#111" stroke="#111" stroke-width="0.15">vIRF-3</text>
<text transform="translate(328.60 1046.00) rotate(0.03)" font-size="9.9" text-anchor="middle" text-rendering="geometricPrecision" font-family="Liberation Sans, sans-serif" fill="#111" stroke="#111" stroke-width="0.15">58</text>
<text transform="translate(354.20 1046.00) rotate(0.03)" font-size="9.9" text-anchor="middle" text-rendering="geometricPrecision" font-family="Liberation Sans, sans-serif" fill="#111" stroke="#111" stroke-width="0.15">60</text>
<text transform="translate(370.90 1046.00) rotate(0.03)" font-size="9.9" text-anchor="middle" text-rendering="geometricPrecision" font-family="Liberation Sans, sans-serif" fill="#111" stroke="#111" stroke-width="0.15">61</text>
<text transform="translate(408.90 1046.00) rotate(0.03)" font-size="9.9" text-anchor="middle" text-rendering="geometricPrecision" font-family="Liberation Sans, sans-serif" fill="#111" stroke="#111" stroke-width="0.15">63</text>
<text transform="translate(466.30 1046.00) rotate(0.03)" font-size="9.9" text-anchor="middle" text-rendering="geometricPrecision" font-family="Liberation Sans, sans-serif" fill="#111" stroke="#111" stroke-width="0.15">64</text>
<text transform="translate(512.70 1046.00) rotate(0.03)" font-size="9.9" text-anchor="middle" text-rendering="geometricPrecision" font-family="Liberation Sans, sans-serif" fill="#111" stroke="#111" stroke-width="0.15">65</text>
<text transform="translate(549.50 1046.00) rotate(0.03)" font-size="9.9" text-anchor="middle" text-rendering="geometricPrecision" font-family="Liberation Sans, sans-serif" fill="#111" stroke="#111" stroke-width="0.15">68</text>
<text transform="translate(573.20 1046.00) rotate(0.03)" font-size="9.9" text-anchor="middle" text-rendering="geometricPrecision" font-family="Liberation Sans, sans-serif" fill="#111" stroke="#111" stroke-width="0.15">K12</text>
<text transform="translate(632.70 1046.00) rotate(0.03)" font-size="9.9" text-anchor="middle" text-rendering="geometricPrecision" font-family="Liberation Sans, sans-serif" fill="#111" stroke="#111" stroke-width="0.15">71</text>
<text transform="translate(657.70 1046.00) rotate(0.03)" font-size="9.9" text-anchor="middle" text-rendering="geometricPrecision" font-family="Liberation Sans, sans-serif" fill="#111" stroke="#111" stroke-width="0.15">73</text>
<text transform="translate(701.00 1046.00) rotate(0.03)" font-size="9.9" text-anchor="middle" text-rendering="geometricPrecision" font-family="Liberation Sans, sans-serif" fill="#111" stroke="#111" stroke-width="0.15">74</text>
<text transform="translate(730.20 1046.00) rotate(0.03)" font-size="9.9" text-anchor="middle" text-rendering="geometricPrecision" font-family="Liberation Sans, sans-serif" fill="#111" stroke="#111" stroke-width="0.15">75</text>
<text transform="translate(783.40 1046.00) rotate(0.03)" font-size="9.9" text-anchor="middle" text-rendering="geometricPrecision" font-family="Liberation Sans, sans-serif" fill="#111" stroke="#111" stroke-width="0.15">TR</text>
<text transform="translate(146.70 1046.00) rotate(0.03)" font-size="9.9" text-anchor="middle" text-rendering="geometricPrecision" font-family="Liberation Sans, sans-serif" fill="#111" stroke="#111" stroke-width="0.15">54</text>
<text transform="translate(135.60 1052.50) rotate(0.03)" font-size="9.9" text-anchor="middle" text-rendering="geometricPrecision" font-family="Liberation Sans, sans-serif" fill="#111" stroke="#111" stroke-width="0.15">52</text>
<text transform="translate(83.70 1060.00) rotate(0.03)" font-size="9.9" text-anchor="middle" text-rendering="geometricPrecision" font-family="Liberation Sans, sans-serif" fill="#111" stroke="#111" stroke-width="0.15">49</text>
<text transform="translate(117.00 1060.00) rotate(0.03)" font-size="9.9" text-anchor="middle" text-rendering="geometricPrecision" font-family="Liberation Sans, sans-serif" fill="#111" stroke="#111" stroke-width="0.15">K8</text>
<text transform="translate(174.00 1060.00) rotate(0.03)" font-size="9.9" text-anchor="middle" text-rendering="geometricPrecision" font-family="Liberation Sans, sans-serif" fill="#111" stroke="#111" stroke-width="0.15">56</text>
<text transform="translate(533.30 1060.00) rotate(0.03)" font-size="9.9" text-anchor="middle" text-rendering="geometricPrecision" font-family="Liberation Sans, sans-serif" fill="#111" stroke="#111" stroke-width="0.15">67</text>
<text transform="translate(598.90 1069.20) rotate(0.03)" font-size="9.9" text-anchor="middle" text-rendering="geometricPrecision" font-family="Liberation Sans, sans-serif" fill="#111" stroke="#111" stroke-width="0.15">miRs-K12-1 to -12</text>
<line x1="79.4" y1="1025.7" x2="84.6" y2="1020.2" stroke="#1e1e1e" stroke-width="0.9"/>
<line x1="93.7" y1="1020.2" x2="98.4" y2="1025.7" stroke="#1e1e1e" stroke-width="0.9"/>
<line x1="123.3" y1="1021.6" x2="125.2" y2="1025.9" stroke="#1e1e1e" stroke-width="1.0" stroke-dasharray="2.2,0.7"/>
<line x1="125.9" y1="1021.6" x2="129.5" y2="1025.9" stroke="#1e1e1e" stroke-width="1.0" stroke-dasharray="2.2,0.7"/>
<line x1="141.9" y1="1022.0" x2="141.2" y2="1026.2" stroke="#1e1e1e" stroke-width="0.8"/>
<line x1="135.6" y1="1036.3" x2="135.6" y2="1043.6" stroke="#1e1e1e" stroke-width="0.9"/>
<line x1="538.0" y1="1022.4" x2="538.5" y2="1025.2" stroke="#1e1e1e" stroke-width="0.7"/>
<line x1="570.8" y1="1059.4" x2="624.5" y2="1059.4" stroke="#111" stroke-width="1.3"/>
<polygon points="573.9,1052.5 570.8,1054.9 573.9,1057.3" fill="#000"/>
<polygon points="577.5,1052.5 574.4,1054.9 577.5,1057.3" fill="#000"/>
<polygon points="592.6,1052.5 589.5,1054.9 592.6,1057.3" fill="#000"/>
<polygon points="599.4,1052.5 596.3,1054.9 599.4,1057.3" fill="#000"/>
<polygon points="605.2,1052.5 602.1,1054.9 605.2,1057.3" fill="#000"/>
<polygon points="607.7,1052.5 604.6,1054.9 607.7,1057.3" fill="#000"/>
<polygon points="610.1,1052.5 607.0,1054.9 610.1,1057.3" fill="#000"/>
<polygon points="615.4,1052.5 612.3,1054.9 615.4,1057.3" fill="#000"/>
<polygon points="617.9,1052.5 614.8,1054.9 617.9,1057.3" fill="#000"/>
<polygon points="620.3,1052.5 617.2,1054.9 620.3,1057.3" fill="#000"/>
<polygon points="622.4,1052.5 619.3,1054.9 622.4,1057.3" fill="#000"/>
<polygon points="624.7,1052.5 621.6,1054.9 624.7,1057.3" fill="#000"/>
</svg>
</body></html>
